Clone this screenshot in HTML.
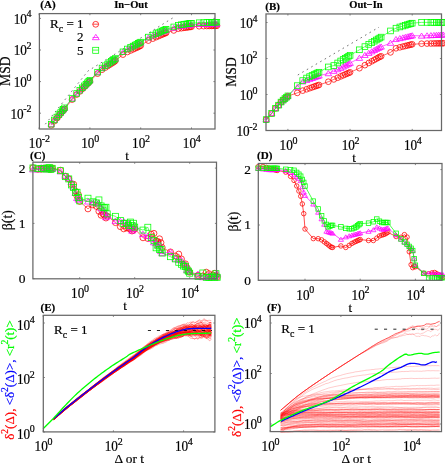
<!DOCTYPE html><html><head><meta charset="utf-8"><style>
html,body{margin:0;padding:0;background:#fff;width:445px;height:463px;overflow:hidden}
svg{display:block;font-family:"Liberation Serif",serif;will-change:transform}
text{stroke:currentColor;stroke-width:0.2px}
</style></head><body>
<svg width="445" height="463" viewBox="0 0 445 463">
<path d="M45.3 124.2L88.1 70.9L173.3 17.6" fill="none" stroke="#444" stroke-width="0.75" stroke-dasharray="1.6 3.6"/>
<path d="M51.22 125.27 54.39 121.09 56.85 118.12 58.87 115.69 60.57 113.65 62.04 111.87 63.34 110.3 64.5 108.9 72.15 99.57 76.62 94.58 79.79 91.41 82.25 88.95 84.27 86.93 85.97 85.23 87.44 83.76 88.74 82.46 89.9 81.3 97.55 73.63 102.02 69.68 105.19 67.61 107.65 66 109.67 64.69 111.37 63.57 112.84 62.61 114.14 61.76 115.3 60.86 122.95 54.57 127.42 51.94 130.59 50.45 133.05 49.3 135.07 48.36 136.77 47.57 138.24 46.87 139.54 46.2 140.7 45.57 148.35 40.55 152.82 38.57 155.99 37.17 158.45 36.09 160.47 35.2 162.17 34.45 163.64 33.8 164.94 33.23 166.1 32.86 173.75 30.4 178.22 28.67 181.39 28.2 183.85 27.83 185.87 27.53 187.57 27.28 189.04 27.06 190.34 26.87 191.5 26.7 199.15 26.2 203.62 26.06 206.79 25.97 209.25 25.9 211.27 25.84 212.97 25.79 214.44 25.75 215.74 25.71 216.9 25.7" fill="none" stroke="#ff0000" stroke-width="0.6" stroke-linejoin="round" />
<g fill="none" stroke="#ff0000" stroke-width="0.75"><circle cx="51.22" cy="125.27" r="2.9"/><circle cx="54.39" cy="121.09" r="2.9"/><circle cx="56.85" cy="118.12" r="2.9"/><circle cx="58.87" cy="115.69" r="2.9"/><circle cx="60.57" cy="113.65" r="2.9"/><circle cx="62.04" cy="111.87" r="2.9"/><circle cx="63.34" cy="110.3" r="2.9"/><circle cx="64.5" cy="108.9" r="2.9"/><circle cx="72.15" cy="99.57" r="2.9"/><circle cx="76.62" cy="94.58" r="2.9"/><circle cx="79.79" cy="91.41" r="2.9"/><circle cx="82.25" cy="88.95" r="2.9"/><circle cx="84.27" cy="86.93" r="2.9"/><circle cx="85.97" cy="85.23" r="2.9"/><circle cx="87.44" cy="83.76" r="2.9"/><circle cx="88.74" cy="82.46" r="2.9"/><circle cx="89.9" cy="81.3" r="2.9"/><circle cx="97.55" cy="73.63" r="2.9"/><circle cx="102.02" cy="69.68" r="2.9"/><circle cx="105.19" cy="67.61" r="2.9"/><circle cx="107.65" cy="66" r="2.9"/><circle cx="109.67" cy="64.69" r="2.9"/><circle cx="111.37" cy="63.57" r="2.9"/><circle cx="112.84" cy="62.61" r="2.9"/><circle cx="114.14" cy="61.76" r="2.9"/><circle cx="115.3" cy="60.86" r="2.9"/><circle cx="122.95" cy="54.57" r="2.9"/><circle cx="127.42" cy="51.94" r="2.9"/><circle cx="130.59" cy="50.45" r="2.9"/><circle cx="133.05" cy="49.3" r="2.9"/><circle cx="135.07" cy="48.36" r="2.9"/><circle cx="136.77" cy="47.57" r="2.9"/><circle cx="138.24" cy="46.87" r="2.9"/><circle cx="139.54" cy="46.2" r="2.9"/><circle cx="140.7" cy="45.57" r="2.9"/><circle cx="148.35" cy="40.55" r="2.9"/><circle cx="152.82" cy="38.57" r="2.9"/><circle cx="155.99" cy="37.17" r="2.9"/><circle cx="158.45" cy="36.09" r="2.9"/><circle cx="160.47" cy="35.2" r="2.9"/><circle cx="162.17" cy="34.45" r="2.9"/><circle cx="163.64" cy="33.8" r="2.9"/><circle cx="164.94" cy="33.23" r="2.9"/><circle cx="166.1" cy="32.86" r="2.9"/><circle cx="173.75" cy="30.4" r="2.9"/><circle cx="178.22" cy="28.67" r="2.9"/><circle cx="181.39" cy="28.2" r="2.9"/><circle cx="183.85" cy="27.83" r="2.9"/><circle cx="185.87" cy="27.53" r="2.9"/><circle cx="187.57" cy="27.28" r="2.9"/><circle cx="189.04" cy="27.06" r="2.9"/><circle cx="190.34" cy="26.87" r="2.9"/><circle cx="191.5" cy="26.7" r="2.9"/><circle cx="199.15" cy="26.2" r="2.9"/><circle cx="203.62" cy="26.06" r="2.9"/><circle cx="206.79" cy="25.97" r="2.9"/><circle cx="209.25" cy="25.9" r="2.9"/><circle cx="211.27" cy="25.84" r="2.9"/><circle cx="212.97" cy="25.79" r="2.9"/><circle cx="214.44" cy="25.75" r="2.9"/><circle cx="215.74" cy="25.71" r="2.9"/><circle cx="216.9" cy="25.7" r="2.9"/></g>
<path d="M51.22 124.47 54.39 120.29 56.85 117.32 58.87 114.89 60.57 112.85 62.04 111.07 63.34 109.5 64.5 108.1 72.15 98.77 76.62 93.78 79.79 90.61 82.25 88.15 84.27 86.13 85.97 84.43 87.44 82.96 88.74 81.66 89.9 80.5 97.55 72.45 102.02 68.28 105.19 66.05 107.65 64.32 109.67 62.9 111.37 61.71 112.84 60.67 114.14 59.75 115.3 58.79 122.95 52.12 127.42 49.27 130.59 47.64 133.05 46.41 135.07 45.41 136.77 44.57 138.24 43.83 139.54 43.19 140.7 42.58 148.35 37.71 152.82 35.83 155.99 34.49 158.45 33.46 160.47 32.61 162.17 31.89 163.64 31.27 164.94 30.73 166.1 30.38 173.75 28.08 178.22 26.43 181.39 26.03 183.85 25.71 185.87 25.45 187.57 25.23 189.04 25.05 190.34 24.88 191.5 24.73 199.15 24.38 203.62 24.34 206.79 24.27 209.25 24.2 211.27 24.14 212.97 24.09 214.44 24.05 215.74 24.01 216.9 24" fill="none" stroke="#ff00ff" stroke-width="0.6" stroke-linejoin="round" />
<g fill="none" stroke="#ff00ff" stroke-width="0.75"><path d="M51.22 121.72L54.38 126.67H48.06Z"/><path d="M54.39 117.54L57.55 122.49H51.23Z"/><path d="M56.85 114.57L60.02 119.52H53.69Z"/><path d="M58.87 112.14L62.03 117.09H55.7Z"/><path d="M60.57 110.1L63.73 115.05H57.4Z"/><path d="M62.04 108.32L65.2 113.27H58.88Z"/><path d="M63.34 106.75L66.5 111.7H60.18Z"/><path d="M64.5 105.35L67.66 110.3H61.34Z"/><path d="M72.15 96.02L75.31 100.97H68.98Z"/><path d="M76.62 91.03L79.78 95.98H73.46Z"/><path d="M79.79 87.86L82.95 92.81H76.63Z"/><path d="M82.25 85.4L85.42 90.35H79.09Z"/><path d="M84.27 83.38L87.43 88.33H81.1Z"/><path d="M85.97 81.68L89.13 86.63H82.8Z"/><path d="M87.44 80.21L90.6 85.16H84.28Z"/><path d="M88.74 78.91L91.9 83.86H85.58Z"/><path d="M89.9 77.75L93.06 82.7H86.74Z"/><path d="M97.55 69.7L100.71 74.65H94.38Z"/><path d="M102.02 65.53L105.18 70.48H98.86Z"/><path d="M105.19 63.3L108.35 68.25H102.03Z"/><path d="M107.65 61.57L110.82 66.52H104.49Z"/><path d="M109.67 60.15L112.83 65.1H106.5Z"/><path d="M111.37 58.96L114.53 63.91H108.2Z"/><path d="M112.84 57.92L116 62.87H109.68Z"/><path d="M114.14 57L117.3 61.95H110.98Z"/><path d="M115.3 56.04L118.46 60.99H112.14Z"/><path d="M122.95 49.37L126.11 54.32H119.78Z"/><path d="M127.42 46.52L130.58 51.47H124.26Z"/><path d="M130.59 44.89L133.75 49.84H127.43Z"/><path d="M133.05 43.66L136.22 48.61H129.89Z"/><path d="M135.07 42.66L138.23 47.61H131.9Z"/><path d="M136.77 41.82L139.93 46.77H133.6Z"/><path d="M138.24 41.08L141.4 46.03H135.08Z"/><path d="M139.54 40.44L142.7 45.39H136.38Z"/><path d="M140.7 39.83L143.86 44.78H137.54Z"/><path d="M148.35 34.96L151.51 39.91H145.18Z"/><path d="M152.82 33.08L155.98 38.03H149.66Z"/><path d="M155.99 31.74L159.15 36.69H152.83Z"/><path d="M158.45 30.71L161.62 35.66H155.29Z"/><path d="M160.47 29.86L163.63 34.81H157.3Z"/><path d="M162.17 29.14L165.33 34.09H159Z"/><path d="M163.64 28.52L166.8 33.47H160.48Z"/><path d="M164.94 27.98L168.1 32.93H161.78Z"/><path d="M166.1 27.63L169.26 32.58H162.94Z"/><path d="M173.75 25.33L176.91 30.28H170.58Z"/><path d="M178.22 23.68L181.38 28.63H175.06Z"/><path d="M181.39 23.28L184.55 28.23H178.23Z"/><path d="M183.85 22.96L187.02 27.91H180.69Z"/><path d="M185.87 22.7L189.03 27.65H182.7Z"/><path d="M187.57 22.48L190.73 27.43H184.4Z"/><path d="M189.04 22.3L192.2 27.25H185.88Z"/><path d="M190.34 22.13L193.5 27.08H187.18Z"/><path d="M191.5 21.98L194.66 26.93H188.34Z"/><path d="M199.15 21.63L202.31 26.58H195.98Z"/><path d="M203.62 21.59L206.78 26.54H200.46Z"/><path d="M206.79 21.52L209.95 26.47H203.63Z"/><path d="M209.25 21.45L212.42 26.4H206.09Z"/><path d="M211.27 21.39L214.43 26.34H208.1Z"/><path d="M212.97 21.34L216.13 26.29H209.8Z"/><path d="M214.44 21.3L217.6 26.25H211.28Z"/><path d="M215.74 21.26L218.9 26.21H212.58Z"/><path d="M216.9 21.25L220.06 26.2H213.74Z"/></g>
<path d="M51.22 124.17 54.39 119.99 56.85 117.02 58.87 114.59 60.57 112.55 62.04 110.77 63.34 109.2 64.5 107.8 72.15 98.47 76.62 93.48 79.79 90.31 82.25 87.85 84.27 85.83 85.97 84.13 87.44 82.66 88.74 81.36 89.9 80.2 97.55 72.15 102.02 67.98 105.19 65.75 107.65 64.02 109.67 62.6 111.37 61.41 112.84 60.37 114.14 59.45 115.3 58.49 122.95 51.82 127.42 48.97 130.59 47.32 133.05 46.05 135.07 45.01 136.77 44.13 138.24 43.37 139.54 42.7 140.7 42.07 148.35 37.05 152.82 35.07 155.99 33.67 158.45 32.59 160.47 31.7 162.17 30.95 163.64 30.3 164.94 29.73 166.1 29.36 173.75 26.9 178.22 25.17 181.39 24.7 183.85 24.33 185.87 24.03 187.57 23.78 189.04 23.56 190.34 23.37 191.5 23.2 199.15 22.7 203.62 22.56 206.79 22.47 209.25 22.4 211.27 22.34 212.97 22.29 214.44 22.25 215.74 22.21 216.9 22.2" fill="none" stroke="#00ff00" stroke-width="0.6" stroke-linejoin="round" />
<g fill="none" stroke="#00ff00" stroke-width="0.75"><rect x="48.42" y="121.37" width="5.6" height="5.6"/><rect x="51.59" y="117.19" width="5.6" height="5.6"/><rect x="54.05" y="114.22" width="5.6" height="5.6"/><rect x="56.07" y="111.79" width="5.6" height="5.6"/><rect x="57.77" y="109.75" width="5.6" height="5.6"/><rect x="59.24" y="107.97" width="5.6" height="5.6"/><rect x="60.54" y="106.4" width="5.6" height="5.6"/><rect x="61.7" y="105" width="5.6" height="5.6"/><rect x="69.35" y="95.67" width="5.6" height="5.6"/><rect x="73.82" y="90.68" width="5.6" height="5.6"/><rect x="76.99" y="87.51" width="5.6" height="5.6"/><rect x="79.45" y="85.05" width="5.6" height="5.6"/><rect x="81.47" y="83.03" width="5.6" height="5.6"/><rect x="83.17" y="81.33" width="5.6" height="5.6"/><rect x="84.64" y="79.86" width="5.6" height="5.6"/><rect x="85.94" y="78.56" width="5.6" height="5.6"/><rect x="87.1" y="77.4" width="5.6" height="5.6"/><rect x="94.75" y="69.35" width="5.6" height="5.6"/><rect x="99.22" y="65.18" width="5.6" height="5.6"/><rect x="102.39" y="62.95" width="5.6" height="5.6"/><rect x="104.85" y="61.22" width="5.6" height="5.6"/><rect x="106.87" y="59.8" width="5.6" height="5.6"/><rect x="108.57" y="58.61" width="5.6" height="5.6"/><rect x="110.04" y="57.57" width="5.6" height="5.6"/><rect x="111.34" y="56.65" width="5.6" height="5.6"/><rect x="112.5" y="55.69" width="5.6" height="5.6"/><rect x="120.15" y="49.02" width="5.6" height="5.6"/><rect x="124.62" y="46.17" width="5.6" height="5.6"/><rect x="127.79" y="44.52" width="5.6" height="5.6"/><rect x="130.25" y="43.25" width="5.6" height="5.6"/><rect x="132.27" y="42.21" width="5.6" height="5.6"/><rect x="133.97" y="41.33" width="5.6" height="5.6"/><rect x="135.44" y="40.57" width="5.6" height="5.6"/><rect x="136.74" y="39.9" width="5.6" height="5.6"/><rect x="137.9" y="39.27" width="5.6" height="5.6"/><rect x="145.55" y="34.25" width="5.6" height="5.6"/><rect x="150.02" y="32.27" width="5.6" height="5.6"/><rect x="153.19" y="30.87" width="5.6" height="5.6"/><rect x="155.65" y="29.79" width="5.6" height="5.6"/><rect x="157.67" y="28.9" width="5.6" height="5.6"/><rect x="159.37" y="28.15" width="5.6" height="5.6"/><rect x="160.84" y="27.5" width="5.6" height="5.6"/><rect x="162.14" y="26.93" width="5.6" height="5.6"/><rect x="163.3" y="26.56" width="5.6" height="5.6"/><rect x="170.95" y="24.1" width="5.6" height="5.6"/><rect x="175.42" y="22.37" width="5.6" height="5.6"/><rect x="178.59" y="21.9" width="5.6" height="5.6"/><rect x="181.05" y="21.53" width="5.6" height="5.6"/><rect x="183.07" y="21.23" width="5.6" height="5.6"/><rect x="184.77" y="20.98" width="5.6" height="5.6"/><rect x="186.24" y="20.76" width="5.6" height="5.6"/><rect x="187.54" y="20.57" width="5.6" height="5.6"/><rect x="188.7" y="20.4" width="5.6" height="5.6"/><rect x="196.35" y="19.9" width="5.6" height="5.6"/><rect x="200.82" y="19.76" width="5.6" height="5.6"/><rect x="203.99" y="19.67" width="5.6" height="5.6"/><rect x="206.45" y="19.6" width="5.6" height="5.6"/><rect x="208.47" y="19.54" width="5.6" height="5.6"/><rect x="210.17" y="19.49" width="5.6" height="5.6"/><rect x="211.64" y="19.45" width="5.6" height="5.6"/><rect x="212.94" y="19.41" width="5.6" height="5.6"/><rect x="214.1" y="19.4" width="5.6" height="5.6"/></g>
<rect x="39.4" y="13.6" width="175.6" height="115.4" fill="none" stroke="#686868" stroke-width="1.25"/>
<path d="M39.1 129.0v-1.6M39.1 13.6v1.6" stroke="#686868" stroke-width="0.8"/>
<path d="M89.9 129.0v-1.6M89.9 13.6v1.6" stroke="#686868" stroke-width="0.8"/>
<path d="M140.7 129.0v-1.6M140.7 13.6v1.6" stroke="#686868" stroke-width="0.8"/>
<path d="M191.5 129.0v-1.6M191.5 13.6v1.6" stroke="#686868" stroke-width="0.8"/>
<path d="M39.4 113.2h1.6M215.0 113.2h-1.6" stroke="#686868" stroke-width="0.8"/>
<path d="M39.4 81.6h1.6M215.0 81.6h-1.6" stroke="#686868" stroke-width="0.8"/>
<path d="M39.4 50h1.6M215.0 50h-1.6" stroke="#686868" stroke-width="0.8"/>
<path d="M39.4 18.4h1.6M215.0 18.4h-1.6" stroke="#686868" stroke-width="0.8"/>
<text transform="translate(39.4 148.2) scale(1 1.1)" text-anchor="middle" font-size="13.2">10<tspan font-size="10" dy="-5.8" dx="-0.3">-2</tspan></text>
<text transform="translate(90.2 148.2) scale(1 1.1)" text-anchor="middle" font-size="13.2">10<tspan font-size="10" dy="-5.8" dx="-0.3">0</tspan></text>
<text transform="translate(141 148.2) scale(1 1.1)" text-anchor="middle" font-size="13.2">10<tspan font-size="10" dy="-5.8" dx="-0.3">2</tspan></text>
<text transform="translate(191.8 148.2) scale(1 1.1)" text-anchor="middle" font-size="13.2">10<tspan font-size="10" dy="-5.8" dx="-0.3">4</tspan></text>
<text transform="translate(31.6 118.5) scale(1 1.1)" text-anchor="end" font-size="13.2">10<tspan font-size="10" dy="-5.8" dx="-0.3">-2</tspan></text>
<text transform="translate(31.6 86.9) scale(1 1.1)" text-anchor="end" font-size="13.2">10<tspan font-size="10" dy="-5.8" dx="-0.3">0</tspan></text>
<text transform="translate(31.6 55.3) scale(1 1.1)" text-anchor="end" font-size="13.2">10<tspan font-size="10" dy="-5.8" dx="-0.3">2</tspan></text>
<text transform="translate(31.6 23.7) scale(1 1.1)" text-anchor="end" font-size="13.2">10<tspan font-size="10" dy="-5.8" dx="-0.3">4</tspan></text>
<text x="50" y="27.8" text-anchor="start" font-size="13" >R<tspan font-size="10" dy="3.8">c</tspan><tspan dy="-3.8"> = 1</tspan></text>
<text x="77" y="41.3" text-anchor="start" font-size="13" >2</text>
<text x="77" y="54.8" text-anchor="start" font-size="13" >5</text>
<path d="M92.6 24.2h6" stroke="#ff0000" stroke-width="0.7"/>
<g fill="none" stroke="#ff0000" stroke-width="0.75"><circle cx="95.7" cy="24.3" r="2.9"/></g>
<path d="M92.6 37.5h6" stroke="#ff00ff" stroke-width="0.7"/>
<g fill="none" stroke="#ff00ff" stroke-width="0.75"><path d="M95.8 34.3L99.25 39.7H92.35Z"/></g>
<path d="M92.6 50.1h6" stroke="#00ff00" stroke-width="0.7"/>
<g fill="none" stroke="#00ff00" stroke-width="0.75"><rect x="92.7" y="47.3" width="6" height="6"/></g>
<path d="M297.8 75L379 27.2" fill="none" stroke="#444" stroke-width="0.75" stroke-dasharray="1.6 3.6"/>
<path d="M266.18 119.61 271.65 113.47 275.53 108.27 278.54 105.17 281 102.07 283.09 100.14 284.89 98.57 286.48 97.18 287.9 96.1 297.26 92.89 302.73 90.62 306.61 89.27 309.62 88.22 312.08 87.36 314.17 86.64 315.97 86.01 317.56 85.46 318.98 84.97 328.34 81.73 333.81 79.43 337.69 77.72 340.7 76.39 343.16 75.33 345.25 74.42 347.05 73.64 348.64 72.95 350.06 72.34 359.42 68.21 364.89 65.15 368.77 62.98 371.78 61.29 374.24 59.92 376.33 58.75 378.13 57.75 379.72 56.86 381.14 56.27 390.5 52.39 395.97 48.28 399.85 47.33 402.86 46.59 405.32 45.99 407.41 45.47 409.21 45.03 410.8 44.64 412.22 44.29 421.58 43.7 427.05 43.58 430.93 43.5 433.94 43.43 436.4 43.38 438.49 43.34 440.29 43.3 441.88 43.27 443.3 43.24" fill="none" stroke="#ff0000" stroke-width="0.6" stroke-linejoin="round" />
<g fill="none" stroke="#ff0000" stroke-width="0.75"><circle cx="266.18" cy="119.61" r="2.85"/><circle cx="271.65" cy="113.47" r="2.85"/><circle cx="275.53" cy="108.27" r="2.85"/><circle cx="278.54" cy="105.17" r="2.85"/><circle cx="281" cy="102.07" r="2.85"/><circle cx="283.09" cy="100.14" r="2.85"/><circle cx="284.89" cy="98.57" r="2.85"/><circle cx="286.48" cy="97.18" r="2.85"/><circle cx="287.9" cy="96.1" r="2.85"/><circle cx="297.26" cy="92.89" r="2.85"/><circle cx="302.73" cy="90.62" r="2.85"/><circle cx="306.61" cy="89.27" r="2.85"/><circle cx="309.62" cy="88.22" r="2.85"/><circle cx="312.08" cy="87.36" r="2.85"/><circle cx="314.17" cy="86.64" r="2.85"/><circle cx="315.97" cy="86.01" r="2.85"/><circle cx="317.56" cy="85.46" r="2.85"/><circle cx="318.98" cy="84.97" r="2.85"/><circle cx="328.34" cy="81.73" r="2.85"/><circle cx="333.81" cy="79.43" r="2.85"/><circle cx="337.69" cy="77.72" r="2.85"/><circle cx="340.7" cy="76.39" r="2.85"/><circle cx="343.16" cy="75.33" r="2.85"/><circle cx="345.25" cy="74.42" r="2.85"/><circle cx="347.05" cy="73.64" r="2.85"/><circle cx="348.64" cy="72.95" r="2.85"/><circle cx="350.06" cy="72.34" r="2.85"/><circle cx="359.42" cy="68.21" r="2.85"/><circle cx="364.89" cy="65.15" r="2.85"/><circle cx="368.77" cy="62.98" r="2.85"/><circle cx="371.78" cy="61.29" r="2.85"/><circle cx="374.24" cy="59.92" r="2.85"/><circle cx="376.33" cy="58.75" r="2.85"/><circle cx="378.13" cy="57.75" r="2.85"/><circle cx="379.72" cy="56.86" r="2.85"/><circle cx="381.14" cy="56.27" r="2.85"/><circle cx="390.5" cy="52.39" r="2.85"/><circle cx="395.97" cy="48.28" r="2.85"/><circle cx="399.85" cy="47.33" r="2.85"/><circle cx="402.86" cy="46.59" r="2.85"/><circle cx="405.32" cy="45.99" r="2.85"/><circle cx="407.41" cy="45.47" r="2.85"/><circle cx="409.21" cy="45.03" r="2.85"/><circle cx="410.8" cy="44.64" r="2.85"/><circle cx="412.22" cy="44.29" r="2.85"/><circle cx="421.58" cy="43.7" r="2.85"/><circle cx="427.05" cy="43.58" r="2.85"/><circle cx="430.93" cy="43.5" r="2.85"/><circle cx="433.94" cy="43.43" r="2.85"/><circle cx="436.4" cy="43.38" r="2.85"/><circle cx="438.49" cy="43.34" r="2.85"/><circle cx="440.29" cy="43.3" r="2.85"/><circle cx="441.88" cy="43.27" r="2.85"/><circle cx="443.3" cy="43.24" r="2.85"/></g>
<path d="M266.18 119.61 271.65 113.47 275.53 108.27 278.54 105.17 281 102.07 283.09 100.14 284.89 98.57 286.48 97.18 287.9 95.92 297.26 87.21 302.73 81.66 306.61 80.24 309.62 79.13 312.08 78.23 314.17 77.47 315.97 76.81 317.56 76.23 318.98 75.71 328.34 73.44 333.81 71.08 337.69 69.46 340.7 68.12 343.16 66.8 345.25 65.68 347.05 64.72 348.64 63.86 350.06 63.1 359.42 58.09 364.89 55.2 368.77 53.14 371.78 51.55 374.24 50.25 376.33 49.14 378.13 48.19 379.72 47.35 381.14 46.78 390.5 43.05 395.97 39.29 399.85 38.41 402.86 37.72 405.32 37.15 407.41 36.68 409.21 36.27 410.8 35.9 412.22 35.58 421.58 35.89 427.05 35.61 430.93 35.42 433.94 35.26 436.4 35.14 438.49 35.03 440.29 34.94 441.88 34.86 443.3 34.79" fill="none" stroke="#ff00ff" stroke-width="0.6" stroke-linejoin="round" />
<g fill="none" stroke="#ff00ff" stroke-width="0.75"><path d="M266.18 116.76L269.45 121.89H262.9Z"/><path d="M271.65 110.62L274.93 115.75H268.37Z"/><path d="M275.53 105.42L278.81 110.55H272.25Z"/><path d="M278.54 102.32L281.82 107.45H275.27Z"/><path d="M281 99.22L284.28 104.35H277.73Z"/><path d="M283.09 97.29L286.36 102.42H279.81Z"/><path d="M284.89 95.72L288.17 100.85H281.61Z"/><path d="M286.48 94.33L289.76 99.46H283.2Z"/><path d="M287.9 93.07L291.18 98.2H284.62Z"/><path d="M297.26 84.36L300.53 89.49H293.98Z"/><path d="M302.73 78.81L306.01 83.94H299.45Z"/><path d="M306.61 77.39L309.89 82.52H303.33Z"/><path d="M309.62 76.28L312.9 81.41H306.35Z"/><path d="M312.08 75.38L315.36 80.51H308.81Z"/><path d="M314.17 74.62L317.44 79.75H310.89Z"/><path d="M315.97 73.96L319.25 79.09H312.69Z"/><path d="M317.56 73.38L320.84 78.51H314.28Z"/><path d="M318.98 72.86L322.26 77.99H315.7Z"/><path d="M328.34 70.59L331.61 75.72H325.06Z"/><path d="M333.81 68.23L337.09 73.36H330.53Z"/><path d="M337.69 66.61L340.97 71.74H334.41Z"/><path d="M340.7 65.27L343.98 70.4H337.43Z"/><path d="M343.16 63.95L346.44 69.08H339.89Z"/><path d="M345.25 62.83L348.52 67.96H341.97Z"/><path d="M347.05 61.87L350.33 67H343.77Z"/><path d="M348.64 61.01L351.92 66.14H345.36Z"/><path d="M350.06 60.25L353.34 65.38H346.78Z"/><path d="M359.42 55.24L362.69 60.37H356.14Z"/><path d="M364.89 52.35L368.17 57.48H361.61Z"/><path d="M368.77 50.29L372.05 55.42H365.49Z"/><path d="M371.78 48.7L375.06 53.83H368.51Z"/><path d="M374.24 47.4L377.52 52.53H370.97Z"/><path d="M376.33 46.29L379.6 51.42H373.05Z"/><path d="M378.13 45.34L381.41 50.47H374.85Z"/><path d="M379.72 44.5L383 49.63H376.44Z"/><path d="M381.14 43.93L384.42 49.06H377.86Z"/><path d="M390.5 40.2L393.77 45.33H387.22Z"/><path d="M395.97 36.44L399.25 41.57H392.69Z"/><path d="M399.85 35.56L403.13 40.69H396.57Z"/><path d="M402.86 34.87L406.14 40H399.59Z"/><path d="M405.32 34.3L408.6 39.43H402.05Z"/><path d="M407.41 33.83L410.68 38.96H404.13Z"/><path d="M409.21 33.42L412.49 38.55H405.93Z"/><path d="M410.8 33.05L414.08 38.18H407.52Z"/><path d="M412.22 32.73L415.5 37.86H408.94Z"/><path d="M421.58 33.04L424.85 38.17H418.3Z"/><path d="M427.05 32.76L430.33 37.89H423.77Z"/><path d="M430.93 32.57L434.21 37.7H427.65Z"/><path d="M433.94 32.41L437.22 37.54H430.67Z"/><path d="M436.4 32.29L439.68 37.42H433.13Z"/><path d="M438.49 32.18L441.76 37.31H435.21Z"/><path d="M440.29 32.09L443.57 37.22H437.01Z"/><path d="M441.88 32.01L445.16 37.14H438.6Z"/><path d="M443.3 31.94L446.58 37.07H440.02Z"/></g>
<path d="M266.18 119.61 271.65 113.47 275.53 108.27 278.54 105.17 281 102.07 283.09 100.14 284.89 98.57 286.48 97.18 287.9 95.87 297.26 85.66 302.73 80.59 306.61 78.05 309.62 76.64 312.08 75.5 314.17 74.53 315.97 73.69 317.56 72.95 318.98 72.2 328.34 66.94 333.81 65.55 337.69 62.98 340.7 60.98 343.16 59.5 345.25 58.26 347.05 57.18 348.64 56.23 350.06 55.38 359.42 49.8 364.89 46.63 368.77 44.37 371.78 42.63 374.24 41.2 376.33 39.99 378.13 38.94 379.72 38.02 381.14 37.1 390.5 30.93 395.97 28.16 399.85 26.96 402.86 26.04 405.32 25.29 407.41 24.65 409.21 24.09 410.8 23.61 412.22 23.17 421.58 22.4 427.05 22.4 430.93 22.4 433.94 22.4 436.4 22.4 438.49 22.4 440.29 22.4 441.88 22.4 443.3 22.4" fill="none" stroke="#00ff00" stroke-width="0.6" stroke-linejoin="round" />
<g fill="none" stroke="#00ff00" stroke-width="0.75"><rect x="263.33" y="116.76" width="5.7" height="5.7"/><rect x="268.8" y="110.62" width="5.7" height="5.7"/><rect x="272.68" y="105.42" width="5.7" height="5.7"/><rect x="275.69" y="102.32" width="5.7" height="5.7"/><rect x="278.15" y="99.22" width="5.7" height="5.7"/><rect x="280.24" y="97.29" width="5.7" height="5.7"/><rect x="282.04" y="95.72" width="5.7" height="5.7"/><rect x="283.63" y="94.33" width="5.7" height="5.7"/><rect x="285.05" y="93.02" width="5.7" height="5.7"/><rect x="294.41" y="82.81" width="5.7" height="5.7"/><rect x="299.88" y="77.74" width="5.7" height="5.7"/><rect x="303.76" y="75.2" width="5.7" height="5.7"/><rect x="306.77" y="73.79" width="5.7" height="5.7"/><rect x="309.23" y="72.65" width="5.7" height="5.7"/><rect x="311.32" y="71.68" width="5.7" height="5.7"/><rect x="313.12" y="70.84" width="5.7" height="5.7"/><rect x="314.71" y="70.1" width="5.7" height="5.7"/><rect x="316.13" y="69.35" width="5.7" height="5.7"/><rect x="325.49" y="64.09" width="5.7" height="5.7"/><rect x="330.96" y="62.7" width="5.7" height="5.7"/><rect x="334.84" y="60.13" width="5.7" height="5.7"/><rect x="337.85" y="58.13" width="5.7" height="5.7"/><rect x="340.31" y="56.65" width="5.7" height="5.7"/><rect x="342.4" y="55.41" width="5.7" height="5.7"/><rect x="344.2" y="54.33" width="5.7" height="5.7"/><rect x="345.79" y="53.38" width="5.7" height="5.7"/><rect x="347.21" y="52.53" width="5.7" height="5.7"/><rect x="356.57" y="46.95" width="5.7" height="5.7"/><rect x="362.04" y="43.78" width="5.7" height="5.7"/><rect x="365.92" y="41.52" width="5.7" height="5.7"/><rect x="368.93" y="39.78" width="5.7" height="5.7"/><rect x="371.39" y="38.35" width="5.7" height="5.7"/><rect x="373.48" y="37.14" width="5.7" height="5.7"/><rect x="375.28" y="36.09" width="5.7" height="5.7"/><rect x="376.87" y="35.17" width="5.7" height="5.7"/><rect x="378.29" y="34.25" width="5.7" height="5.7"/><rect x="387.65" y="28.08" width="5.7" height="5.7"/><rect x="393.12" y="25.31" width="5.7" height="5.7"/><rect x="397" y="24.11" width="5.7" height="5.7"/><rect x="400.01" y="23.19" width="5.7" height="5.7"/><rect x="402.47" y="22.44" width="5.7" height="5.7"/><rect x="404.56" y="21.8" width="5.7" height="5.7"/><rect x="406.36" y="21.24" width="5.7" height="5.7"/><rect x="407.95" y="20.76" width="5.7" height="5.7"/><rect x="409.37" y="20.32" width="5.7" height="5.7"/><rect x="418.73" y="19.55" width="5.7" height="5.7"/><rect x="424.2" y="19.55" width="5.7" height="5.7"/><rect x="428.08" y="19.55" width="5.7" height="5.7"/><rect x="431.09" y="19.55" width="5.7" height="5.7"/><rect x="433.55" y="19.55" width="5.7" height="5.7"/><rect x="435.64" y="19.55" width="5.7" height="5.7"/><rect x="437.44" y="19.55" width="5.7" height="5.7"/><rect x="439.03" y="19.55" width="5.7" height="5.7"/><rect x="440.45" y="19.55" width="5.7" height="5.7"/></g>
<rect x="266" y="13.95" width="175.5" height="116.55" fill="none" stroke="#686868" stroke-width="1.25"/>
<path d="M287.9 130.5v-1.6M287.9 13.95v1.6" stroke="#686868" stroke-width="0.8"/>
<path d="M350.06 130.5v-1.6M350.06 13.95v1.6" stroke="#686868" stroke-width="0.8"/>
<path d="M412.22 130.5v-1.6M412.22 13.95v1.6" stroke="#686868" stroke-width="0.8"/>
<path d="M266 130.5h1.6M441.5 130.5h-1.6" stroke="#686868" stroke-width="0.8"/>
<path d="M266 94.5h1.6M441.5 94.5h-1.6" stroke="#686868" stroke-width="0.8"/>
<path d="M266 58.5h1.6M441.5 58.5h-1.6" stroke="#686868" stroke-width="0.8"/>
<path d="M266 22.5h1.6M441.5 22.5h-1.6" stroke="#686868" stroke-width="0.8"/>
<text transform="translate(288.5 150) scale(1 1.1)" text-anchor="middle" font-size="13.2">10<tspan font-size="10" dy="-5.8" dx="-0.3">0</tspan></text>
<text transform="translate(350.66 150) scale(1 1.1)" text-anchor="middle" font-size="13.2">10<tspan font-size="10" dy="-5.8" dx="-0.3">2</tspan></text>
<text transform="translate(412.82 150) scale(1 1.1)" text-anchor="middle" font-size="13.2">10<tspan font-size="10" dy="-5.8" dx="-0.3">4</tspan></text>
<text transform="translate(257.6 136.3) scale(1 1.1)" text-anchor="end" font-size="13.2">10<tspan font-size="10" dy="-5.8" dx="-0.3">-2</tspan></text>
<text transform="translate(257.6 100.3) scale(1 1.1)" text-anchor="end" font-size="13.2">10<tspan font-size="10" dy="-5.8" dx="-0.3">0</tspan></text>
<text transform="translate(257.6 64.3) scale(1 1.1)" text-anchor="end" font-size="13.2">10<tspan font-size="10" dy="-5.8" dx="-0.3">2</tspan></text>
<text transform="translate(257.6 28.3) scale(1 1.1)" text-anchor="end" font-size="13.2">10<tspan font-size="10" dy="-5.8" dx="-0.3">4</tspan></text>
<path d="M32.98 167.73 37.82 169.3 41.26 169.18 43.92 168.15 46.1 168.69 47.94 168.62 49.53 169.07 50.94 169.38 52.2 167.94 60.48 170.25 65.32 176.32 68.76 178.85 71.42 184.44 73.6 184.24 75.44 191.15 77.03 196.23 78.44 194.69 79.7 201.41 87.98 208.86 92.82 204.82 96.26 206.34 98.92 211.27 101.1 215.22 102.94 214.01 104.53 215.19 105.94 217.98 107.2 216.02 115.48 222.58 120.32 226.64 123.76 228.84 126.42 227.81 128.6 228.41 130.44 228.84 132.03 230.98 133.44 230.19 134.7 228.71 142.98 237.78 147.82 238.48 151.26 234.17 153.92 233.38 156.1 240.99 157.94 241.72 159.53 238.81 160.94 242.69 162.2 247.55 170.48 251.96 175.32 255.99 178.76 254.12 181.42 258.98 183.6 264.34 185.44 263.88 187.03 267.68 188.44 271.35 189.7 272.19 197.98 275.25 202.82 275.97 206.26 272.18 208.92 273.71 211.1 277.3 212.94 275.02 214.53 273.37 215.94 276.04 217.2 277.12" fill="none" stroke="#ff0000" stroke-width="0.6" stroke-linejoin="round" />
<g fill="none" stroke="#ff0000" stroke-width="0.75"><circle cx="32.98" cy="167.73" r="3"/><circle cx="37.82" cy="169.3" r="3"/><circle cx="41.26" cy="169.18" r="3"/><circle cx="43.92" cy="168.15" r="3"/><circle cx="46.1" cy="168.69" r="3"/><circle cx="47.94" cy="168.62" r="3"/><circle cx="49.53" cy="169.07" r="3"/><circle cx="50.94" cy="169.38" r="3"/><circle cx="52.2" cy="167.94" r="3"/><circle cx="60.48" cy="170.25" r="3"/><circle cx="65.32" cy="176.32" r="3"/><circle cx="68.76" cy="178.85" r="3"/><circle cx="71.42" cy="184.44" r="3"/><circle cx="73.6" cy="184.24" r="3"/><circle cx="75.44" cy="191.15" r="3"/><circle cx="77.03" cy="196.23" r="3"/><circle cx="78.44" cy="194.69" r="3"/><circle cx="79.7" cy="201.41" r="3"/><circle cx="87.98" cy="208.86" r="3"/><circle cx="92.82" cy="204.82" r="3"/><circle cx="96.26" cy="206.34" r="3"/><circle cx="98.92" cy="211.27" r="3"/><circle cx="101.1" cy="215.22" r="3"/><circle cx="102.94" cy="214.01" r="3"/><circle cx="104.53" cy="215.19" r="3"/><circle cx="105.94" cy="217.98" r="3"/><circle cx="107.2" cy="216.02" r="3"/><circle cx="115.48" cy="222.58" r="3"/><circle cx="120.32" cy="226.64" r="3"/><circle cx="123.76" cy="228.84" r="3"/><circle cx="126.42" cy="227.81" r="3"/><circle cx="128.6" cy="228.41" r="3"/><circle cx="130.44" cy="228.84" r="3"/><circle cx="132.03" cy="230.98" r="3"/><circle cx="133.44" cy="230.19" r="3"/><circle cx="134.7" cy="228.71" r="3"/><circle cx="142.98" cy="237.78" r="3"/><circle cx="147.82" cy="238.48" r="3"/><circle cx="151.26" cy="234.17" r="3"/><circle cx="153.92" cy="233.38" r="3"/><circle cx="156.1" cy="240.99" r="3"/><circle cx="157.94" cy="241.72" r="3"/><circle cx="159.53" cy="238.81" r="3"/><circle cx="160.94" cy="242.69" r="3"/><circle cx="162.2" cy="247.55" r="3"/><circle cx="170.48" cy="251.96" r="3"/><circle cx="175.32" cy="255.99" r="3"/><circle cx="178.76" cy="254.12" r="3"/><circle cx="181.42" cy="258.98" r="3"/><circle cx="183.6" cy="264.34" r="3"/><circle cx="185.44" cy="263.88" r="3"/><circle cx="187.03" cy="267.68" r="3"/><circle cx="188.44" cy="271.35" r="3"/><circle cx="189.7" cy="272.19" r="3"/><circle cx="197.98" cy="275.25" r="3"/><circle cx="202.82" cy="275.97" r="3"/><circle cx="206.26" cy="272.18" r="3"/><circle cx="208.92" cy="273.71" r="3"/><circle cx="211.1" cy="277.3" r="3"/><circle cx="212.94" cy="275.02" r="3"/><circle cx="214.53" cy="273.37" r="3"/><circle cx="215.94" cy="276.04" r="3"/><circle cx="217.2" cy="277.12" r="3"/></g>
<path d="M32.98 169.46 37.82 169.51 41.26 167.69 43.92 167.79 46.1 169.4 47.94 169.22 49.53 169.11 50.94 168.37 52.2 169.01 60.48 171.46 65.32 175.79 68.76 178.28 71.42 182.11 73.6 186.98 75.44 193.09 77.03 198.15 78.44 199.73 79.7 198.6 87.98 201.66 92.82 202.48 96.26 202.42 98.92 203.67 101.1 207.9 102.94 209.57 104.53 212.33 105.94 217.27 107.2 215.5 115.48 220.95 120.32 221.23 123.76 221.54 126.42 224.46 128.6 223.75 130.44 226.88 132.03 230.75 133.44 228.88 134.7 225.83 142.98 234.17 147.82 236.16 151.26 238.82 153.92 242.42 156.1 243.38 157.94 245.22 159.53 244.44 160.94 251.22 162.2 253.23 170.48 252.11 175.32 258.71 178.76 260.18 181.42 260.4 183.6 263.36 185.44 265.18 187.03 270.05 188.44 268.68 189.7 272.09 197.98 274.19 202.82 277.3 206.26 277.3 208.92 275.24 211.1 276.04 212.94 277.3 214.53 277.23 215.94 275.6 217.2 273.75" fill="none" stroke="#ff00ff" stroke-width="0.6" stroke-linejoin="round" />
<g fill="none" stroke="#ff00ff" stroke-width="0.75"><path d="M32.98 166.46L36.43 171.86H29.53Z"/><path d="M37.82 166.51L41.27 171.91H34.37Z"/><path d="M41.26 164.69L44.71 170.09H37.81Z"/><path d="M43.92 164.79L47.37 170.19H40.47Z"/><path d="M46.1 166.4L49.55 171.8H42.65Z"/><path d="M47.94 166.22L51.39 171.62H44.49Z"/><path d="M49.53 166.11L52.98 171.51H46.08Z"/><path d="M50.94 165.37L54.39 170.77H47.49Z"/><path d="M52.2 166.01L55.65 171.41H48.75Z"/><path d="M60.48 168.46L63.93 173.86H57.03Z"/><path d="M65.32 172.79L68.77 178.19H61.87Z"/><path d="M68.76 175.28L72.21 180.68H65.31Z"/><path d="M71.42 179.11L74.87 184.51H67.97Z"/><path d="M73.6 183.98L77.05 189.38H70.15Z"/><path d="M75.44 190.09L78.89 195.49H71.99Z"/><path d="M77.03 195.15L80.48 200.55H73.58Z"/><path d="M78.44 196.73L81.89 202.13H74.99Z"/><path d="M79.7 195.6L83.15 201H76.25Z"/><path d="M87.98 198.66L91.43 204.06H84.53Z"/><path d="M92.82 199.48L96.27 204.88H89.37Z"/><path d="M96.26 199.42L99.71 204.82H92.81Z"/><path d="M98.92 200.67L102.37 206.07H95.47Z"/><path d="M101.1 204.9L104.55 210.3H97.65Z"/><path d="M102.94 206.57L106.39 211.97H99.49Z"/><path d="M104.53 209.33L107.98 214.73H101.08Z"/><path d="M105.94 214.27L109.39 219.67H102.49Z"/><path d="M107.2 212.5L110.65 217.9H103.75Z"/><path d="M115.48 217.95L118.93 223.35H112.03Z"/><path d="M120.32 218.23L123.77 223.63H116.87Z"/><path d="M123.76 218.54L127.21 223.94H120.31Z"/><path d="M126.42 221.46L129.87 226.86H122.97Z"/><path d="M128.6 220.75L132.05 226.15H125.15Z"/><path d="M130.44 223.88L133.89 229.28H126.99Z"/><path d="M132.03 227.75L135.48 233.15H128.58Z"/><path d="M133.44 225.88L136.89 231.28H129.99Z"/><path d="M134.7 222.83L138.15 228.23H131.25Z"/><path d="M142.98 231.17L146.43 236.57H139.53Z"/><path d="M147.82 233.16L151.27 238.56H144.37Z"/><path d="M151.26 235.82L154.71 241.22H147.81Z"/><path d="M153.92 239.42L157.37 244.82H150.47Z"/><path d="M156.1 240.38L159.55 245.78H152.65Z"/><path d="M157.94 242.22L161.39 247.62H154.49Z"/><path d="M159.53 241.44L162.98 246.84H156.08Z"/><path d="M160.94 248.22L164.39 253.62H157.49Z"/><path d="M162.2 250.23L165.65 255.63H158.75Z"/><path d="M170.48 249.11L173.93 254.51H167.03Z"/><path d="M175.32 255.71L178.77 261.11H171.87Z"/><path d="M178.76 257.18L182.21 262.58H175.31Z"/><path d="M181.42 257.4L184.87 262.8H177.97Z"/><path d="M183.6 260.36L187.05 265.76H180.15Z"/><path d="M185.44 262.18L188.89 267.58H181.99Z"/><path d="M187.03 267.05L190.48 272.45H183.58Z"/><path d="M188.44 265.68L191.89 271.08H184.99Z"/><path d="M189.7 269.09L193.15 274.49H186.25Z"/><path d="M197.98 271.19L201.43 276.59H194.53Z"/><path d="M202.82 274.3L206.27 279.7H199.37Z"/><path d="M206.26 274.3L209.71 279.7H202.81Z"/><path d="M208.92 272.24L212.37 277.64H205.47Z"/><path d="M211.1 273.04L214.55 278.44H207.65Z"/><path d="M212.94 274.3L216.39 279.7H209.49Z"/><path d="M214.53 274.23L217.98 279.63H211.08Z"/><path d="M215.94 272.6L219.39 278H212.49Z"/><path d="M217.2 270.75L220.65 276.15H213.75Z"/></g>
<path d="M32.98 167.95 37.82 168.67 41.26 168.35 43.92 168.88 46.1 168.96 47.94 167.81 49.53 167.73 50.94 169.48 52.2 168.28 60.48 170.68 65.32 176.66 68.76 178.93 71.42 184.95 73.6 187.56 75.44 192.51 77.03 192.24 78.44 197.53 79.7 200.87 87.98 198.21 92.82 201.79 96.26 202.87 98.92 199.93 101.1 205.95 102.94 207.48 104.53 207.78 105.94 207.25 107.2 213.88 115.48 216.33 120.32 220.6 123.76 223.52 126.42 223.18 128.6 225.24 130.44 222.08 132.03 225.37 133.44 223.27 134.7 227.11 142.98 230.07 147.82 227.26 151.26 237.63 153.92 240.59 156.1 247.8 157.94 245.75 159.53 249.35 160.94 249.46 162.2 253.05 170.48 256.68 175.32 258.89 178.76 262.27 181.42 264.26 183.6 265.98 185.44 266.53 187.03 270.07 188.44 271.17 189.7 273.2 197.98 276.41 202.82 272.99 206.26 277.3 208.92 277.3 211.1 277.3 212.94 276.1 214.53 277.16 215.94 273.68 217.2 277.3" fill="none" stroke="#00ff00" stroke-width="0.6" stroke-linejoin="round" />
<g fill="none" stroke="#00ff00" stroke-width="0.75"><rect x="29.98" y="164.95" width="6" height="6"/><rect x="34.82" y="165.67" width="6" height="6"/><rect x="38.26" y="165.35" width="6" height="6"/><rect x="40.92" y="165.88" width="6" height="6"/><rect x="43.1" y="165.96" width="6" height="6"/><rect x="44.94" y="164.81" width="6" height="6"/><rect x="46.53" y="164.73" width="6" height="6"/><rect x="47.94" y="166.48" width="6" height="6"/><rect x="49.2" y="165.28" width="6" height="6"/><rect x="57.48" y="167.68" width="6" height="6"/><rect x="62.32" y="173.66" width="6" height="6"/><rect x="65.76" y="175.93" width="6" height="6"/><rect x="68.42" y="181.95" width="6" height="6"/><rect x="70.6" y="184.56" width="6" height="6"/><rect x="72.44" y="189.51" width="6" height="6"/><rect x="74.03" y="189.24" width="6" height="6"/><rect x="75.44" y="194.53" width="6" height="6"/><rect x="76.7" y="197.87" width="6" height="6"/><rect x="84.98" y="195.21" width="6" height="6"/><rect x="89.82" y="198.79" width="6" height="6"/><rect x="93.26" y="199.87" width="6" height="6"/><rect x="95.92" y="196.93" width="6" height="6"/><rect x="98.1" y="202.95" width="6" height="6"/><rect x="99.94" y="204.48" width="6" height="6"/><rect x="101.53" y="204.78" width="6" height="6"/><rect x="102.94" y="204.25" width="6" height="6"/><rect x="104.2" y="210.88" width="6" height="6"/><rect x="112.48" y="213.33" width="6" height="6"/><rect x="117.32" y="217.6" width="6" height="6"/><rect x="120.76" y="220.52" width="6" height="6"/><rect x="123.42" y="220.18" width="6" height="6"/><rect x="125.6" y="222.24" width="6" height="6"/><rect x="127.44" y="219.08" width="6" height="6"/><rect x="129.03" y="222.37" width="6" height="6"/><rect x="130.44" y="220.27" width="6" height="6"/><rect x="131.7" y="224.11" width="6" height="6"/><rect x="139.98" y="227.07" width="6" height="6"/><rect x="144.82" y="224.26" width="6" height="6"/><rect x="148.26" y="234.63" width="6" height="6"/><rect x="150.92" y="237.59" width="6" height="6"/><rect x="153.1" y="244.8" width="6" height="6"/><rect x="154.94" y="242.75" width="6" height="6"/><rect x="156.53" y="246.35" width="6" height="6"/><rect x="157.94" y="246.46" width="6" height="6"/><rect x="159.2" y="250.05" width="6" height="6"/><rect x="167.48" y="253.68" width="6" height="6"/><rect x="172.32" y="255.89" width="6" height="6"/><rect x="175.76" y="259.27" width="6" height="6"/><rect x="178.42" y="261.26" width="6" height="6"/><rect x="180.6" y="262.98" width="6" height="6"/><rect x="182.44" y="263.53" width="6" height="6"/><rect x="184.03" y="267.07" width="6" height="6"/><rect x="185.44" y="268.17" width="6" height="6"/><rect x="186.7" y="270.2" width="6" height="6"/><rect x="194.98" y="273.41" width="6" height="6"/><rect x="199.82" y="269.99" width="6" height="6"/><rect x="203.26" y="274.3" width="6" height="6"/><rect x="205.92" y="274.3" width="6" height="6"/><rect x="208.1" y="274.3" width="6" height="6"/><rect x="209.94" y="273.1" width="6" height="6"/><rect x="211.53" y="274.16" width="6" height="6"/><rect x="212.94" y="270.68" width="6" height="6"/><rect x="214.2" y="274.3" width="6" height="6"/></g>
<rect x="32.9" y="162.2" width="183.6" height="116.6" fill="none" stroke="#686868" stroke-width="1.25"/>
<path d="M79.7 278.8v-1.6M79.7 162.2v1.6" stroke="#686868" stroke-width="0.8"/>
<path d="M134.7 278.8v-1.6M134.7 162.2v1.6" stroke="#686868" stroke-width="0.8"/>
<path d="M189.7 278.8v-1.6M189.7 162.2v1.6" stroke="#686868" stroke-width="0.8"/>
<path d="M32.9 278.7h1.6M216.5 278.7h-1.6" stroke="#686868" stroke-width="0.8"/>
<path d="M32.9 223.4h1.6M216.5 223.4h-1.6" stroke="#686868" stroke-width="0.8"/>
<path d="M32.9 168.1h1.6M216.5 168.1h-1.6" stroke="#686868" stroke-width="0.8"/>
<text transform="translate(80 298) scale(1 1.1)" text-anchor="middle" font-size="13.2">10<tspan font-size="10" dy="-5.8" dx="-0.3">0</tspan></text>
<text transform="translate(135 298) scale(1 1.1)" text-anchor="middle" font-size="13.2">10<tspan font-size="10" dy="-5.8" dx="-0.3">2</tspan></text>
<text transform="translate(190 298) scale(1 1.1)" text-anchor="middle" font-size="13.2">10<tspan font-size="10" dy="-5.8" dx="-0.3">4</tspan></text>
<text x="25.6" y="283.4" text-anchor="end" font-size="13.5" >0</text>
<text x="25.6" y="228.1" text-anchor="end" font-size="13.5" >1</text>
<text x="25.6" y="172.8" text-anchor="end" font-size="13.5" >2</text>
<path d="M258.11 166.65 262.97 166.45 266.42 167.42 269.09 168.18 271.28 168.79 273.12 169.32 274.73 169.77 276.14 170.17 277.4 170.41 285.71 172.11 290.57 176.38 294.02 180.43 296.69 185.94 298.88 191.02 300.72 196.21 302.33 203.94 303.74 213.67 305 229.01 313.31 238.61 318.17 238.67 321.62 239.89 324.29 241.86 326.48 243.47 328.32 244.9 329.93 246.18 331.34 247.31 332.6 247.44 340.91 245.93 345.77 247.47 349.22 245.37 351.89 243.46 354.08 242.29 355.92 241.4 357.53 240.63 358.94 240.05 360.2 239.54 368.51 240.47 373.37 240.5 376.82 238.11 379.49 235.94 381.68 235.21 383.52 234.59 385.13 233.94 386.54 233.1 387.8 232.34 396.11 236.52 400.97 237.27 404.42 234.64 407.09 237.09 409.28 251.74 411.12 264.67 412.73 267.67 414.14 266.26 415.4 266.79 423.71 273.16 428.57 273.81 432.02 272.82 434.69 272.49 436.88 273.76 438.72 274.84 440.33 275.77 441.74 276.6 443 277.33" fill="none" stroke="#ff0000" stroke-width="0.7" stroke-linejoin="round" />
<g fill="none" stroke="#ff0000" stroke-width="0.75"><circle cx="258.11" cy="166.65" r="2.25"/><circle cx="262.97" cy="166.45" r="2.25"/><circle cx="266.42" cy="167.42" r="2.25"/><circle cx="269.09" cy="168.18" r="2.25"/><circle cx="271.28" cy="168.79" r="2.25"/><circle cx="273.12" cy="169.32" r="2.25"/><circle cx="274.73" cy="169.77" r="2.25"/><circle cx="276.14" cy="170.17" r="2.25"/><circle cx="277.4" cy="170.41" r="2.25"/><circle cx="285.71" cy="172.11" r="2.25"/><circle cx="290.57" cy="176.38" r="2.25"/><circle cx="294.02" cy="180.43" r="2.25"/><circle cx="296.69" cy="185.94" r="2.25"/><circle cx="298.88" cy="191.02" r="2.25"/><circle cx="300.72" cy="196.21" r="2.25"/><circle cx="302.33" cy="203.94" r="2.25"/><circle cx="303.74" cy="213.67" r="2.25"/><circle cx="305" cy="229.01" r="2.25"/><circle cx="313.31" cy="238.61" r="2.25"/><circle cx="318.17" cy="238.67" r="2.25"/><circle cx="321.62" cy="239.89" r="2.25"/><circle cx="324.29" cy="241.86" r="2.25"/><circle cx="326.48" cy="243.47" r="2.25"/><circle cx="328.32" cy="244.9" r="2.25"/><circle cx="329.93" cy="246.18" r="2.25"/><circle cx="331.34" cy="247.31" r="2.25"/><circle cx="332.6" cy="247.44" r="2.25"/><circle cx="340.91" cy="245.93" r="2.25"/><circle cx="345.77" cy="247.47" r="2.25"/><circle cx="349.22" cy="245.37" r="2.25"/><circle cx="351.89" cy="243.46" r="2.25"/><circle cx="354.08" cy="242.29" r="2.25"/><circle cx="355.92" cy="241.4" r="2.25"/><circle cx="357.53" cy="240.63" r="2.25"/><circle cx="358.94" cy="240.05" r="2.25"/><circle cx="360.2" cy="239.54" r="2.25"/><circle cx="368.51" cy="240.47" r="2.25"/><circle cx="373.37" cy="240.5" r="2.25"/><circle cx="376.82" cy="238.11" r="2.25"/><circle cx="379.49" cy="235.94" r="2.25"/><circle cx="381.68" cy="235.21" r="2.25"/><circle cx="383.52" cy="234.59" r="2.25"/><circle cx="385.13" cy="233.94" r="2.25"/><circle cx="386.54" cy="233.1" r="2.25"/><circle cx="387.8" cy="232.34" r="2.25"/><circle cx="396.11" cy="236.52" r="2.25"/><circle cx="400.97" cy="237.27" r="2.25"/><circle cx="404.42" cy="234.64" r="2.25"/><circle cx="407.09" cy="237.09" r="2.25"/><circle cx="409.28" cy="251.74" r="2.25"/><circle cx="411.12" cy="264.67" r="2.25"/><circle cx="412.73" cy="267.67" r="2.25"/><circle cx="414.14" cy="266.26" r="2.25"/><circle cx="415.4" cy="266.79" r="2.25"/><circle cx="423.71" cy="273.16" r="2.25"/><circle cx="428.57" cy="273.81" r="2.25"/><circle cx="432.02" cy="272.82" r="2.25"/><circle cx="434.69" cy="272.49" r="2.25"/><circle cx="436.88" cy="273.76" r="2.25"/><circle cx="438.72" cy="274.84" r="2.25"/><circle cx="440.33" cy="275.77" r="2.25"/><circle cx="441.74" cy="276.6" r="2.25"/><circle cx="443" cy="277.33" r="2.25"/></g>
<path d="M258.11 168.64 262.97 169.18 266.42 169.56 269.09 169.86 271.28 169.95 273.12 169.86 274.73 169.77 276.14 169.7 277.4 169.64 285.71 170.71 290.57 172.53 294.02 175.01 296.69 176.93 298.88 178.5 300.72 180.83 302.33 186.88 303.74 192.22 305 195.6 313.31 204.25 318.17 212.41 321.62 218.98 324.29 224.43 326.48 231.39 328.32 231.96 329.93 232.46 331.34 232.91 332.6 233.3 340.91 239.5 345.77 237.07 349.22 236.01 351.89 235.25 354.08 234.68 355.92 234.22 357.53 233.76 358.94 233.36 360.2 233 368.51 231.51 373.37 229.91 376.82 227.09 379.49 228.24 381.68 229.18 383.52 229.49 385.13 228.96 386.54 228.49 387.8 228.07 396.11 235.06 400.97 239.31 404.42 242.1 407.09 244.27 409.28 246.33 411.12 248.26 412.73 250.51 414.14 258.45 415.4 265.1 423.71 273.03 428.57 273.48 432.02 273.8 434.69 274.05 436.88 274.25 438.72 274.42 440.33 274.57 441.74 274.7 443 274.81" fill="none" stroke="#ff00ff" stroke-width="0.7" stroke-linejoin="round" />
<g fill="none" stroke="#ff00ff" stroke-width="0.75"><path d="M258.11 166.39L260.7 170.44H255.52Z"/><path d="M262.97 166.93L265.56 170.98H260.38Z"/><path d="M266.42 167.31L269 171.36H263.83Z"/><path d="M269.09 167.61L271.68 171.66H266.5Z"/><path d="M271.28 167.7L273.86 171.75H268.69Z"/><path d="M273.12 167.61L275.71 171.66H270.54Z"/><path d="M274.73 167.52L277.31 171.57H272.14Z"/><path d="M276.14 167.45L278.72 171.5H273.55Z"/><path d="M277.4 167.39L279.99 171.44H274.81Z"/><path d="M285.71 168.46L288.3 172.51H283.12Z"/><path d="M290.57 170.28L293.16 174.33H287.98Z"/><path d="M294.02 172.76L296.6 176.81H291.43Z"/><path d="M296.69 174.68L299.28 178.73H294.1Z"/><path d="M298.88 176.25L301.46 180.3H296.29Z"/><path d="M300.72 178.58L303.31 182.63H298.14Z"/><path d="M302.33 184.63L304.91 188.68H299.74Z"/><path d="M303.74 189.97L306.32 194.02H301.15Z"/><path d="M305 193.35L307.59 197.4H302.41Z"/><path d="M313.31 202L315.9 206.05H310.72Z"/><path d="M318.17 210.16L320.76 214.21H315.58Z"/><path d="M321.62 216.73L324.2 220.78H319.03Z"/><path d="M324.29 222.18L326.88 226.23H321.7Z"/><path d="M326.48 229.14L329.06 233.19H323.89Z"/><path d="M328.32 229.71L330.91 233.76H325.74Z"/><path d="M329.93 230.21L332.51 234.26H327.34Z"/><path d="M331.34 230.66L333.92 234.71H328.75Z"/><path d="M332.6 231.05L335.19 235.1H330.01Z"/><path d="M340.91 237.25L343.5 241.3H338.32Z"/><path d="M345.77 234.82L348.36 238.87H343.18Z"/><path d="M349.22 233.76L351.8 237.81H346.63Z"/><path d="M351.89 233L354.48 237.05H349.3Z"/><path d="M354.08 232.43L356.66 236.48H351.49Z"/><path d="M355.92 231.97L358.51 236.02H353.34Z"/><path d="M357.53 231.51L360.11 235.56H354.94Z"/><path d="M358.94 231.11L361.52 235.16H356.35Z"/><path d="M360.2 230.75L362.79 234.8H357.61Z"/><path d="M368.51 229.26L371.1 233.31H365.92Z"/><path d="M373.37 227.66L375.96 231.71H370.78Z"/><path d="M376.82 224.84L379.4 228.89H374.23Z"/><path d="M379.49 225.99L382.08 230.04H376.9Z"/><path d="M381.68 226.93L384.26 230.98H379.09Z"/><path d="M383.52 227.24L386.11 231.29H380.94Z"/><path d="M385.13 226.71L387.71 230.76H382.54Z"/><path d="M386.54 226.24L389.12 230.29H383.95Z"/><path d="M387.8 225.82L390.39 229.87H385.21Z"/><path d="M396.11 232.81L398.7 236.86H393.52Z"/><path d="M400.97 237.06L403.56 241.11H398.38Z"/><path d="M404.42 239.85L407 243.9H401.83Z"/><path d="M407.09 242.02L409.68 246.07H404.5Z"/><path d="M409.28 244.08L411.86 248.13H406.69Z"/><path d="M411.12 246.01L413.71 250.06H408.54Z"/><path d="M412.73 248.26L415.31 252.31H410.14Z"/><path d="M414.14 256.2L416.72 260.25H411.55Z"/><path d="M415.4 262.85L417.99 266.9H412.81Z"/><path d="M423.71 270.78L426.3 274.83H421.12Z"/><path d="M428.57 271.23L431.16 275.28H425.98Z"/><path d="M432.02 271.55L434.6 275.6H429.43Z"/><path d="M434.69 271.8L437.28 275.85H432.1Z"/><path d="M436.88 272L439.46 276.05H434.29Z"/><path d="M438.72 272.17L441.31 276.22H436.14Z"/><path d="M440.33 272.32L442.91 276.37H437.74Z"/><path d="M441.74 272.45L444.32 276.5H439.15Z"/><path d="M443 272.56L445.59 276.61H440.41Z"/></g>
<path d="M258.11 168.3 262.97 168.3 266.42 168.3 269.09 168.3 271.28 168.3 273.12 168.3 274.73 168.3 276.14 168.3 277.4 168.39 285.71 169.28 290.57 169.86 294.02 170.28 296.69 172.39 298.88 174.22 300.72 176.17 302.33 179.46 303.74 182.36 305 186.06 313.31 201.11 318.17 208.94 321.62 215.83 324.29 220.91 326.48 224.4 328.32 226.89 329.93 226.09 331.34 225.38 332.6 225.36 340.91 226.87 345.77 228.39 349.22 228.8 351.89 228.8 354.08 227.96 355.92 227.04 357.53 225.78 358.94 224.65 360.2 223.64 368.51 223.14 373.37 221.75 376.82 219.07 379.49 221.21 381.68 222.5 383.52 222.5 385.13 222.5 386.54 222.5 387.8 222.5 396.11 233.29 400.97 238.96 404.42 241.99 407.09 244.33 409.28 246.4 411.12 248.29 412.73 250.55 414.14 258.7 415.4 265.2 423.71 273.39 428.57 277.98 432.02 278.08 434.69 277.98 436.88 277.9 438.72 277.83 440.33 277.77 441.74 277.72 443 277.67" fill="none" stroke="#00ff00" stroke-width="0.7" stroke-linejoin="round" />
<g fill="none" stroke="#00ff00" stroke-width="0.75"><rect x="255.86" y="166.05" width="4.5" height="4.5"/><rect x="260.72" y="166.05" width="4.5" height="4.5"/><rect x="264.17" y="166.05" width="4.5" height="4.5"/><rect x="266.84" y="166.05" width="4.5" height="4.5"/><rect x="269.03" y="166.05" width="4.5" height="4.5"/><rect x="270.87" y="166.05" width="4.5" height="4.5"/><rect x="272.48" y="166.05" width="4.5" height="4.5"/><rect x="273.89" y="166.05" width="4.5" height="4.5"/><rect x="275.15" y="166.14" width="4.5" height="4.5"/><rect x="283.46" y="167.03" width="4.5" height="4.5"/><rect x="288.32" y="167.61" width="4.5" height="4.5"/><rect x="291.77" y="168.03" width="4.5" height="4.5"/><rect x="294.44" y="170.14" width="4.5" height="4.5"/><rect x="296.63" y="171.97" width="4.5" height="4.5"/><rect x="298.47" y="173.92" width="4.5" height="4.5"/><rect x="300.08" y="177.21" width="4.5" height="4.5"/><rect x="301.49" y="180.11" width="4.5" height="4.5"/><rect x="302.75" y="183.81" width="4.5" height="4.5"/><rect x="311.06" y="198.86" width="4.5" height="4.5"/><rect x="315.92" y="206.69" width="4.5" height="4.5"/><rect x="319.37" y="213.58" width="4.5" height="4.5"/><rect x="322.04" y="218.66" width="4.5" height="4.5"/><rect x="324.23" y="222.15" width="4.5" height="4.5"/><rect x="326.07" y="224.64" width="4.5" height="4.5"/><rect x="327.68" y="223.84" width="4.5" height="4.5"/><rect x="329.09" y="223.13" width="4.5" height="4.5"/><rect x="330.35" y="223.11" width="4.5" height="4.5"/><rect x="338.66" y="224.62" width="4.5" height="4.5"/><rect x="343.52" y="226.14" width="4.5" height="4.5"/><rect x="346.97" y="226.55" width="4.5" height="4.5"/><rect x="349.64" y="226.55" width="4.5" height="4.5"/><rect x="351.83" y="225.71" width="4.5" height="4.5"/><rect x="353.67" y="224.79" width="4.5" height="4.5"/><rect x="355.28" y="223.53" width="4.5" height="4.5"/><rect x="356.69" y="222.4" width="4.5" height="4.5"/><rect x="357.95" y="221.39" width="4.5" height="4.5"/><rect x="366.26" y="220.89" width="4.5" height="4.5"/><rect x="371.12" y="219.5" width="4.5" height="4.5"/><rect x="374.57" y="216.82" width="4.5" height="4.5"/><rect x="377.24" y="218.96" width="4.5" height="4.5"/><rect x="379.43" y="220.25" width="4.5" height="4.5"/><rect x="381.27" y="220.25" width="4.5" height="4.5"/><rect x="382.88" y="220.25" width="4.5" height="4.5"/><rect x="384.29" y="220.25" width="4.5" height="4.5"/><rect x="385.55" y="220.25" width="4.5" height="4.5"/><rect x="393.86" y="231.04" width="4.5" height="4.5"/><rect x="398.72" y="236.71" width="4.5" height="4.5"/><rect x="402.17" y="239.74" width="4.5" height="4.5"/><rect x="404.84" y="242.08" width="4.5" height="4.5"/><rect x="407.03" y="244.15" width="4.5" height="4.5"/><rect x="408.87" y="246.04" width="4.5" height="4.5"/><rect x="410.48" y="248.3" width="4.5" height="4.5"/><rect x="411.89" y="256.45" width="4.5" height="4.5"/><rect x="413.15" y="262.95" width="4.5" height="4.5"/><rect x="421.46" y="271.14" width="4.5" height="4.5"/><rect x="426.32" y="275.73" width="4.5" height="4.5"/><rect x="429.77" y="275.83" width="4.5" height="4.5"/><rect x="432.44" y="275.73" width="4.5" height="4.5"/><rect x="434.63" y="275.65" width="4.5" height="4.5"/><rect x="436.47" y="275.58" width="4.5" height="4.5"/><rect x="438.08" y="275.52" width="4.5" height="4.5"/><rect x="439.49" y="275.47" width="4.5" height="4.5"/><rect x="440.75" y="275.42" width="4.5" height="4.5"/></g>
<rect x="258.3" y="163.5" width="183.7" height="116.8" fill="none" stroke="#686868" stroke-width="1.25"/>
<path d="M305 280.3v-1.6M305 163.5v1.6" stroke="#686868" stroke-width="0.8"/>
<path d="M360.2 280.3v-1.6M360.2 163.5v1.6" stroke="#686868" stroke-width="0.8"/>
<path d="M415.4 280.3v-1.6M415.4 163.5v1.6" stroke="#686868" stroke-width="0.8"/>
<path d="M258.3 280.4h1.6M442 280.4h-1.6" stroke="#686868" stroke-width="0.8"/>
<path d="M258.3 225h1.6M442 225h-1.6" stroke="#686868" stroke-width="0.8"/>
<path d="M258.3 169.6h1.6M442 169.6h-1.6" stroke="#686868" stroke-width="0.8"/>
<text transform="translate(305.3 299.5) scale(1 1.1)" text-anchor="middle" font-size="13.2">10<tspan font-size="10" dy="-5.8" dx="-0.3">0</tspan></text>
<text transform="translate(360.5 299.5) scale(1 1.1)" text-anchor="middle" font-size="13.2">10<tspan font-size="10" dy="-5.8" dx="-0.3">2</tspan></text>
<text transform="translate(415.7 299.5) scale(1 1.1)" text-anchor="middle" font-size="13.2">10<tspan font-size="10" dy="-5.8" dx="-0.3">4</tspan></text>
<text x="250.8" y="284.5" text-anchor="end" font-size="13.3" >0</text>
<text x="250.8" y="229.1" text-anchor="end" font-size="13.3" >1</text>
<text x="250.8" y="173.7" text-anchor="end" font-size="13.3" >2</text>
<g fill="none" stroke="#ff0000" stroke-width="0.6" stroke-opacity="0.55"><path d="M53.8 418.3 55.3 417.1 56.8 415.7 58.3 414.2 59.8 412.9 61.3 411.7 62.8 410.5 64.3 409.1 65.8 407.7 67.3 406.5 68.8 405.4 70.3 404.3 71.8 403.2 73.3 401.9 74.8 400.7 76.3 399.7 77.8 398.5 79.3 397.2 80.8 395.8 82.3 394.6 83.8 393.5 85.3 392.3 86.8 391.1 88.3 389.9 89.8 388.8 91.3 387.8 92.8 386.6 94.3 385.2 95.8 384.1 97.3 382.8 98.8 381.7 100.3 380.4 101.8 379.3 103.3 378.1 104.8 377.0 106.3 376.3 107.8 375.1 109.3 374.1 110.8 372.8 112.3 371.6 113.8 370.6 115.3 369.5 116.8 368.5 118.3 367.4 119.8 366.2 121.3 365.2 122.8 364.0 124.3 363.2 125.8 362.0 127.3 361.1 128.8 360.0 130.3 359.1 131.8 357.9 133.3 357.0 134.8 355.8 136.3 354.8 137.8 353.6 139.3 352.3 140.8 350.9 142.3 349.8 143.8 348.6 145.3 347.8 146.8 346.5 148.3 345.5 149.8 344.5 151.3 343.5 152.8 342.5 154.3 341.6 155.8 340.4 157.3 339.1 158.8 338.1 160.3 337.5 161.8 337.2 163.3 336.7 164.8 336.2 166.3 335.6 167.8 335.0 169.3 334.1 170.8 333.6 172.3 333.6 173.8 332.6 175.3 331.4 176.8 331.7 178.3 331.1 179.8 330.9 181.3 330.6 182.8 329.2 184.3 330.1 185.8 330.5 187.3 329.9 188.8 329.8 190.3 329.3 191.8 328.1 193.3 327.6 194.8 327.6 196.3 328.3 197.8 328.5 199.3 328.1 200.8 329.0 202.3 327.8 203.8 328.2 205.3 329.0 206.8 328.2 208.3 325.7 209.8 324.5 211.3 324.8"/><path d="M53.8 419.2 55.3 417.8 56.8 416.4 58.3 415.2 59.8 413.8 61.3 412.2 62.8 411.0 64.3 410.0 65.8 408.9 67.3 407.5 68.8 406.2 70.3 405.0 71.8 404.1 73.3 402.9 74.8 401.7 76.3 400.6 77.8 399.4 79.3 398.3 80.8 397.0 82.3 395.7 83.8 394.6 85.3 393.5 86.8 392.4 88.3 391.2 89.8 389.8 91.3 388.6 92.8 387.3 94.3 386.1 95.8 385.1 97.3 383.9 98.8 382.9 100.3 381.7 101.8 380.6 103.3 379.5 104.8 378.4 106.3 377.4 107.8 376.2 109.3 375.1 110.8 373.8 112.3 373.0 113.8 372.1 115.3 371.0 116.8 369.8 118.3 368.6 119.8 367.6 121.3 366.6 122.8 365.9 124.3 364.9 125.8 363.7 127.3 362.3 128.8 361.5 130.3 360.5 131.8 359.3 133.3 358.3 134.8 356.9 136.3 356.5 137.8 355.5 139.3 354.4 140.8 353.1 142.3 351.4 143.8 350.3 145.3 348.8 146.8 348.0 148.3 346.5 149.8 345.4 151.3 344.9 152.8 344.5 154.3 343.3 155.8 342.0 157.3 341.6 158.8 341.1 160.3 340.0 161.8 339.0 163.3 338.1 164.8 337.1 166.3 336.3 167.8 336.3 169.3 336.0 170.8 336.4 172.3 335.7 173.8 335.0 175.3 334.0 176.8 333.4 178.3 332.3 179.8 331.0 181.3 331.2 182.8 331.9 184.3 332.1 185.8 332.7 187.3 332.5 188.8 331.7 190.3 331.6 191.8 331.2 193.3 330.3 194.8 329.0 196.3 328.1 197.8 328.4 199.3 328.9 200.8 328.8 202.3 330.5 203.8 330.9 205.3 331.6 206.8 333.0 208.3 332.0 209.8 329.7 211.3 330.9"/><path d="M53.8 418.7 55.3 417.4 56.8 416.1 58.3 414.9 59.8 413.3 61.3 412.0 62.8 410.6 64.3 409.3 65.8 408.0 67.3 406.9 68.8 405.7 70.3 404.6 71.8 403.2 73.3 401.9 74.8 400.5 76.3 399.3 77.8 398.2 79.3 397.0 80.8 395.8 82.3 394.7 83.8 393.7 85.3 392.4 86.8 391.2 88.3 389.9 89.8 389.0 91.3 387.9 92.8 386.8 94.3 385.6 95.8 384.5 97.3 383.3 98.8 382.2 100.3 381.0 101.8 379.7 103.3 378.5 104.8 377.6 106.3 376.5 107.8 375.4 109.3 374.3 110.8 373.2 112.3 372.1 113.8 370.9 115.3 369.9 116.8 368.8 118.3 367.7 119.8 366.5 121.3 365.3 122.8 364.1 124.3 363.3 125.8 361.9 127.3 360.9 128.8 359.8 130.3 358.7 131.8 357.8 133.3 357.0 134.8 355.9 136.3 354.7 137.8 353.4 139.3 352.2 140.8 351.2 142.3 349.9 143.8 348.5 145.3 347.1 146.8 345.8 148.3 344.5 149.8 343.9 151.3 343.1 152.8 342.2 154.3 341.8 155.8 340.7 157.3 340.1 158.8 339.5 160.3 338.1 161.8 336.7 163.3 335.7 164.8 335.4 166.3 335.3 167.8 334.1 169.3 333.9 170.8 333.1 172.3 332.3 173.8 331.4 175.3 330.8 176.8 329.4 178.3 328.5 179.8 327.5 181.3 327.7 182.8 328.7 184.3 330.1 185.8 329.4 187.3 327.8 188.8 327.3 190.3 326.5 191.8 328.1 193.3 328.4 194.8 327.7 196.3 328.4 197.8 328.7 199.3 327.0 200.8 326.5 202.3 326.3 203.8 326.4 205.3 326.6 206.8 326.3 208.3 326.6 209.8 326.0 211.3 325.0"/><path d="M53.8 419.5 55.3 418.2 56.8 416.7 58.3 415.3 59.8 414.1 61.3 412.7 62.8 411.5 64.3 410.2 65.8 409.0 67.3 407.8 68.8 406.6 70.3 405.5 71.8 404.2 73.3 403.2 74.8 401.9 76.3 400.6 77.8 399.4 79.3 398.1 80.8 396.9 82.3 395.9 83.8 394.8 85.3 393.5 86.8 392.4 88.3 391.4 89.8 390.4 91.3 389.2 92.8 387.9 94.3 386.8 95.8 385.5 97.3 384.3 98.8 383.2 100.3 382.1 101.8 381.1 103.3 380.0 104.8 378.7 106.3 377.8 107.8 376.6 109.3 375.5 110.8 374.4 112.3 373.3 113.8 372.2 115.3 371.1 116.8 370.4 118.3 369.3 119.8 368.3 121.3 367.4 122.8 366.5 124.3 365.6 125.8 364.7 127.3 363.4 128.8 362.2 130.3 361.3 131.8 360.5 133.3 359.7 134.8 358.6 136.3 357.4 137.8 356.3 139.3 355.0 140.8 353.9 142.3 352.9 143.8 351.7 145.3 350.4 146.8 349.2 148.3 348.5 149.8 347.9 151.3 347.3 152.8 346.6 154.3 345.9 155.8 345.0 157.3 344.3 158.8 343.1 160.3 342.2 161.8 341.2 163.3 340.8 164.8 339.9 166.3 339.2 167.8 338.7 169.3 338.7 170.8 337.7 172.3 336.8 173.8 336.7 175.3 335.6 176.8 335.5 178.3 334.8 179.8 334.4 181.3 333.1 182.8 333.4 184.3 332.9 185.8 332.2 187.3 333.7 188.8 334.1 190.3 336.6 191.8 336.6 193.3 336.0 194.8 335.9 196.3 337.1 197.8 336.8 199.3 336.9 200.8 337.2 202.3 336.0 203.8 336.1 205.3 335.5 206.8 334.1 208.3 335.3 209.8 336.2 211.3 336.3"/><path d="M53.8 418.2 55.3 417.0 56.8 415.7 58.3 414.2 59.8 412.9 61.3 411.4 62.8 410.2 64.3 408.9 65.8 407.8 67.3 406.6 68.8 405.4 70.3 404.1 71.8 402.9 73.3 401.6 74.8 400.4 76.3 399.3 77.8 398.2 79.3 397.2 80.8 395.7 82.3 394.6 83.8 393.4 85.3 392.5 86.8 391.4 88.3 390.1 89.8 388.9 91.3 387.7 92.8 386.7 94.3 385.4 95.8 384.2 97.3 383.1 98.8 381.9 100.3 380.7 101.8 379.4 103.3 378.3 104.8 377.3 106.3 376.2 107.8 375.0 109.3 373.9 110.8 372.9 112.3 371.8 113.8 370.7 115.3 369.8 116.8 368.6 118.3 367.4 119.8 366.1 121.3 365.0 122.8 363.9 124.3 362.7 125.8 361.6 127.3 360.9 128.8 359.9 130.3 358.8 131.8 358.3 133.3 357.2 134.8 355.7 136.3 354.6 137.8 353.2 139.3 352.3 140.8 350.8 142.3 349.5 143.8 348.0 145.3 346.9 146.8 345.6 148.3 344.6 149.8 343.6 151.3 342.6 152.8 342.0 154.3 341.3 155.8 340.5 157.3 339.3 158.8 338.1 160.3 337.5 161.8 337.6 163.3 336.5 164.8 335.5 166.3 334.5 167.8 333.3 169.3 332.3 170.8 331.7 172.3 331.8 173.8 331.3 175.3 330.4 176.8 329.1 178.3 328.9 179.8 328.5 181.3 327.4 182.8 326.5 184.3 326.3 185.8 326.8 187.3 327.0 188.8 327.0 190.3 326.6 191.8 326.8 193.3 326.7 194.8 328.5 196.3 327.2 197.8 326.8 199.3 327.9 200.8 327.4 202.3 328.6 203.8 328.3 205.3 328.2 206.8 327.6 208.3 325.8 209.8 324.7 211.3 327.6"/><path d="M53.8 419.2 55.3 417.9 56.8 416.7 58.3 415.4 59.8 414.0 61.3 412.6 62.8 411.4 64.3 410.1 65.8 408.7 67.3 407.4 68.8 406.1 70.3 405.0 71.8 403.7 73.3 402.4 74.8 401.2 76.3 400.2 77.8 399.0 79.3 397.8 80.8 396.7 82.3 395.5 83.8 394.4 85.3 393.4 86.8 392.0 88.3 391.0 89.8 389.8 91.3 388.6 92.8 387.7 94.3 386.5 95.8 385.6 97.3 384.5 98.8 383.2 100.3 382.1 101.8 381.0 103.3 379.8 104.8 378.4 106.3 377.3 107.8 376.2 109.3 374.9 110.8 374.1 112.3 373.0 113.8 371.9 115.3 370.8 116.8 369.6 118.3 368.5 119.8 367.5 121.3 366.6 122.8 365.5 124.3 364.5 125.8 363.3 127.3 362.4 128.8 361.2 130.3 360.3 131.8 359.3 133.3 358.2 134.8 357.2 136.3 355.8 137.8 355.2 139.3 354.0 140.8 352.8 142.3 351.5 143.8 350.7 145.3 349.9 146.8 348.9 148.3 347.5 149.8 346.4 151.3 345.7 152.8 344.6 154.3 343.4 155.8 342.2 157.3 341.3 158.8 340.6 160.3 339.7 161.8 339.0 163.3 339.4 164.8 339.4 166.3 338.2 167.8 337.6 169.3 337.0 170.8 336.3 172.3 336.1 173.8 335.4 175.3 334.6 176.8 333.9 178.3 333.4 179.8 333.7 181.3 333.7 182.8 332.4 184.3 331.8 185.8 331.0 187.3 331.5 188.8 331.5 190.3 332.1 191.8 331.9 193.3 330.4 194.8 330.9 196.3 331.2 197.8 331.7 199.3 330.5 200.8 330.7 202.3 330.2 203.8 329.7 205.3 330.4 206.8 331.1 208.3 330.2 209.8 328.5 211.3 326.0"/><path d="M53.8 418.7 55.3 417.4 56.8 415.8 58.3 414.4 59.8 413.1 61.3 412.0 62.8 410.8 64.3 409.6 65.8 408.3 67.3 407.0 68.8 405.7 70.3 404.4 71.8 403.1 73.3 402.0 74.8 400.7 76.3 399.6 77.8 398.5 79.3 397.4 80.8 396.3 82.3 395.0 83.8 393.7 85.3 392.5 86.8 391.4 88.3 390.1 89.8 389.1 91.3 387.9 92.8 386.8 94.3 385.6 95.8 384.3 97.3 383.4 98.8 382.1 100.3 381.1 101.8 379.9 103.3 378.8 104.8 377.6 106.3 376.4 107.8 375.4 109.3 374.6 110.8 373.3 112.3 372.2 113.8 371.2 115.3 370.1 116.8 369.1 118.3 367.9 119.8 366.9 121.3 365.9 122.8 365.0 124.3 364.0 125.8 362.7 127.3 361.7 128.8 360.5 130.3 359.5 131.8 358.8 133.3 357.8 134.8 356.5 136.3 355.5 137.8 354.3 139.3 352.8 140.8 351.5 142.3 350.6 143.8 349.3 145.3 348.1 146.8 346.9 148.3 345.4 149.8 344.4 151.3 343.5 152.8 342.7 154.3 341.7 155.8 340.2 157.3 339.9 158.8 339.3 160.3 338.8 161.8 338.4 163.3 337.4 164.8 336.4 166.3 335.8 167.8 335.7 169.3 334.2 170.8 333.4 172.3 332.5 173.8 332.2 175.3 332.4 176.8 331.6 178.3 330.4 179.8 330.0 181.3 329.4 182.8 328.1 184.3 328.4 185.8 327.8 187.3 328.1 188.8 327.0 190.3 327.8 191.8 326.6 193.3 327.5 194.8 326.0 196.3 327.4 197.8 327.1 199.3 325.7 200.8 325.6 202.3 326.2 203.8 325.3 205.3 325.1 206.8 325.7 208.3 325.7 209.8 322.3 211.3 322.4"/><path d="M53.8 419.0 55.3 417.8 56.8 416.4 58.3 415.3 59.8 414.1 61.3 412.7 62.8 411.5 64.3 410.3 65.8 409.0 67.3 407.7 68.8 406.5 70.3 405.3 71.8 403.8 73.3 402.5 74.8 401.3 76.3 400.2 77.8 399.0 79.3 397.9 80.8 396.7 82.3 395.7 83.8 394.4 85.3 393.2 86.8 392.0 88.3 390.9 89.8 389.8 91.3 388.8 92.8 387.6 94.3 386.5 95.8 385.4 97.3 384.1 98.8 382.9 100.3 382.0 101.8 380.9 103.3 379.7 104.8 378.3 106.3 377.1 107.8 375.9 109.3 374.9 110.8 374.1 112.3 373.1 113.8 372.0 115.3 370.8 116.8 369.6 118.3 368.5 119.8 367.4 121.3 366.8 122.8 365.7 124.3 364.6 125.8 363.7 127.3 362.7 128.8 361.4 130.3 360.6 131.8 359.6 133.3 358.3 134.8 357.3 136.3 356.2 137.8 354.9 139.3 353.9 140.8 352.9 142.3 351.5 143.8 349.9 145.3 348.3 146.8 347.3 148.3 346.7 149.8 346.0 151.3 345.5 152.8 345.1 154.3 344.1 155.8 343.5 157.3 342.1 158.8 341.5 160.3 340.8 161.8 339.9 163.3 339.0 164.8 337.8 166.3 337.2 167.8 337.1 169.3 336.3 170.8 335.9 172.3 335.0 173.8 334.5 175.3 333.5 176.8 333.3 178.3 332.7 179.8 332.5 181.3 331.8 182.8 330.7 184.3 330.3 185.8 330.9 187.3 331.8 188.8 331.3 190.3 331.8 191.8 332.2 193.3 332.3 194.8 330.9 196.3 331.2 197.8 330.3 199.3 331.5 200.8 332.2 202.3 332.7 203.8 329.9 205.3 330.8 206.8 331.7 208.3 330.2 209.8 331.6 211.3 331.7"/><path d="M53.8 418.7 55.3 417.3 56.8 415.9 58.3 414.9 59.8 413.6 61.3 412.3 62.8 410.9 64.3 409.6 65.8 408.3 67.3 406.9 68.8 405.8 70.3 404.6 71.8 403.5 73.3 402.1 74.8 401.1 76.3 399.9 77.8 398.7 79.3 397.5 80.8 396.2 82.3 395.2 83.8 394.0 85.3 392.8 86.8 391.5 88.3 390.4 89.8 389.2 91.3 388.1 92.8 387.0 94.3 385.7 95.8 384.5 97.3 383.4 98.8 382.4 100.3 381.3 101.8 380.1 103.3 379.0 104.8 377.9 106.3 376.9 107.8 375.8 109.3 374.6 110.8 373.6 112.3 372.6 113.8 371.4 115.3 370.2 116.8 369.1 118.3 368.1 119.8 366.8 121.3 365.7 122.8 364.8 124.3 363.7 125.8 362.7 127.3 361.5 128.8 360.7 130.3 360.0 131.8 359.0 133.3 357.8 134.8 356.4 136.3 355.4 137.8 354.3 139.3 352.9 140.8 352.0 142.3 351.0 143.8 349.9 145.3 348.3 146.8 347.2 148.3 346.4 149.8 345.1 151.3 344.4 152.8 343.9 154.3 343.2 155.8 342.1 157.3 341.0 158.8 340.4 160.3 339.9 161.8 339.5 163.3 339.1 164.8 338.1 166.3 337.1 167.8 335.6 169.3 335.2 170.8 335.6 172.3 334.6 173.8 333.7 175.3 333.4 176.8 333.0 178.3 331.7 179.8 330.8 181.3 329.8 182.8 330.8 184.3 329.9 185.8 330.2 187.3 331.2 188.8 332.1 190.3 332.7 191.8 333.5 193.3 331.9 194.8 331.3 196.3 330.4 197.8 330.0 199.3 332.3 200.8 330.2 202.3 330.7 203.8 329.2 205.3 330.6 206.8 331.9 208.3 331.0 209.8 333.3 211.3 332.9"/><path d="M53.8 419.4 55.3 418.0 56.8 416.6 58.3 415.3 59.8 414.0 61.3 412.7 62.8 411.7 64.3 410.4 65.8 409.0 67.3 407.7 68.8 406.4 70.3 405.1 71.8 403.8 73.3 402.7 74.8 401.5 76.3 400.3 77.8 399.2 79.3 398.1 80.8 397.0 82.3 395.9 83.8 394.7 85.3 393.5 86.8 392.2 88.3 391.1 89.8 389.8 91.3 388.7 92.8 387.5 94.3 386.4 95.8 385.3 97.3 384.1 98.8 383.2 100.3 382.0 101.8 380.8 103.3 379.7 104.8 378.5 106.3 377.3 107.8 376.3 109.3 375.0 110.8 373.6 112.3 372.7 113.8 371.9 115.3 370.7 116.8 369.6 118.3 368.7 119.8 367.5 121.3 366.4 122.8 365.3 124.3 364.4 125.8 363.2 127.3 362.4 128.8 361.5 130.3 360.6 131.8 359.7 133.3 358.4 134.8 357.4 136.3 356.1 137.8 355.0 139.3 353.8 140.8 352.7 142.3 351.6 143.8 350.7 145.3 349.9 146.8 348.7 148.3 347.7 149.8 347.2 151.3 346.5 152.8 345.4 154.3 344.5 155.8 343.6 157.3 343.2 158.8 342.4 160.3 341.8 161.8 341.8 163.3 340.5 164.8 339.4 166.3 338.1 167.8 336.9 169.3 336.8 170.8 336.5 172.3 336.8 173.8 335.3 175.3 334.5 176.8 334.9 178.3 335.1 179.8 335.2 181.3 335.3 182.8 334.8 184.3 334.4 185.8 334.1 187.3 334.4 188.8 334.0 190.3 334.1 191.8 335.1 193.3 334.0 194.8 333.4 196.3 333.9 197.8 333.7 199.3 333.6 200.8 335.6 202.3 335.9 203.8 335.3 205.3 336.4 206.8 339.0 208.3 337.3 209.8 336.2 211.3 336.3"/><path d="M53.8 418.8 55.3 417.5 56.8 416.1 58.3 414.8 59.8 413.4 61.3 412.0 62.8 410.7 64.3 409.6 65.8 408.1 67.3 406.9 68.8 405.9 70.3 404.7 71.8 403.7 73.3 402.4 74.8 401.2 76.3 399.9 77.8 398.6 79.3 397.6 80.8 396.2 82.3 395.0 83.8 393.8 85.3 392.5 86.8 391.1 88.3 389.9 89.8 388.8 91.3 387.7 92.8 386.6 94.3 385.5 95.8 384.3 97.3 383.2 98.8 382.1 100.3 380.9 101.8 379.6 103.3 378.4 104.8 377.4 106.3 376.4 107.8 375.2 109.3 374.1 110.8 373.2 112.3 372.2 113.8 371.0 115.3 369.9 116.8 369.0 118.3 368.3 119.8 367.4 121.3 366.1 122.8 365.0 124.3 363.9 125.8 362.8 127.3 361.6 128.8 360.5 130.3 359.4 131.8 358.7 133.3 357.8 134.8 356.6 136.3 355.4 137.8 354.0 139.3 352.7 140.8 351.7 142.3 350.7 143.8 349.9 145.3 348.7 146.8 347.5 148.3 345.9 149.8 345.0 151.3 343.5 152.8 343.0 154.3 341.9 155.8 341.0 157.3 339.7 158.8 338.7 160.3 337.7 161.8 337.4 163.3 336.7 164.8 335.5 166.3 334.1 167.8 333.5 169.3 332.8 170.8 331.8 172.3 331.6 173.8 331.0 175.3 330.7 176.8 329.9 178.3 329.2 179.8 328.6 181.3 327.4 182.8 327.7 184.3 327.7 185.8 326.4 187.3 326.4 188.8 327.2 190.3 327.3 191.8 328.3 193.3 328.0 194.8 327.9 196.3 326.7 197.8 326.0 199.3 324.4 200.8 323.9 202.3 324.5 203.8 325.4 205.3 326.9 206.8 327.1 208.3 326.0 209.8 326.6 211.3 326.6"/><path d="M53.8 419.7 55.3 418.5 56.8 417.0 58.3 415.6 59.8 414.3 61.3 412.9 62.8 411.7 64.3 410.4 65.8 409.3 67.3 408.1 68.8 406.7 70.3 405.4 71.8 404.2 73.3 403.1 74.8 402.1 76.3 401.0 77.8 399.8 79.3 398.7 80.8 397.5 82.3 396.5 83.8 395.3 85.3 393.9 86.8 392.9 88.3 391.7 89.8 390.5 91.3 389.3 92.8 388.2 94.3 387.0 95.8 385.7 97.3 384.6 98.8 383.5 100.3 382.4 101.8 381.1 103.3 380.1 104.8 379.1 106.3 378.0 107.8 377.0 109.3 375.8 110.8 374.7 112.3 373.7 113.8 372.6 115.3 371.6 116.8 371.0 118.3 370.0 119.8 369.0 121.3 367.7 122.8 366.7 124.3 365.8 125.8 364.7 127.3 363.6 128.8 362.2 130.3 361.4 131.8 360.4 133.3 359.6 134.8 358.7 136.3 357.6 137.8 356.6 139.3 355.5 140.8 354.3 142.3 353.1 143.8 351.7 145.3 351.0 146.8 350.2 148.3 348.9 149.8 348.2 151.3 347.1 152.8 345.8 154.3 345.4 155.8 344.2 157.3 343.8 158.8 343.1 160.3 342.7 161.8 342.1 163.3 341.8 164.8 341.2 166.3 340.7 167.8 340.1 169.3 339.9 170.8 339.0 172.3 338.8 173.8 338.9 175.3 338.2 176.8 337.8 178.3 337.0 179.8 336.3 181.3 336.0 182.8 335.4 184.3 334.5 185.8 334.3 187.3 334.3 188.8 334.5 190.3 335.0 191.8 333.5 193.3 334.8 194.8 334.7 196.3 334.2 197.8 334.0 199.3 334.6 200.8 335.5 202.3 335.2 203.8 335.5 205.3 333.9 206.8 334.5 208.3 334.6 209.8 334.4 211.3 335.9"/><path d="M53.8 419.6 55.3 418.2 56.8 417.1 58.3 415.7 59.8 414.3 61.3 412.9 62.8 411.7 64.3 410.5 65.8 409.2 67.3 408.0 68.8 406.7 70.3 405.5 71.8 404.4 73.3 403.1 74.8 401.9 76.3 400.7 77.8 399.4 79.3 398.2 80.8 396.9 82.3 395.8 83.8 394.7 85.3 393.5 86.8 392.6 88.3 391.3 89.8 390.2 91.3 389.1 92.8 387.9 94.3 386.8 95.8 385.8 97.3 384.6 98.8 383.5 100.3 382.6 101.8 381.5 103.3 380.1 104.8 379.0 106.3 378.0 107.8 376.9 109.3 375.7 110.8 374.4 112.3 373.4 113.8 372.6 115.3 371.4 116.8 370.1 118.3 369.2 119.8 368.2 121.3 367.2 122.8 366.2 124.3 365.1 125.8 364.2 127.3 363.4 128.8 362.5 130.3 361.4 131.8 360.7 133.3 359.7 134.8 358.7 136.3 357.4 137.8 356.4 139.3 355.4 140.8 354.5 142.3 353.3 143.8 352.3 145.3 351.0 146.8 350.2 148.3 349.4 149.8 348.7 151.3 347.6 152.8 346.3 154.3 345.5 155.8 344.6 157.3 343.6 158.8 343.0 160.3 342.6 161.8 342.0 163.3 341.7 164.8 341.1 166.3 340.0 167.8 339.1 169.3 338.4 170.8 338.2 172.3 338.1 173.8 337.6 175.3 337.6 176.8 336.6 178.3 336.1 179.8 336.6 181.3 336.4 182.8 336.6 184.3 334.9 185.8 333.6 187.3 333.0 188.8 333.8 190.3 335.0 191.8 334.5 193.3 333.8 194.8 333.1 196.3 332.6 197.8 333.5 199.3 333.4 200.8 335.5 202.3 336.3 203.8 335.6 205.3 335.9 206.8 335.9 208.3 336.9 209.8 338.0 211.3 337.5"/><path d="M53.8 419.2 55.3 417.9 56.8 416.6 58.3 415.3 59.8 414.0 61.3 412.6 62.8 411.4 64.3 410.1 65.8 408.8 67.3 407.6 68.8 406.2 70.3 405.0 71.8 403.7 73.3 402.5 74.8 401.1 76.3 399.9 77.8 398.8 79.3 397.7 80.8 396.4 82.3 395.5 83.8 394.2 85.3 393.2 86.8 392.0 88.3 390.7 89.8 389.8 91.3 388.6 92.8 387.5 94.3 386.5 95.8 385.2 97.3 384.1 98.8 382.9 100.3 381.9 101.8 380.8 103.3 379.5 104.8 378.4 106.3 377.4 107.8 376.3 109.3 375.3 110.8 374.1 112.3 373.1 113.8 372.1 115.3 371.0 116.8 370.2 118.3 369.2 119.8 368.3 121.3 367.3 122.8 366.3 124.3 365.0 125.8 364.1 127.3 363.4 128.8 362.3 130.3 361.2 131.8 360.2 133.3 359.4 134.8 358.3 136.3 356.9 137.8 355.6 139.3 354.3 140.8 353.1 142.3 351.7 143.8 350.4 145.3 349.7 146.8 348.9 148.3 347.5 149.8 346.3 151.3 345.4 152.8 344.4 154.3 343.2 155.8 342.8 157.3 341.5 158.8 341.1 160.3 340.6 161.8 339.8 163.3 338.9 164.8 338.3 166.3 337.8 167.8 336.3 169.3 335.3 170.8 335.2 172.3 334.7 173.8 334.1 175.3 333.3 176.8 332.7 178.3 332.0 179.8 333.4 181.3 332.3 182.8 333.0 184.3 333.0 185.8 332.8 187.3 332.7 188.8 332.3 190.3 333.3 191.8 333.6 193.3 333.4 194.8 333.2 196.3 333.3 197.8 332.2 199.3 331.9 200.8 331.4 202.3 332.2 203.8 332.9 205.3 331.0 206.8 331.1 208.3 332.5 209.8 331.2 211.3 330.1"/><path d="M53.8 419.2 55.3 417.9 56.8 416.4 58.3 415.1 59.8 413.7 61.3 412.5 62.8 411.2 64.3 410.0 65.8 408.8 67.3 407.5 68.8 406.3 70.3 405.1 71.8 403.9 73.3 402.6 74.8 401.4 76.3 400.2 77.8 399.0 79.3 397.8 80.8 396.8 82.3 395.6 83.8 394.5 85.3 393.3 86.8 392.2 88.3 391.1 89.8 389.9 91.3 388.8 92.8 387.7 94.3 386.1 95.8 385.1 97.3 384.0 98.8 383.1 100.3 381.9 101.8 380.8 103.3 379.7 104.8 378.5 106.3 377.6 107.8 376.5 109.3 375.3 110.8 374.1 112.3 373.0 113.8 372.3 115.3 371.5 116.8 370.1 118.3 368.8 119.8 367.9 121.3 366.9 122.8 365.8 124.3 364.9 125.8 363.9 127.3 362.9 128.8 361.9 130.3 360.7 131.8 360.1 133.3 359.0 134.8 358.1 136.3 357.0 137.8 355.8 139.3 354.6 140.8 353.4 142.3 351.9 143.8 350.7 145.3 349.7 146.8 348.3 148.3 347.0 149.8 346.4 151.3 345.8 152.8 344.5 154.3 343.9 155.8 343.1 157.3 342.6 158.8 341.7 160.3 340.9 161.8 339.9 163.3 339.4 164.8 338.7 166.3 337.8 167.8 337.1 169.3 336.2 170.8 336.0 172.3 335.1 173.8 333.9 175.3 333.2 176.8 333.5 178.3 332.9 179.8 333.0 181.3 333.2 182.8 332.6 184.3 332.8 185.8 332.9 187.3 332.6 188.8 332.0 190.3 331.9 191.8 331.0 193.3 331.0 194.8 330.7 196.3 331.3 197.8 331.8 199.3 331.4 200.8 332.4 202.3 333.7 203.8 333.7 205.3 332.9 206.8 333.6 208.3 330.9 209.8 330.6 211.3 331.7"/><path d="M53.8 419.5 55.3 418.4 56.8 417.3 58.3 416.1 59.8 414.5 61.3 413.3 62.8 411.9 64.3 410.7 65.8 409.4 67.3 408.1 68.8 406.9 70.3 405.8 71.8 404.6 73.3 403.4 74.8 402.2 76.3 401.1 77.8 399.9 79.3 398.7 80.8 397.4 82.3 396.1 83.8 394.9 85.3 393.7 86.8 392.4 88.3 391.1 89.8 390.1 91.3 388.9 92.8 387.6 94.3 386.5 95.8 385.6 97.3 384.7 98.8 383.5 100.3 382.3 101.8 381.1 103.3 380.0 104.8 378.8 106.3 377.8 107.8 376.7 109.3 375.5 110.8 374.5 112.3 373.5 113.8 372.4 115.3 371.3 116.8 370.2 118.3 369.1 119.8 368.3 121.3 367.3 122.8 365.9 124.3 365.1 125.8 364.1 127.3 363.1 128.8 362.1 130.3 360.7 131.8 359.7 133.3 359.0 134.8 358.4 136.3 357.8 137.8 356.5 139.3 355.4 140.8 354.4 142.3 353.0 143.8 352.3 145.3 351.0 146.8 350.1 148.3 348.8 149.8 348.1 151.3 347.2 152.8 346.7 154.3 345.5 155.8 344.7 157.3 344.5 158.8 343.3 160.3 342.7 161.8 342.2 163.3 341.3 164.8 340.5 166.3 340.5 167.8 340.3 169.3 339.9 170.8 339.4 172.3 338.2 173.8 337.7 175.3 338.2 176.8 338.2 178.3 336.8 179.8 335.3 181.3 334.6 182.8 334.6 184.3 334.1 185.8 333.8 187.3 334.0 188.8 334.7 190.3 334.8 191.8 335.8 193.3 334.7 194.8 335.2 196.3 335.7 197.8 334.4 199.3 335.8 200.8 334.3 202.3 333.1 203.8 336.4 205.3 337.8 206.8 338.2 208.3 339.7 209.8 340.9 211.3 339.1"/><path d="M53.8 419.2 55.3 417.8 56.8 416.5 58.3 415.1 59.8 413.8 61.3 412.5 62.8 411.1 64.3 409.7 65.8 408.4 67.3 407.2 68.8 406.0 70.3 404.8 71.8 403.5 73.3 402.4 74.8 401.2 76.3 400.2 77.8 398.9 79.3 397.7 80.8 396.6 82.3 395.6 83.8 394.4 85.3 393.2 86.8 391.9 88.3 390.7 89.8 389.7 91.3 388.6 92.8 387.6 94.3 386.2 95.8 385.2 97.3 383.9 98.8 382.8 100.3 381.4 101.8 380.3 103.3 379.1 104.8 378.2 106.3 377.1 107.8 376.2 109.3 375.0 110.8 374.2 112.3 373.0 113.8 372.2 115.3 371.0 116.8 369.8 118.3 368.9 119.8 367.8 121.3 366.7 122.8 365.5 124.3 364.4 125.8 363.4 127.3 362.3 128.8 361.3 130.3 359.9 131.8 359.2 133.3 358.2 134.8 357.3 136.3 356.1 137.8 354.8 139.3 353.6 140.8 352.5 142.3 351.5 143.8 350.2 145.3 349.0 146.8 348.0 148.3 347.2 149.8 345.8 151.3 344.7 152.8 343.7 154.3 343.4 155.8 342.9 157.3 342.3 158.8 341.6 160.3 340.4 161.8 340.1 163.3 339.1 164.8 338.1 166.3 338.2 167.8 336.8 169.3 336.8 170.8 336.2 172.3 335.1 173.8 334.7 175.3 333.7 176.8 333.4 178.3 332.6 179.8 331.6 181.3 332.9 182.8 332.2 184.3 332.4 185.8 332.0 187.3 332.2 188.8 331.0 190.3 330.2 191.8 327.7 193.3 328.9 194.8 329.5 196.3 328.7 197.8 329.8 199.3 330.5 200.8 333.4 202.3 333.4 203.8 334.2 205.3 334.6 206.8 335.1 208.3 334.7 209.8 333.9 211.3 334.6"/><path d="M53.8 419.2 55.3 417.8 56.8 416.5 58.3 415.4 59.8 414.0 61.3 412.5 62.8 411.3 64.3 410.1 65.8 409.1 67.3 407.9 68.8 406.8 70.3 405.5 71.8 404.4 73.3 403.1 74.8 401.8 76.3 400.5 77.8 399.5 79.3 398.4 80.8 397.1 82.3 396.1 83.8 395.0 85.3 393.9 86.8 392.7 88.3 391.5 89.8 390.2 91.3 389.0 92.8 387.9 94.3 386.6 95.8 385.5 97.3 384.3 98.8 383.2 100.3 382.2 101.8 381.0 103.3 379.8 104.8 378.8 106.3 377.6 107.8 376.6 109.3 375.4 110.8 374.5 112.3 373.4 113.8 372.2 115.3 371.3 116.8 370.5 118.3 369.1 119.8 368.1 121.3 367.1 122.8 366.3 124.3 365.5 125.8 364.4 127.3 363.1 128.8 362.2 130.3 361.4 131.8 360.5 133.3 359.5 134.8 358.2 136.3 357.5 137.8 356.1 139.3 354.6 140.8 353.6 142.3 352.5 143.8 351.5 145.3 350.5 146.8 349.8 148.3 349.1 149.8 347.9 151.3 347.2 152.8 345.9 154.3 344.5 155.8 344.1 157.3 343.1 158.8 341.6 160.3 340.9 161.8 340.0 163.3 339.6 164.8 339.0 166.3 338.1 167.8 337.3 169.3 337.1 170.8 336.2 172.3 335.8 173.8 334.9 175.3 334.8 176.8 335.4 178.3 335.3 179.8 335.4 181.3 335.2 182.8 334.2 184.3 333.7 185.8 333.4 187.3 333.5 188.8 332.9 190.3 333.4 191.8 332.8 193.3 332.9 194.8 333.0 196.3 332.1 197.8 333.2 199.3 333.3 200.8 333.5 202.3 333.5 203.8 331.5 205.3 330.3 206.8 329.9 208.3 331.6 209.8 331.4 211.3 332.6"/><path d="M53.8 418.3 55.3 416.9 56.8 415.7 58.3 414.2 59.8 412.9 61.3 411.7 62.8 410.4 64.3 409.1 65.8 408.0 67.3 406.8 68.8 405.4 70.3 404.3 71.8 403.0 73.3 401.7 74.8 400.7 76.3 399.8 77.8 398.7 79.3 397.5 80.8 396.2 82.3 394.9 83.8 393.8 85.3 392.7 86.8 391.3 88.3 390.3 89.8 389.1 91.3 388.1 92.8 386.9 94.3 385.5 95.8 384.2 97.3 383.1 98.8 381.9 100.3 380.9 101.8 379.7 103.3 378.5 104.8 377.4 106.3 376.2 107.8 375.0 109.3 373.7 110.8 372.3 112.3 371.3 113.8 370.3 115.3 369.3 116.8 368.1 118.3 367.1 119.8 365.9 121.3 364.7 122.8 363.8 124.3 362.9 125.8 362.0 127.3 360.9 128.8 359.8 130.3 359.0 131.8 358.2 133.3 357.0 134.8 355.6 136.3 354.5 137.8 353.4 139.3 351.9 140.8 351.2 142.3 349.5 143.8 348.1 145.3 347.1 146.8 346.2 148.3 344.7 149.8 343.6 151.3 343.1 152.8 342.5 154.3 341.5 155.8 340.5 157.3 339.3 158.8 338.6 160.3 337.4 161.8 335.9 163.3 334.7 164.8 334.1 166.3 333.0 167.8 332.9 169.3 332.9 170.8 332.7 172.3 332.3 173.8 332.2 175.3 331.6 176.8 331.4 178.3 331.0 179.8 330.8 181.3 329.5 182.8 328.5 184.3 327.4 185.8 327.7 187.3 327.7 188.8 326.8 190.3 325.9 191.8 325.4 193.3 326.2 194.8 326.1 196.3 325.8 197.8 325.2 199.3 325.1 200.8 326.7 202.3 325.9 203.8 325.5 205.3 327.4 206.8 328.0 208.3 326.4 209.8 327.6 211.3 325.8"/><path d="M53.8 418.8 55.3 417.4 56.8 416.2 58.3 414.9 59.8 413.5 61.3 412.2 62.8 410.9 64.3 409.6 65.8 408.3 67.3 407.3 68.8 406.3 70.3 405.1 71.8 403.7 73.3 402.5 74.8 401.3 76.3 400.1 77.8 399.1 79.3 397.9 80.8 396.7 82.3 395.5 83.8 394.3 85.3 393.1 86.8 392.0 88.3 390.9 89.8 389.7 91.3 388.5 92.8 387.4 94.3 386.1 95.8 385.2 97.3 383.9 98.8 382.7 100.3 381.5 101.8 380.6 103.3 379.4 104.8 378.3 106.3 377.4 107.8 376.3 109.3 375.1 110.8 374.0 112.3 372.9 113.8 371.8 115.3 370.7 116.8 369.6 118.3 368.7 119.8 367.8 121.3 366.9 122.8 365.8 124.3 364.9 125.8 363.8 127.3 362.9 128.8 361.9 130.3 360.8 131.8 360.0 133.3 358.7 134.8 357.4 136.3 356.1 137.8 354.9 139.3 353.5 140.8 352.1 142.3 350.6 143.8 349.6 145.3 348.4 146.8 348.0 148.3 347.2 149.8 346.0 151.3 345.5 152.8 344.6 154.3 344.1 155.8 342.8 157.3 342.4 158.8 341.9 160.3 340.9 161.8 339.8 163.3 338.9 164.8 338.3 166.3 338.6 167.8 338.6 169.3 338.4 170.8 337.5 172.3 336.6 173.8 336.1 175.3 335.2 176.8 334.4 178.3 333.8 179.8 333.8 181.3 333.2 182.8 333.0 184.3 332.4 185.8 331.9 187.3 331.4 188.8 332.2 190.3 332.2 191.8 333.2 193.3 332.8 194.8 333.6 196.3 332.1 197.8 331.7 199.3 331.6 200.8 331.0 202.3 331.0 203.8 330.2 205.3 330.2 206.8 329.7 208.3 330.1 209.8 330.0 211.3 329.1"/><path d="M53.8 418.7 55.3 417.2 56.8 415.9 58.3 414.7 59.8 413.4 61.3 412.1 62.8 410.9 64.3 409.5 65.8 408.4 67.3 407.4 68.8 406.0 70.3 405.0 71.8 403.7 73.3 402.6 74.8 401.1 76.3 400.0 77.8 398.8 79.3 397.5 80.8 396.2 82.3 394.9 83.8 393.6 85.3 392.5 86.8 391.4 88.3 389.9 89.8 388.8 91.3 387.7 92.8 386.6 94.3 385.7 95.8 384.3 97.3 383.2 98.8 382.1 100.3 381.1 101.8 379.8 103.3 378.6 104.8 377.5 106.3 376.4 107.8 375.1 109.3 374.1 110.8 373.0 112.3 372.1 113.8 370.7 115.3 369.7 116.8 368.6 118.3 367.5 119.8 366.6 121.3 365.8 122.8 364.8 124.3 363.8 125.8 362.9 127.3 361.7 128.8 360.6 130.3 359.5 131.8 358.4 133.3 357.4 134.8 356.7 136.3 355.5 137.8 354.4 139.3 353.1 140.8 352.1 142.3 350.9 143.8 349.5 145.3 348.3 146.8 347.6 148.3 346.4 149.8 345.7 151.3 344.7 152.8 344.2 154.3 343.3 155.8 342.5 157.3 341.4 158.8 340.7 160.3 339.7 161.8 338.3 163.3 337.6 164.8 336.4 166.3 336.3 167.8 335.9 169.3 335.1 170.8 334.7 172.3 332.8 173.8 333.0 175.3 332.1 176.8 331.9 178.3 332.8 179.8 331.2 181.3 330.5 182.8 330.2 184.3 330.1 185.8 328.6 187.3 327.7 188.8 328.7 190.3 328.2 191.8 328.5 193.3 327.4 194.8 326.7 196.3 325.3 197.8 325.9 199.3 327.3 200.8 327.4 202.3 327.3 203.8 327.6 205.3 328.2 206.8 327.9 208.3 328.6 209.8 331.0 211.3 333.4"/><path d="M53.8 418.5 55.3 417.4 56.8 416.1 58.3 414.9 59.8 413.6 61.3 412.2 62.8 411.0 64.3 409.8 65.8 408.6 67.3 407.2 68.8 406.1 70.3 404.8 71.8 403.5 73.3 402.3 74.8 401.0 76.3 400.1 77.8 398.9 79.3 397.7 80.8 396.4 82.3 395.2 83.8 394.0 85.3 392.9 86.8 391.7 88.3 390.6 89.8 389.3 91.3 388.1 92.8 386.9 94.3 385.6 95.8 384.5 97.3 383.3 98.8 382.2 100.3 381.1 101.8 379.9 103.3 378.9 104.8 377.9 106.3 376.7 107.8 375.6 109.3 374.6 110.8 373.4 112.3 372.2 113.8 371.2 115.3 369.8 116.8 368.5 118.3 367.6 119.8 366.6 121.3 365.5 122.8 364.6 124.3 363.9 125.8 362.8 127.3 361.7 128.8 360.7 130.3 359.4 131.8 358.6 133.3 357.5 134.8 356.5 136.3 355.6 137.8 354.3 139.3 353.1 140.8 351.9 142.3 351.0 143.8 349.4 145.3 348.2 146.8 346.9 148.3 345.9 149.8 345.1 151.3 344.1 152.8 343.4 154.3 342.5 155.8 341.3 157.3 340.2 158.8 338.9 160.3 338.2 161.8 337.3 163.3 336.9 164.8 336.6 166.3 335.4 167.8 334.3 169.3 333.9 170.8 332.9 172.3 332.5 173.8 332.2 175.3 331.5 176.8 331.9 178.3 330.9 179.8 330.7 181.3 329.9 182.8 327.7 184.3 327.4 185.8 327.2 187.3 327.5 188.8 327.3 190.3 326.7 191.8 326.4 193.3 326.3 194.8 327.1 196.3 326.9 197.8 328.1 199.3 328.8 200.8 327.9 202.3 328.9 203.8 326.4 205.3 326.6 206.8 325.7 208.3 325.8 209.8 327.4 211.3 327.5"/><path d="M53.8 418.9 55.3 417.5 56.8 416.1 58.3 414.9 59.8 413.6 61.3 412.1 62.8 410.8 64.3 409.6 65.8 408.4 67.3 407.1 68.8 405.9 70.3 404.7 71.8 403.4 73.3 402.3 74.8 400.9 76.3 399.7 77.8 398.8 79.3 397.5 80.8 396.3 82.3 394.9 83.8 393.6 85.3 392.4 86.8 391.3 88.3 390.1 89.8 389.2 91.3 387.9 92.8 386.8 94.3 385.7 95.8 384.7 97.3 383.6 98.8 382.3 100.3 381.4 101.8 380.3 103.3 379.0 104.8 377.7 106.3 376.6 107.8 375.3 109.3 374.3 110.8 373.1 112.3 372.1 113.8 371.0 115.3 370.0 116.8 369.3 118.3 368.4 119.8 367.3 121.3 366.1 122.8 365.3 124.3 364.0 125.8 362.7 127.3 361.9 128.8 360.8 130.3 360.0 131.8 359.1 133.3 358.4 134.8 357.6 136.3 356.4 137.8 355.0 139.3 353.8 140.8 352.8 142.3 351.6 143.8 349.7 145.3 348.4 146.8 347.3 148.3 346.2 149.8 345.2 151.3 344.6 152.8 343.3 154.3 342.6 155.8 341.1 157.3 339.6 158.8 338.6 160.3 337.8 161.8 336.8 163.3 336.0 164.8 335.7 166.3 335.4 167.8 334.9 169.3 334.4 170.8 333.5 172.3 332.6 173.8 331.5 175.3 330.9 176.8 330.0 178.3 329.6 179.8 329.8 181.3 329.9 182.8 330.5 184.3 329.5 185.8 327.8 187.3 327.0 188.8 328.6 190.3 329.1 191.8 328.7 193.3 329.8 194.8 329.4 196.3 330.8 197.8 330.2 199.3 329.7 200.8 330.3 202.3 329.0 203.8 328.9 205.3 331.0 206.8 331.3 208.3 329.8 209.8 329.5 211.3 329.5"/><path d="M53.8 418.6 55.3 417.4 56.8 416.0 58.3 414.8 59.8 413.4 61.3 412.1 62.8 410.7 64.3 409.5 65.8 408.4 67.3 407.1 68.8 405.7 70.3 404.5 71.8 403.3 73.3 402.2 74.8 401.0 76.3 399.8 77.8 398.4 79.3 397.3 80.8 396.1 82.3 394.8 83.8 393.4 85.3 392.1 86.8 391.0 88.3 389.9 89.8 388.4 91.3 387.2 92.8 386.0 94.3 384.9 95.8 383.9 97.3 382.7 98.8 381.7 100.3 380.7 101.8 379.6 103.3 378.7 104.8 377.5 106.3 376.3 107.8 375.2 109.3 373.9 110.8 372.8 112.3 371.6 113.8 370.5 115.3 369.5 116.8 368.1 118.3 367.2 119.8 366.2 121.3 365.2 122.8 364.3 124.3 363.3 125.8 362.2 127.3 361.0 128.8 360.1 130.3 359.2 131.8 358.0 133.3 356.8 134.8 355.5 136.3 354.5 137.8 353.2 139.3 351.8 140.8 351.0 142.3 349.9 143.8 348.8 145.3 347.7 146.8 346.5 148.3 345.5 149.8 344.7 151.3 343.8 152.8 342.7 154.3 341.8 155.8 341.5 157.3 340.3 158.8 339.0 160.3 338.2 161.8 337.0 163.3 337.2 164.8 336.6 166.3 336.0 167.8 335.4 169.3 335.4 170.8 334.1 172.3 333.3 173.8 331.8 175.3 331.8 176.8 331.2 178.3 331.6 179.8 330.8 181.3 329.6 182.8 328.7 184.3 328.8 185.8 327.9 187.3 327.8 188.8 327.1 190.3 326.4 191.8 326.0 193.3 327.4 194.8 326.4 196.3 326.8 197.8 327.5 199.3 326.7 200.8 325.2 202.3 326.9 203.8 328.6 205.3 328.2 206.8 326.7 208.3 327.7 209.8 327.5 211.3 326.4"/><path d="M53.8 418.4 55.3 417.0 56.8 415.6 58.3 414.2 59.8 413.0 61.3 411.7 62.8 410.7 64.3 409.1 65.8 407.8 67.3 406.6 68.8 405.5 70.3 404.4 71.8 403.3 73.3 402.1 74.8 400.8 76.3 399.6 77.8 398.3 79.3 396.9 80.8 396.0 82.3 394.9 83.8 394.0 85.3 392.9 86.8 391.8 88.3 390.7 89.8 389.3 91.3 388.0 92.8 386.9 94.3 385.7 95.8 384.4 97.3 383.3 98.8 382.0 100.3 380.9 101.8 380.0 103.3 378.7 104.8 377.6 106.3 376.5 107.8 375.4 109.3 374.4 110.8 373.2 112.3 372.0 113.8 370.7 115.3 369.6 116.8 368.8 118.3 367.6 119.8 366.6 121.3 365.7 122.8 364.8 124.3 363.9 125.8 362.7 127.3 361.6 128.8 360.9 130.3 359.7 131.8 358.8 133.3 357.6 134.8 356.3 136.3 354.6 137.8 353.3 139.3 351.7 140.8 350.5 142.3 349.2 143.8 348.5 145.3 347.6 146.8 346.7 148.3 345.5 149.8 344.2 151.3 343.5 152.8 342.4 154.3 341.5 155.8 341.0 157.3 340.1 158.8 339.3 160.3 338.2 161.8 337.9 163.3 337.3 164.8 336.8 166.3 336.7 167.8 335.2 169.3 334.6 170.8 334.2 172.3 333.7 173.8 333.2 175.3 332.8 176.8 331.4 178.3 330.8 179.8 331.1 181.3 330.5 182.8 330.0 184.3 330.1 185.8 328.5 187.3 328.6 188.8 329.5 190.3 329.0 191.8 328.2 193.3 328.6 194.8 328.2 196.3 327.4 197.8 327.7 199.3 326.1 200.8 327.0 202.3 325.9 203.8 325.6 205.3 326.7 206.8 326.8 208.3 327.3 209.8 329.0 211.3 330.8"/><path d="M53.8 419.6 55.3 418.4 56.8 416.9 58.3 415.6 59.8 414.4 61.3 413.0 62.8 411.8 64.3 410.6 65.8 409.3 67.3 408.0 68.8 406.9 70.3 405.6 71.8 404.4 73.3 403.3 74.8 402.1 76.3 401.1 77.8 400.0 79.3 398.8 80.8 397.8 82.3 396.6 83.8 395.3 85.3 394.0 86.8 392.9 88.3 391.7 89.8 390.4 91.3 389.5 92.8 388.1 94.3 386.9 95.8 385.8 97.3 384.7 98.8 383.8 100.3 382.7 101.8 381.6 103.3 380.6 104.8 379.3 106.3 378.1 107.8 377.0 109.3 376.0 110.8 374.9 112.3 374.0 113.8 372.9 115.3 372.0 116.8 370.9 118.3 370.0 119.8 369.0 121.3 368.0 122.8 366.9 124.3 366.1 125.8 365.0 127.3 364.1 128.8 363.2 130.3 362.0 131.8 360.9 133.3 360.0 134.8 359.1 136.3 357.8 137.8 356.4 139.3 355.1 140.8 353.9 142.3 352.6 143.8 351.4 145.3 350.6 146.8 349.4 148.3 348.5 149.8 347.3 151.3 346.5 152.8 345.9 154.3 344.6 155.8 344.0 157.3 343.4 158.8 342.7 160.3 342.2 161.8 341.7 163.3 340.6 164.8 340.0 166.3 339.7 167.8 339.7 169.3 338.6 170.8 337.8 172.3 336.8 173.8 336.4 175.3 335.6 176.8 334.8 178.3 335.1 179.8 336.2 181.3 334.7 182.8 335.5 184.3 334.7 185.8 335.0 187.3 335.1 188.8 335.9 190.3 335.7 191.8 335.0 193.3 335.0 194.8 335.8 196.3 335.1 197.8 335.6 199.3 335.7 200.8 336.0 202.3 336.1 203.8 336.9 205.3 337.8 206.8 337.5 208.3 337.1 209.8 334.7 211.3 334.0"/><path d="M53.8 418.2 55.3 416.8 56.8 415.4 58.3 414.1 59.8 412.9 61.3 411.7 62.8 410.3 64.3 409.0 65.8 407.9 67.3 406.5 68.8 405.3 70.3 403.9 71.8 402.6 73.3 401.5 74.8 400.3 76.3 399.1 77.8 397.9 79.3 396.8 80.8 395.7 82.3 394.4 83.8 393.4 85.3 392.2 86.8 391.0 88.3 389.7 89.8 388.5 91.3 387.4 92.8 386.1 94.3 384.9 95.8 383.7 97.3 382.8 98.8 381.7 100.3 380.6 101.8 379.5 103.3 378.4 104.8 377.2 106.3 375.8 107.8 374.7 109.3 373.5 110.8 372.5 112.3 371.4 113.8 370.2 115.3 369.0 116.8 367.8 118.3 366.8 119.8 365.7 121.3 364.5 122.8 363.5 124.3 362.5 125.8 361.3 127.3 360.3 128.8 359.1 130.3 357.6 131.8 356.8 133.3 355.8 134.8 354.8 136.3 353.9 137.8 352.5 139.3 351.4 140.8 350.2 142.3 349.0 143.8 347.9 145.3 346.9 146.8 345.4 148.3 344.7 149.8 343.6 151.3 342.4 152.8 341.2 154.3 340.2 155.8 338.9 157.3 338.4 158.8 337.7 160.3 336.5 161.8 336.0 163.3 335.2 164.8 334.4 166.3 334.0 167.8 333.2 169.3 332.3 170.8 331.8 172.3 330.2 173.8 329.0 175.3 328.8 176.8 328.8 178.3 327.3 179.8 326.9 181.3 326.1 182.8 325.6 184.3 325.7 185.8 326.3 187.3 327.1 188.8 327.4 190.3 327.4 191.8 327.1 193.3 325.2 194.8 325.3 196.3 324.1 197.8 323.1 199.3 323.2 200.8 321.7 202.3 323.7 203.8 324.3 205.3 324.5 206.8 324.9 208.3 325.0 209.8 324.8 211.3 325.5"/><path d="M53.8 418.6 55.3 417.3 56.8 416.0 58.3 414.6 59.8 413.2 61.3 411.9 62.8 410.7 64.3 409.4 65.8 408.2 67.3 407.0 68.8 405.8 70.3 404.7 71.8 403.5 73.3 402.3 74.8 401.0 76.3 399.7 77.8 398.6 79.3 397.5 80.8 396.2 82.3 395.0 83.8 393.8 85.3 392.6 86.8 391.3 88.3 390.1 89.8 389.0 91.3 387.8 92.8 386.8 94.3 385.5 95.8 384.3 97.3 383.2 98.8 382.1 100.3 381.0 101.8 379.7 103.3 378.7 104.8 377.5 106.3 376.5 107.8 375.4 109.3 374.3 110.8 373.1 112.3 372.1 113.8 371.0 115.3 369.7 116.8 368.6 118.3 367.2 119.8 366.3 121.3 365.4 122.8 364.5 124.3 363.3 125.8 362.6 127.3 361.8 128.8 360.7 130.3 359.3 131.8 358.1 133.3 357.3 134.8 356.5 136.3 355.2 137.8 353.6 139.3 352.2 140.8 351.4 142.3 350.2 143.8 348.7 145.3 347.0 146.8 346.2 148.3 345.4 149.8 344.3 151.3 343.3 152.8 342.4 154.3 341.4 155.8 340.4 157.3 339.4 158.8 338.4 160.3 338.1 161.8 337.5 163.3 337.1 164.8 337.0 166.3 335.2 167.8 334.5 169.3 334.2 170.8 333.4 172.3 332.5 173.8 332.1 175.3 331.2 176.8 330.3 178.3 329.7 179.8 329.3 181.3 328.9 182.8 329.1 184.3 328.7 185.8 328.1 187.3 329.9 188.8 329.3 190.3 328.8 191.8 328.4 193.3 327.7 194.8 326.3 196.3 326.6 197.8 327.9 199.3 326.1 200.8 325.5 202.3 326.1 203.8 325.5 205.3 326.2 206.8 326.3 208.3 325.1 209.8 325.1 211.3 324.7"/><path d="M53.8 418.8 55.3 417.5 56.8 416.4 58.3 415.1 59.8 413.8 61.3 412.4 62.8 411.1 64.3 409.8 65.8 408.5 67.3 407.1 68.8 405.7 70.3 404.6 71.8 403.4 73.3 402.4 74.8 401.2 76.3 400.1 77.8 398.8 79.3 397.4 80.8 396.2 82.3 395.1 83.8 394.0 85.3 392.8 86.8 391.7 88.3 390.6 89.8 389.5 91.3 388.3 92.8 387.2 94.3 386.1 95.8 384.9 97.3 383.6 98.8 382.4 100.3 381.3 101.8 380.3 103.3 379.1 104.8 377.9 106.3 376.9 107.8 375.8 109.3 374.5 110.8 373.4 112.3 372.2 113.8 370.9 115.3 369.9 116.8 369.2 118.3 368.1 119.8 367.0 121.3 366.2 122.8 365.3 124.3 364.3 125.8 363.5 127.3 362.3 128.8 361.3 130.3 360.4 131.8 359.5 133.3 358.3 134.8 357.0 136.3 356.2 137.8 355.0 139.3 353.8 140.8 352.9 142.3 351.3 143.8 350.2 145.3 348.7 146.8 348.0 148.3 346.8 149.8 345.9 151.3 344.8 152.8 344.0 154.3 343.3 155.8 342.5 157.3 341.6 158.8 340.9 160.3 340.1 161.8 339.2 163.3 338.7 164.8 338.4 166.3 337.1 167.8 336.1 169.3 335.3 170.8 334.9 172.3 333.8 173.8 334.2 175.3 333.7 176.8 333.4 178.3 333.4 179.8 332.5 181.3 332.4 182.8 332.3 184.3 332.8 185.8 331.7 187.3 332.4 188.8 332.5 190.3 332.5 191.8 333.1 193.3 332.6 194.8 332.3 196.3 332.9 197.8 332.4 199.3 333.3 200.8 334.4 202.3 334.3 203.8 334.1 205.3 333.2 206.8 332.0 208.3 333.7 209.8 332.3 211.3 332.4"/><path d="M53.8 418.9 55.3 417.5 56.8 416.1 58.3 415.0 59.8 413.7 61.3 412.5 62.8 411.4 64.3 410.2 65.8 409.1 67.3 407.7 68.8 406.4 70.3 405.3 71.8 404.2 73.3 402.8 74.8 401.7 76.3 400.5 77.8 399.3 79.3 398.2 80.8 397.1 82.3 395.8 83.8 394.6 85.3 393.5 86.8 392.3 88.3 391.1 89.8 389.9 91.3 388.5 92.8 387.3 94.3 386.2 95.8 385.0 97.3 383.7 98.8 382.5 100.3 381.4 101.8 380.4 103.3 379.3 104.8 378.3 106.3 377.0 107.8 375.9 109.3 374.7 110.8 373.6 112.3 372.6 113.8 371.7 115.3 370.6 116.8 369.7 118.3 368.8 119.8 367.6 121.3 366.4 122.8 365.4 124.3 364.2 125.8 363.5 127.3 362.1 128.8 360.9 130.3 360.1 131.8 359.0 133.3 358.2 134.8 356.9 136.3 356.0 137.8 354.7 139.3 353.7 140.8 352.7 142.3 351.2 143.8 349.8 145.3 348.4 146.8 347.1 148.3 346.4 149.8 345.5 151.3 344.9 152.8 344.4 154.3 343.8 155.8 343.1 157.3 342.1 158.8 341.1 160.3 340.4 161.8 339.9 163.3 339.5 164.8 338.8 166.3 337.9 167.8 337.1 169.3 337.1 170.8 336.5 172.3 336.7 173.8 335.6 175.3 335.4 176.8 334.8 178.3 334.6 179.8 333.5 181.3 333.2 182.8 332.6 184.3 332.0 185.8 330.9 187.3 329.7 188.8 329.5 190.3 329.9 191.8 330.2 193.3 330.4 194.8 330.7 196.3 329.6 197.8 330.7 199.3 330.8 200.8 330.1 202.3 329.6 203.8 330.9 205.3 331.1 206.8 329.3 208.3 332.0 209.8 330.2 211.3 332.5"/><path d="M53.8 419.1 55.3 417.9 56.8 416.7 58.3 415.5 59.8 414.2 61.3 412.9 62.8 411.6 64.3 410.2 65.8 409.0 67.3 407.9 68.8 406.6 70.3 405.5 71.8 404.1 73.3 402.9 74.8 401.5 76.3 400.1 77.8 399.0 79.3 397.8 80.8 396.6 82.3 395.3 83.8 394.2 85.3 392.9 86.8 391.7 88.3 390.6 89.8 389.3 91.3 388.3 92.8 387.0 94.3 386.0 95.8 384.9 97.3 383.9 98.8 382.8 100.3 381.8 101.8 380.7 103.3 379.4 104.8 378.4 106.3 377.2 107.8 376.1 109.3 375.1 110.8 373.9 112.3 373.0 113.8 371.8 115.3 370.9 116.8 369.9 118.3 369.1 119.8 368.2 121.3 367.3 122.8 366.2 124.3 365.2 125.8 363.9 127.3 362.8 128.8 361.7 130.3 360.6 131.8 359.7 133.3 358.5 134.8 357.5 136.3 356.3 137.8 355.1 139.3 354.1 140.8 353.0 142.3 351.6 143.8 350.4 145.3 350.1 146.8 349.0 148.3 348.1 149.8 346.9 151.3 346.2 152.8 345.7 154.3 345.0 155.8 344.0 157.3 343.1 158.8 341.7 160.3 341.1 161.8 340.3 163.3 339.7 164.8 339.1 166.3 338.5 167.8 338.7 169.3 338.4 170.8 337.4 172.3 337.0 173.8 336.7 175.3 336.0 176.8 336.2 178.3 335.4 179.8 333.8 181.3 332.8 182.8 332.8 184.3 331.9 185.8 331.8 187.3 330.7 188.8 331.0 190.3 330.9 191.8 330.4 193.3 330.2 194.8 330.3 196.3 331.4 197.8 331.8 199.3 331.7 200.8 332.0 202.3 333.0 203.8 333.5 205.3 335.4 206.8 334.4 208.3 335.3 209.8 335.3 211.3 334.4"/><path d="M53.8 419.2 55.3 418.0 56.8 416.7 58.3 415.2 59.8 413.9 61.3 412.6 62.8 411.5 64.3 410.2 65.8 408.9 67.3 407.8 68.8 406.6 70.3 405.3 71.8 404.1 73.3 402.9 74.8 401.7 76.3 400.3 77.8 399.1 79.3 398.0 80.8 396.7 82.3 395.6 83.8 394.5 85.3 393.2 86.8 392.1 88.3 390.7 89.8 389.4 91.3 388.1 92.8 387.0 94.3 385.9 95.8 384.9 97.3 383.8 98.8 382.7 100.3 381.5 101.8 380.4 103.3 379.4 104.8 378.4 106.3 377.2 107.8 376.2 109.3 375.3 110.8 374.3 112.3 373.1 113.8 372.1 115.3 371.1 116.8 370.0 118.3 369.0 119.8 368.1 121.3 367.0 122.8 366.0 124.3 364.8 125.8 363.8 127.3 363.0 128.8 361.9 130.3 360.9 131.8 360.0 133.3 359.0 134.8 357.6 136.3 356.6 137.8 355.2 139.3 354.1 140.8 352.9 142.3 351.8 143.8 350.6 145.3 349.3 146.8 348.0 148.3 347.0 149.8 346.1 151.3 345.3 152.8 344.4 154.3 343.8 155.8 343.0 157.3 342.2 158.8 341.3 160.3 340.6 161.8 340.1 163.3 339.1 164.8 337.9 166.3 337.5 167.8 337.1 169.3 336.5 170.8 336.0 172.3 334.8 173.8 333.9 175.3 333.5 176.8 333.2 178.3 332.2 179.8 332.2 181.3 330.8 182.8 331.5 184.3 330.6 185.8 330.2 187.3 329.5 188.8 328.7 190.3 328.7 191.8 327.6 193.3 327.8 194.8 328.5 196.3 328.6 197.8 329.0 199.3 328.1 200.8 326.8 202.3 326.2 203.8 328.0 205.3 328.9 206.8 327.4 208.3 330.0 209.8 331.1 211.3 332.7"/><path d="M53.8 419.4 55.3 417.9 56.8 416.6 58.3 415.2 59.8 414.1 61.3 412.8 62.8 411.5 64.3 410.2 65.8 408.7 67.3 407.5 68.8 406.2 70.3 405.1 71.8 404.0 73.3 402.8 74.8 401.6 76.3 400.5 77.8 399.2 79.3 398.2 80.8 397.0 82.3 395.8 83.8 394.6 85.3 393.6 86.8 392.3 88.3 391.2 89.8 390.1 91.3 388.9 92.8 387.9 94.3 386.8 95.8 385.7 97.3 384.4 98.8 383.3 100.3 382.0 101.8 381.0 103.3 380.1 104.8 378.8 106.3 377.9 107.8 376.6 109.3 375.6 110.8 374.5 112.3 373.3 113.8 372.2 115.3 371.1 116.8 370.0 118.3 369.1 119.8 368.0 121.3 367.1 122.8 366.1 124.3 365.1 125.8 364.3 127.3 363.3 128.8 362.2 130.3 361.2 131.8 360.3 133.3 359.4 134.8 357.8 136.3 356.7 137.8 355.6 139.3 355.0 140.8 353.6 142.3 352.4 143.8 351.0 145.3 349.9 146.8 348.4 148.3 347.3 149.8 346.4 151.3 345.2 152.8 344.3 154.3 343.4 155.8 343.1 157.3 342.8 158.8 342.7 160.3 341.9 161.8 341.3 163.3 341.4 164.8 340.3 166.3 340.2 167.8 339.0 169.3 338.7 170.8 337.2 172.3 336.5 173.8 335.8 175.3 335.2 176.8 333.7 178.3 333.5 179.8 333.1 181.3 333.7 182.8 333.7 184.3 332.0 185.8 332.0 187.3 332.6 188.8 332.4 190.3 331.9 191.8 330.9 193.3 330.9 194.8 330.4 196.3 330.5 197.8 330.5 199.3 332.0 200.8 331.2 202.3 331.9 203.8 331.0 205.3 331.6 206.8 333.1 208.3 332.6 209.8 331.4 211.3 331.9"/><path d="M53.8 418.8 55.3 417.5 56.8 416.2 58.3 415.0 59.8 413.5 61.3 412.3 62.8 411.1 64.3 409.7 65.8 408.7 67.3 407.5 68.8 406.1 70.3 404.7 71.8 403.4 73.3 402.2 74.8 401.0 76.3 399.8 77.8 398.7 79.3 397.5 80.8 396.2 82.3 394.8 83.8 393.6 85.3 392.4 86.8 391.4 88.3 390.0 89.8 389.0 91.3 387.6 92.8 386.5 94.3 385.5 95.8 384.3 97.3 383.1 98.8 382.1 100.3 380.9 101.8 379.8 103.3 378.8 104.8 377.8 106.3 376.6 107.8 375.7 109.3 374.6 110.8 373.6 112.3 372.4 113.8 371.5 115.3 370.4 116.8 369.5 118.3 368.3 119.8 367.4 121.3 366.4 122.8 365.0 124.3 364.4 125.8 363.2 127.3 362.3 128.8 361.2 130.3 360.1 131.8 359.1 133.3 358.2 134.8 357.2 136.3 356.2 137.8 354.7 139.3 353.6 140.8 352.1 142.3 351.4 143.8 350.3 145.3 349.4 146.8 348.3 148.3 347.2 149.8 346.0 151.3 345.6 152.8 344.5 154.3 343.8 155.8 342.6 157.3 341.7 158.8 340.7 160.3 339.9 161.8 338.9 163.3 338.4 164.8 337.9 166.3 336.5 167.8 335.7 169.3 334.6 170.8 334.5 172.3 333.4 173.8 333.2 175.3 332.8 176.8 332.3 178.3 330.9 179.8 331.6 181.3 331.1 182.8 331.2 184.3 331.5 185.8 330.5 187.3 329.6 188.8 330.7 190.3 332.0 191.8 331.1 193.3 330.8 194.8 331.5 196.3 331.2 197.8 332.3 199.3 332.5 200.8 332.2 202.3 332.6 203.8 331.9 205.3 333.0 206.8 332.0 208.3 333.4 209.8 336.0 211.3 333.3"/><path d="M53.8 419.4 55.3 418.1 56.8 416.9 58.3 415.7 59.8 414.4 61.3 413.1 62.8 411.8 64.3 410.6 65.8 409.3 67.3 408.0 68.8 406.6 70.3 405.6 71.8 404.4 73.3 403.4 74.8 402.2 76.3 401.0 77.8 399.7 79.3 398.5 80.8 397.3 82.3 396.1 83.8 394.9 85.3 393.5 86.8 392.3 88.3 391.1 89.8 390.0 91.3 388.8 92.8 387.5 94.3 386.4 95.8 385.4 97.3 384.2 98.8 383.1 100.3 381.9 101.8 380.9 103.3 379.8 104.8 378.9 106.3 377.7 107.8 376.9 109.3 375.7 110.8 374.7 112.3 374.0 113.8 372.9 115.3 371.8 116.8 370.4 118.3 369.4 119.8 368.3 121.3 367.4 122.8 366.4 124.3 365.3 125.8 364.2 127.3 363.3 128.8 362.3 130.3 361.4 131.8 360.6 133.3 359.7 134.8 358.6 136.3 357.3 137.8 356.1 139.3 354.7 140.8 354.0 142.3 352.7 143.8 352.0 145.3 350.8 146.8 349.7 148.3 349.1 149.8 348.2 151.3 347.3 152.8 346.4 154.3 345.4 155.8 344.4 157.3 343.4 158.8 342.1 160.3 341.5 161.8 340.6 163.3 340.5 164.8 340.8 166.3 340.8 167.8 339.6 169.3 338.8 170.8 338.2 172.3 337.0 173.8 337.3 175.3 337.2 176.8 336.9 178.3 337.5 179.8 337.2 181.3 336.5 182.8 336.2 184.3 335.5 185.8 335.5 187.3 334.4 188.8 334.7 190.3 334.4 191.8 334.1 193.3 333.9 194.8 334.0 196.3 332.7 197.8 333.6 199.3 333.7 200.8 335.7 202.3 335.7 203.8 336.8 205.3 336.8 206.8 336.6 208.3 335.3 209.8 335.0 211.3 334.6"/><path d="M53.8 417.8 55.3 416.4 56.8 415.1 58.3 413.9 59.8 412.5 61.3 411.3 62.8 410.1 64.3 408.9 65.8 407.6 67.3 406.3 68.8 405.3 70.3 404.2 71.8 403.0 73.3 401.6 74.8 400.1 76.3 399.0 77.8 397.9 79.3 396.8 80.8 395.6 82.3 394.4 83.8 393.2 85.3 392.0 86.8 390.9 88.3 389.8 89.8 388.4 91.3 387.1 92.8 386.1 94.3 385.0 95.8 383.8 97.3 382.6 98.8 381.3 100.3 380.0 101.8 378.9 103.3 377.5 104.8 376.4 106.3 375.4 107.8 374.3 109.3 373.3 110.8 372.4 112.3 371.2 113.8 369.9 115.3 368.6 116.8 367.2 118.3 366.1 119.8 365.2 121.3 363.9 122.8 362.8 124.3 361.7 125.8 360.6 127.3 359.5 128.8 358.5 130.3 357.2 131.8 356.4 133.3 355.3 134.8 353.8 136.3 352.7 137.8 351.8 139.3 350.5 140.8 349.5 142.3 347.9 143.8 346.6 145.3 345.7 146.8 344.9 148.3 343.8 149.8 343.0 151.3 341.7 152.8 340.9 154.3 340.1 155.8 339.3 157.3 338.3 158.8 337.6 160.3 336.7 161.8 335.9 163.3 334.3 164.8 333.6 166.3 332.3 167.8 331.4 169.3 330.6 170.8 330.0 172.3 328.6 173.8 327.7 175.3 327.3 176.8 326.5 178.3 326.0 179.8 325.6 181.3 325.2 182.8 324.4 184.3 324.1 185.8 324.1 187.3 322.8 188.8 323.1 190.3 322.2 191.8 322.3 193.3 322.7 194.8 323.1 196.3 321.9 197.8 320.9 199.3 319.8 200.8 320.5 202.3 320.6 203.8 318.7 205.3 319.7 206.8 321.1 208.3 320.4 209.8 320.3 211.3 320.6"/><path d="M53.8 418.4 55.3 417.1 56.8 415.8 58.3 414.4 59.8 413.1 61.3 412.0 62.8 410.7 64.3 409.4 65.8 408.1 67.3 407.0 68.8 405.8 70.3 404.5 71.8 403.4 73.3 402.3 74.8 401.0 76.3 399.7 77.8 398.6 79.3 397.4 80.8 396.3 82.3 395.1 83.8 394.1 85.3 392.7 86.8 391.3 88.3 390.0 89.8 389.0 91.3 387.8 92.8 386.6 94.3 385.3 95.8 384.1 97.3 383.0 98.8 381.9 100.3 380.7 101.8 379.5 103.3 378.6 104.8 377.5 106.3 376.5 107.8 375.5 109.3 374.4 110.8 373.3 112.3 372.4 113.8 371.1 115.3 370.2 116.8 368.7 118.3 367.4 119.8 366.1 121.3 365.0 122.8 363.8 124.3 362.8 125.8 361.9 127.3 360.8 128.8 359.7 130.3 358.5 131.8 357.3 133.3 356.3 134.8 355.1 136.3 354.1 137.8 353.0 139.3 351.5 140.8 350.5 142.3 349.1 143.8 347.9 145.3 346.6 146.8 345.4 148.3 344.3 149.8 343.1 151.3 342.0 152.8 341.2 154.3 340.6 155.8 340.0 157.3 339.8 158.8 338.3 160.3 337.4 161.8 337.1 163.3 335.9 164.8 335.1 166.3 334.7 167.8 334.7 169.3 334.2 170.8 333.6 172.3 332.7 173.8 332.4 175.3 331.7 176.8 331.3 178.3 330.3 179.8 329.7 181.3 328.7 182.8 327.6 184.3 326.8 185.8 326.0 187.3 325.5 188.8 325.1 190.3 324.0 191.8 324.5 193.3 325.0 194.8 326.4 196.3 324.4 197.8 323.4 199.3 322.8 200.8 322.3 202.3 322.9 203.8 322.4 205.3 322.0 206.8 323.3 208.3 323.5 209.8 321.9 211.3 323.6"/><path d="M53.8 419.8 55.3 418.5 56.8 417.3 58.3 415.9 59.8 414.6 61.3 413.3 62.8 412.1 64.3 410.8 65.8 409.5 67.3 408.1 68.8 406.9 70.3 405.6 71.8 404.4 73.3 403.0 74.8 401.8 76.3 400.5 77.8 399.3 79.3 398.1 80.8 397.1 82.3 396.0 83.8 394.9 85.3 393.6 86.8 392.6 88.3 391.5 89.8 390.4 91.3 389.4 92.8 388.2 94.3 387.1 95.8 386.0 97.3 384.9 98.8 383.7 100.3 382.6 101.8 381.1 103.3 380.0 104.8 379.1 106.3 378.2 107.8 377.5 109.3 376.4 110.8 375.4 112.3 374.2 113.8 373.1 115.3 371.9 116.8 371.0 118.3 370.1 119.8 368.8 121.3 367.9 122.8 367.1 124.3 366.2 125.8 365.0 127.3 364.0 128.8 363.1 130.3 361.9 131.8 360.8 133.3 360.3 134.8 359.1 136.3 357.9 137.8 356.4 139.3 355.2 140.8 354.4 142.3 353.4 143.8 352.1 145.3 351.1 146.8 350.2 148.3 349.5 149.8 348.3 151.3 347.6 152.8 346.6 154.3 345.7 155.8 344.7 157.3 343.7 158.8 343.3 160.3 342.0 161.8 341.5 163.3 342.0 164.8 341.0 166.3 340.3 167.8 339.7 169.3 339.9 170.8 338.7 172.3 338.5 173.8 338.0 175.3 338.6 176.8 338.0 178.3 338.6 179.8 337.5 181.3 337.3 182.8 336.3 184.3 335.6 185.8 334.7 187.3 334.4 188.8 335.6 190.3 335.2 191.8 337.2 193.3 338.4 194.8 338.5 196.3 338.3 197.8 338.5 199.3 337.7 200.8 338.2 202.3 338.3 203.8 336.2 205.3 336.6 206.8 337.5 208.3 337.7 209.8 338.3 211.3 338.4"/><path d="M53.8 418.8 55.3 417.6 56.8 416.2 58.3 414.9 59.8 413.4 61.3 412.2 62.8 410.8 64.3 409.5 65.8 408.4 67.3 407.1 68.8 405.9 70.3 404.7 71.8 403.4 73.3 402.3 74.8 401.2 76.3 400.0 77.8 398.7 79.3 397.4 80.8 396.2 82.3 395.0 83.8 393.9 85.3 392.6 86.8 391.4 88.3 390.3 89.8 389.3 91.3 387.9 92.8 386.7 94.3 385.6 95.8 384.5 97.3 383.5 98.8 382.3 100.3 381.1 101.8 380.0 103.3 379.0 104.8 377.9 106.3 376.8 107.8 375.7 109.3 374.7 110.8 373.6 112.3 372.5 113.8 371.5 115.3 370.4 116.8 369.2 118.3 368.2 119.8 367.3 121.3 366.4 122.8 365.2 124.3 364.0 125.8 363.0 127.3 361.8 128.8 360.4 130.3 359.4 131.8 358.4 133.3 357.3 134.8 356.1 136.3 355.1 137.8 354.1 139.3 353.0 140.8 352.0 142.3 350.6 143.8 350.0 145.3 348.3 146.8 347.4 148.3 346.5 149.8 345.4 151.3 344.4 152.8 343.1 154.3 342.1 155.8 341.3 157.3 340.0 158.8 338.6 160.3 337.8 161.8 336.8 163.3 335.9 164.8 335.2 166.3 334.1 167.8 334.1 169.3 334.0 170.8 333.4 172.3 332.6 173.8 332.0 175.3 331.5 176.8 330.6 178.3 329.9 179.8 329.8 181.3 328.9 182.8 328.3 184.3 327.8 185.8 327.0 187.3 327.1 188.8 326.3 190.3 327.1 191.8 327.7 193.3 327.7 194.8 328.4 196.3 329.3 197.8 328.8 199.3 328.6 200.8 328.0 202.3 327.6 203.8 327.3 205.3 327.5 206.8 328.1 208.3 330.6 209.8 330.7 211.3 331.6"/><path d="M53.8 418.9 55.3 417.6 56.8 416.2 58.3 414.9 59.8 413.5 61.3 412.2 62.8 410.9 64.3 409.8 65.8 408.5 67.3 407.2 68.8 405.8 70.3 404.5 71.8 403.2 73.3 402.0 74.8 400.8 76.3 399.7 77.8 398.6 79.3 397.5 80.8 396.2 82.3 395.0 83.8 393.7 85.3 392.5 86.8 391.3 88.3 390.1 89.8 389.0 91.3 387.8 92.8 386.9 94.3 385.5 95.8 384.5 97.3 383.2 98.8 382.1 100.3 380.8 101.8 379.8 103.3 378.7 104.8 377.6 106.3 376.5 107.8 375.3 109.3 374.1 110.8 373.0 112.3 371.9 113.8 370.8 115.3 369.9 116.8 368.8 118.3 367.5 119.8 366.5 121.3 365.6 122.8 364.5 124.3 363.6 125.8 362.4 127.3 361.2 128.8 360.3 130.3 359.0 131.8 358.1 133.3 356.7 134.8 355.5 136.3 354.5 137.8 353.3 139.3 352.1 140.8 351.1 142.3 349.8 143.8 348.5 145.3 347.4 146.8 346.4 148.3 345.5 149.8 344.6 151.3 344.0 152.8 343.3 154.3 342.4 155.8 342.2 157.3 340.8 158.8 340.0 160.3 338.9 161.8 338.9 163.3 338.2 164.8 337.7 166.3 337.0 167.8 336.8 169.3 335.8 170.8 335.4 172.3 333.9 173.8 333.5 175.3 333.5 176.8 333.3 178.3 332.9 179.8 331.3 181.3 330.9 182.8 330.2 184.3 330.8 185.8 330.7 187.3 330.7 188.8 331.3 190.3 331.2 191.8 329.9 193.3 329.1 194.8 327.4 196.3 328.5 197.8 328.4 199.3 327.2 200.8 327.8 202.3 327.5 203.8 327.4 205.3 328.9 206.8 326.7 208.3 325.3 209.8 325.6 211.3 325.7"/><path d="M53.8 419.2 55.3 418.0 56.8 416.8 58.3 415.3 59.8 413.8 61.3 412.4 62.8 411.1 64.3 409.8 65.8 408.6 67.3 407.3 68.8 406.2 70.3 405.1 71.8 403.9 73.3 402.8 74.8 401.6 76.3 400.2 77.8 399.0 79.3 397.7 80.8 396.7 82.3 395.4 83.8 394.2 85.3 393.0 86.8 392.1 88.3 390.8 89.8 389.9 91.3 388.7 92.8 387.9 94.3 386.7 95.8 385.4 97.3 384.3 98.8 383.1 100.3 381.9 101.8 380.9 103.3 379.7 104.8 378.7 106.3 377.6 107.8 376.6 109.3 375.7 110.8 374.7 112.3 373.5 113.8 372.6 115.3 371.1 116.8 370.3 118.3 369.4 119.8 368.1 121.3 367.3 122.8 366.0 124.3 365.1 125.8 364.0 127.3 362.9 128.8 361.9 130.3 360.8 131.8 360.0 133.3 359.0 134.8 357.9 136.3 356.7 137.8 355.5 139.3 354.1 140.8 353.1 142.3 352.2 143.8 350.8 145.3 349.9 146.8 349.1 148.3 348.2 149.8 347.6 151.3 346.0 152.8 345.5 154.3 344.4 155.8 343.6 157.3 342.5 158.8 342.5 160.3 341.6 161.8 341.0 163.3 339.7 164.8 338.9 166.3 338.4 167.8 337.7 169.3 336.8 170.8 336.9 172.3 335.6 173.8 335.2 175.3 334.7 176.8 334.1 178.3 334.0 179.8 333.8 181.3 333.3 182.8 333.4 184.3 333.0 185.8 333.1 187.3 333.6 188.8 333.5 190.3 333.4 191.8 332.8 193.3 333.9 194.8 334.5 196.3 334.7 197.8 334.8 199.3 333.8 200.8 333.8 202.3 334.0 203.8 332.8 205.3 331.9 206.8 332.0 208.3 334.3 209.8 334.7 211.3 332.9"/><path d="M53.8 419.4 55.3 418.1 56.8 416.7 58.3 415.4 59.8 414.3 61.3 413.0 62.8 412.2 64.3 410.6 65.8 409.1 67.3 407.8 68.8 406.5 70.3 405.2 71.8 404.1 73.3 403.0 74.8 401.6 76.3 400.5 77.8 399.4 79.3 398.2 80.8 397.1 82.3 396.1 83.8 394.8 85.3 393.6 86.8 392.4 88.3 391.1 89.8 389.9 91.3 388.9 92.8 387.8 94.3 386.6 95.8 385.8 97.3 384.7 98.8 383.6 100.3 382.3 101.8 381.3 103.3 380.1 104.8 378.9 106.3 377.8 107.8 376.5 109.3 375.5 110.8 374.3 112.3 373.3 113.8 372.2 115.3 371.3 116.8 370.3 118.3 369.4 119.8 368.2 121.3 367.2 122.8 366.3 124.3 365.3 125.8 364.3 127.3 363.1 128.8 361.6 130.3 360.7 131.8 359.6 133.3 358.5 134.8 357.5 136.3 356.0 137.8 354.8 139.3 353.9 140.8 352.8 142.3 351.7 143.8 350.5 145.3 349.5 146.8 348.1 148.3 347.1 149.8 346.5 151.3 345.4 152.8 344.6 154.3 343.8 155.8 342.7 157.3 341.4 158.8 340.5 160.3 339.7 161.8 338.8 163.3 338.3 164.8 337.9 166.3 337.7 167.8 337.3 169.3 336.3 170.8 336.5 172.3 336.2 173.8 336.0 175.3 334.9 176.8 335.1 178.3 335.8 179.8 335.6 181.3 335.7 182.8 334.8 184.3 334.5 185.8 334.0 187.3 334.2 188.8 334.0 190.3 334.0 191.8 333.2 193.3 332.2 194.8 332.4 196.3 334.6 197.8 333.6 199.3 334.1 200.8 335.3 202.3 334.5 203.8 332.8 205.3 333.4 206.8 333.4 208.3 332.6 209.8 334.6 211.3 335.5"/><path d="M53.8 418.7 55.3 417.5 56.8 416.3 58.3 415.1 59.8 413.9 61.3 412.4 62.8 411.0 64.3 409.8 65.8 408.6 67.3 407.3 68.8 406.0 70.3 404.9 71.8 403.7 73.3 402.6 74.8 401.2 76.3 400.0 77.8 398.9 79.3 397.8 80.8 396.4 82.3 395.2 83.8 393.9 85.3 392.8 86.8 391.6 88.3 390.5 89.8 389.4 91.3 388.3 92.8 387.1 94.3 386.1 95.8 385.1 97.3 383.9 98.8 382.6 100.3 381.7 101.8 380.6 103.3 379.7 104.8 378.5 106.3 377.3 107.8 376.1 109.3 375.0 110.8 373.7 112.3 372.7 113.8 371.4 115.3 370.0 116.8 369.0 118.3 367.8 119.8 366.9 121.3 365.7 122.8 364.5 124.3 363.3 125.8 362.1 127.3 361.2 128.8 360.6 130.3 359.7 131.8 358.7 133.3 357.9 134.8 356.9 136.3 355.3 137.8 353.8 139.3 352.4 140.8 351.2 142.3 350.2 143.8 349.0 145.3 347.8 146.8 346.6 148.3 345.7 149.8 345.1 151.3 343.9 152.8 343.4 154.3 342.3 155.8 341.4 157.3 341.2 158.8 340.6 160.3 339.8 161.8 338.3 163.3 337.6 164.8 336.8 166.3 336.1 167.8 335.9 169.3 335.0 170.8 335.3 172.3 334.6 173.8 334.1 175.3 333.3 176.8 332.8 178.3 333.0 179.8 332.6 181.3 331.5 182.8 330.6 184.3 331.0 185.8 331.0 187.3 330.1 188.8 329.8 190.3 329.8 191.8 330.2 193.3 329.3 194.8 329.4 196.3 328.3 197.8 327.8 199.3 327.8 200.8 329.3 202.3 329.3 203.8 331.0 205.3 331.3 206.8 332.6 208.3 332.1 209.8 329.8 211.3 327.2"/><path d="M53.8 418.8 55.3 417.5 56.8 416.1 58.3 414.8 59.8 413.4 61.3 412.1 62.8 410.8 64.3 409.5 65.8 408.2 67.3 406.9 68.8 405.9 70.3 404.5 71.8 403.2 73.3 402.0 74.8 400.8 76.3 399.7 77.8 398.6 79.3 397.6 80.8 396.4 82.3 395.2 83.8 394.1 85.3 392.9 86.8 391.7 88.3 390.4 89.8 389.3 91.3 388.1 92.8 386.8 94.3 385.6 95.8 384.7 97.3 383.6 98.8 382.4 100.3 381.4 101.8 380.2 103.3 379.1 104.8 378.1 106.3 377.1 107.8 376.2 109.3 374.9 110.8 373.7 112.3 372.5 113.8 371.4 115.3 370.2 116.8 369.1 118.3 367.9 119.8 366.7 121.3 365.7 122.8 364.7 124.3 363.7 125.8 362.5 127.3 361.6 128.8 360.6 130.3 359.5 131.8 358.6 133.3 357.5 134.8 356.6 136.3 355.7 137.8 354.5 139.3 353.5 140.8 352.0 142.3 350.7 143.8 349.4 145.3 348.3 146.8 347.1 148.3 345.8 149.8 344.5 151.3 343.3 152.8 342.7 154.3 342.0 155.8 340.7 157.3 340.5 158.8 339.5 160.3 338.6 161.8 337.7 163.3 337.0 164.8 336.2 166.3 335.5 167.8 335.1 169.3 334.8 170.8 333.9 172.3 333.2 173.8 332.2 175.3 331.5 176.8 331.0 178.3 330.4 179.8 330.3 181.3 329.4 182.8 329.3 184.3 329.5 185.8 328.9 187.3 328.4 188.8 328.7 190.3 328.3 191.8 328.0 193.3 328.1 194.8 326.1 196.3 326.9 197.8 327.3 199.3 327.9 200.8 326.6 202.3 326.3 203.8 327.0 205.3 327.8 206.8 327.2 208.3 326.8 209.8 328.8 211.3 329.1"/><path d="M53.8 419.2 55.3 417.9 56.8 416.5 58.3 415.2 59.8 414.0 61.3 412.6 62.8 411.2 64.3 409.9 65.8 408.6 67.3 407.4 68.8 406.3 70.3 405.2 71.8 404.1 73.3 403.0 74.8 401.9 76.3 400.8 77.8 399.5 79.3 398.5 80.8 397.2 82.3 396.1 83.8 394.9 85.3 393.6 86.8 392.5 88.3 391.4 89.8 390.3 91.3 389.2 92.8 388.0 94.3 386.8 95.8 385.6 97.3 384.7 98.8 383.4 100.3 382.0 101.8 380.9 103.3 379.7 104.8 378.8 106.3 377.7 107.8 376.5 109.3 375.4 110.8 374.2 112.3 373.2 113.8 372.3 115.3 371.4 116.8 370.5 118.3 369.4 119.8 368.6 121.3 367.6 122.8 366.3 124.3 365.5 125.8 364.3 127.3 363.2 128.8 361.9 130.3 360.8 131.8 359.6 133.3 358.4 134.8 357.2 136.3 356.0 137.8 354.9 139.3 354.0 140.8 352.8 142.3 351.9 143.8 351.0 145.3 349.8 146.8 349.2 148.3 348.2 149.8 347.2 151.3 346.4 152.8 345.9 154.3 344.7 155.8 344.1 157.3 343.1 158.8 342.3 160.3 341.2 161.8 339.7 163.3 339.5 164.8 339.2 166.3 338.2 167.8 337.2 169.3 336.2 170.8 335.8 172.3 336.3 173.8 335.8 175.3 334.5 176.8 334.5 178.3 333.7 179.8 332.5 181.3 332.6 182.8 332.5 184.3 332.4 185.8 332.8 187.3 333.3 188.8 331.7 190.3 331.9 191.8 332.9 193.3 333.9 194.8 333.0 196.3 331.5 197.8 330.8 199.3 331.5 200.8 331.6 202.3 332.7 203.8 332.7 205.3 331.6 206.8 330.7 208.3 331.0 209.8 332.4 211.3 334.5"/><path d="M53.8 418.5 55.3 417.1 56.8 415.7 58.3 414.2 59.8 413.1 61.3 411.7 62.8 410.4 64.3 409.2 65.8 408.0 67.3 406.8 68.8 405.5 70.3 404.2 71.8 403.1 73.3 401.9 74.8 400.6 76.3 399.2 77.8 398.2 79.3 397.1 80.8 396.0 82.3 394.8 83.8 393.4 85.3 392.2 86.8 391.3 88.3 390.1 89.8 389.0 91.3 387.6 92.8 386.4 94.3 385.3 95.8 384.2 97.3 383.1 98.8 382.1 100.3 381.0 101.8 379.9 103.3 378.7 104.8 377.6 106.3 376.6 107.8 375.4 109.3 374.1 110.8 373.0 112.3 371.8 113.8 370.8 115.3 369.9 116.8 368.8 118.3 367.6 119.8 366.6 121.3 365.6 122.8 364.4 124.3 363.4 125.8 362.3 127.3 361.3 128.8 360.0 130.3 358.6 131.8 357.4 133.3 356.1 134.8 355.2 136.3 354.3 137.8 352.8 139.3 352.0 140.8 350.5 142.3 349.2 143.8 348.5 145.3 347.1 146.8 346.1 148.3 345.3 149.8 344.6 151.3 343.7 152.8 342.8 154.3 342.2 155.8 341.2 157.3 340.2 158.8 339.4 160.3 338.4 161.8 337.4 163.3 337.0 164.8 336.8 166.3 336.1 167.8 335.2 169.3 334.1 170.8 333.2 172.3 332.3 173.8 331.4 175.3 330.8 176.8 330.1 178.3 330.2 179.8 328.8 181.3 328.1 182.8 328.3 184.3 327.6 185.8 327.0 187.3 327.1 188.8 326.9 190.3 326.0 191.8 326.1 193.3 326.6 194.8 325.1 196.3 326.0 197.8 324.5 199.3 325.3 200.8 324.1 202.3 324.5 203.8 324.6 205.3 325.9 206.8 325.8 208.3 325.3 209.8 324.5 211.3 324.9"/><path d="M53.8 418.8 55.3 417.6 56.8 416.3 58.3 415.1 59.8 413.7 61.3 412.4 62.8 411.1 64.3 409.9 65.8 408.4 67.3 407.2 68.8 406.0 70.3 404.8 71.8 403.6 73.3 402.2 74.8 401.0 76.3 399.9 77.8 398.5 79.3 397.4 80.8 396.2 82.3 395.0 83.8 393.9 85.3 392.8 86.8 391.7 88.3 390.6 89.8 389.6 91.3 388.4 92.8 387.3 94.3 386.2 95.8 385.2 97.3 384.1 98.8 383.0 100.3 381.8 101.8 380.7 103.3 379.7 104.8 378.5 106.3 377.3 107.8 376.0 109.3 375.2 110.8 374.0 112.3 372.7 113.8 371.6 115.3 370.6 116.8 369.6 118.3 368.2 119.8 367.1 121.3 366.3 122.8 365.3 124.3 364.2 125.8 363.6 127.3 362.4 128.8 361.3 130.3 360.3 131.8 359.7 133.3 358.6 134.8 357.1 136.3 355.8 137.8 354.6 139.3 353.5 140.8 352.2 142.3 351.0 143.8 349.5 145.3 348.1 146.8 347.0 148.3 346.5 149.8 345.2 151.3 343.9 152.8 343.3 154.3 342.6 155.8 341.9 157.3 341.0 158.8 340.2 160.3 339.4 161.8 338.6 163.3 338.5 164.8 337.5 166.3 336.6 167.8 335.9 169.3 335.1 170.8 335.2 172.3 334.4 173.8 334.0 175.3 332.7 176.8 332.5 178.3 332.3 179.8 332.1 181.3 330.7 182.8 329.9 184.3 328.0 185.8 329.0 187.3 328.8 188.8 329.8 190.3 331.1 191.8 331.6 193.3 330.8 194.8 330.4 196.3 330.9 197.8 329.0 199.3 330.2 200.8 331.5 202.3 332.1 203.8 331.5 205.3 331.6 206.8 329.6 208.3 328.5 209.8 328.1 211.3 327.4"/><path d="M53.8 419.6 55.3 418.0 56.8 416.8 58.3 415.5 59.8 414.2 61.3 412.8 62.8 411.7 64.3 410.5 65.8 409.2 67.3 407.8 68.8 406.6 70.3 405.4 71.8 404.3 73.3 403.0 74.8 401.8 76.3 400.4 77.8 399.0 79.3 398.0 80.8 396.7 82.3 395.4 83.8 394.3 85.3 393.3 86.8 392.2 88.3 391.2 89.8 390.1 91.3 388.6 92.8 387.7 94.3 386.5 95.8 385.5 97.3 384.4 98.8 383.3 100.3 382.2 101.8 381.0 103.3 380.0 104.8 379.1 106.3 378.1 107.8 377.0 109.3 375.9 110.8 375.0 112.3 374.0 113.8 372.7 115.3 371.9 116.8 370.8 118.3 369.6 119.8 368.6 121.3 367.6 122.8 366.5 124.3 365.3 125.8 364.2 127.3 363.2 128.8 362.0 130.3 361.2 131.8 360.5 133.3 359.5 134.8 358.5 136.3 357.2 137.8 356.0 139.3 355.1 140.8 353.8 142.3 353.1 143.8 352.2 145.3 351.2 146.8 350.1 148.3 348.8 149.8 347.9 151.3 346.7 152.8 345.8 154.3 344.9 155.8 344.0 157.3 343.6 158.8 342.6 160.3 341.6 161.8 341.4 163.3 340.9 164.8 340.4 166.3 339.5 167.8 339.1 169.3 339.1 170.8 338.4 172.3 338.1 173.8 338.1 175.3 337.8 176.8 337.9 178.3 336.6 179.8 335.2 181.3 334.2 182.8 334.3 184.3 333.7 185.8 332.2 187.3 333.6 188.8 334.5 190.3 334.1 191.8 333.6 193.3 333.2 194.8 334.0 196.3 334.6 197.8 334.8 199.3 336.2 200.8 335.3 202.3 334.2 203.8 334.4 205.3 334.6 206.8 335.0 208.3 335.7 209.8 334.0 211.3 336.4"/><path d="M53.8 418.1 55.3 416.8 56.8 415.6 58.3 414.2 59.8 412.8 61.3 411.5 62.8 410.0 64.3 408.7 65.8 407.5 67.3 406.1 68.8 405.1 70.3 403.8 71.8 402.7 73.3 401.6 74.8 400.4 76.3 399.2 77.8 397.8 79.3 396.6 80.8 395.3 82.3 394.1 83.8 393.1 85.3 391.9 86.8 390.9 88.3 389.8 89.8 388.6 91.3 387.1 92.8 385.9 94.3 384.8 95.8 383.5 97.3 382.4 98.8 381.2 100.3 380.0 101.8 378.9 103.3 377.8 104.8 376.6 106.3 375.6 107.8 374.5 109.3 373.3 110.8 372.3 112.3 371.2 113.8 370.2 115.3 369.3 116.8 368.4 118.3 367.5 119.8 366.3 121.3 365.3 122.8 364.2 124.3 363.1 125.8 361.9 127.3 360.9 128.8 359.9 130.3 359.1 131.8 358.0 133.3 356.9 134.8 355.4 136.3 354.1 137.8 352.3 139.3 351.5 140.8 349.9 142.3 348.7 143.8 347.1 145.3 345.9 146.8 344.5 148.3 343.0 149.8 341.8 151.3 340.9 152.8 340.0 154.3 338.6 155.8 338.0 157.3 337.2 158.8 336.0 160.3 335.8 161.8 334.8 163.3 334.2 164.8 334.0 166.3 333.2 167.8 332.4 169.3 332.1 170.8 331.2 172.3 330.5 173.8 329.7 175.3 328.9 176.8 328.7 178.3 328.3 179.8 328.5 181.3 328.1 182.8 326.6 184.3 326.3 185.8 325.7 187.3 325.1 188.8 325.5 190.3 325.5 191.8 324.0 193.3 325.6 194.8 325.2 196.3 323.5 197.8 323.2 199.3 323.6 200.8 322.4 202.3 321.6 203.8 319.9 205.3 320.5 206.8 320.2 208.3 322.2 209.8 322.6 211.3 322.9"/><path d="M53.8 418.7 55.3 417.2 56.8 415.9 58.3 414.6 59.8 413.2 61.3 411.8 62.8 410.6 64.3 409.6 65.8 408.3 67.3 407.3 68.8 406.1 70.3 404.8 71.8 403.5 73.3 402.1 74.8 401.0 76.3 399.7 77.8 398.5 79.3 397.3 80.8 396.2 82.3 394.9 83.8 393.8 85.3 392.6 86.8 391.4 88.3 390.2 89.8 389.0 91.3 387.6 92.8 386.4 94.3 385.4 95.8 384.3 97.3 383.2 98.8 382.1 100.3 380.9 101.8 379.8 103.3 378.6 104.8 377.6 106.3 376.5 107.8 375.4 109.3 374.3 110.8 373.3 112.3 372.2 113.8 370.9 115.3 370.0 116.8 369.0 118.3 367.8 119.8 366.8 121.3 365.6 122.8 364.6 124.3 363.3 125.8 362.4 127.3 361.5 128.8 360.3 130.3 359.3 131.8 358.1 133.3 357.0 134.8 355.7 136.3 354.7 137.8 353.7 139.3 352.2 140.8 351.1 142.3 350.0 143.8 348.8 145.3 348.3 146.8 346.7 148.3 346.0 149.8 345.4 151.3 344.3 152.8 342.9 154.3 342.4 155.8 340.7 157.3 339.8 158.8 338.6 160.3 337.8 161.8 336.9 163.3 335.8 164.8 335.4 166.3 335.2 167.8 334.0 169.3 333.7 170.8 333.1 172.3 332.2 173.8 331.4 175.3 331.2 176.8 331.4 178.3 330.7 179.8 328.8 181.3 329.0 182.8 328.9 184.3 327.3 185.8 326.8 187.3 326.8 188.8 326.5 190.3 326.8 191.8 326.2 193.3 326.8 194.8 324.6 196.3 325.3 197.8 325.0 199.3 325.2 200.8 326.0 202.3 327.5 203.8 326.5 205.3 326.5 206.8 325.5 208.3 325.8 209.8 325.3 211.3 324.1"/><path d="M53.8 419.3 55.3 418.0 56.8 416.8 58.3 415.3 59.8 414.0 61.3 412.8 62.8 411.5 64.3 410.1 65.8 408.8 67.3 407.7 68.8 406.6 70.3 405.4 71.8 404.2 73.3 402.9 74.8 401.7 76.3 400.6 77.8 399.2 79.3 398.1 80.8 396.9 82.3 395.6 83.8 394.5 85.3 393.2 86.8 392.0 88.3 390.6 89.8 389.4 91.3 388.2 92.8 387.2 94.3 386.1 95.8 384.9 97.3 383.8 98.8 382.9 100.3 381.9 101.8 380.8 103.3 379.5 104.8 378.3 106.3 377.4 107.8 376.2 109.3 375.0 110.8 373.9 112.3 372.8 113.8 371.9 115.3 370.7 116.8 369.8 118.3 368.4 119.8 367.4 121.3 366.5 122.8 365.4 124.3 364.3 125.8 363.3 127.3 362.6 128.8 361.5 130.3 360.7 131.8 360.2 133.3 359.1 134.8 357.8 136.3 356.7 137.8 355.3 139.3 354.1 140.8 352.8 142.3 351.4 143.8 350.0 145.3 349.2 146.8 348.1 148.3 346.9 149.8 346.4 151.3 345.5 152.8 344.6 154.3 343.6 155.8 342.8 157.3 342.0 158.8 341.2 160.3 340.4 161.8 340.1 163.3 339.3 164.8 339.2 166.3 338.9 167.8 337.8 169.3 336.8 170.8 335.7 172.3 334.9 173.8 334.9 175.3 334.3 176.8 333.7 178.3 333.4 179.8 331.9 181.3 331.9 182.8 331.7 184.3 332.0 185.8 331.6 187.3 332.2 188.8 332.9 190.3 332.5 191.8 332.9 193.3 332.2 194.8 331.6 196.3 330.8 197.8 330.9 199.3 330.0 200.8 329.3 202.3 329.5 203.8 328.5 205.3 329.7 206.8 329.2 208.3 329.4 209.8 329.6 211.3 331.4"/><path d="M53.8 419.0 55.3 417.6 56.8 416.4 58.3 415.1 59.8 413.6 61.3 412.3 62.8 411.1 64.3 409.8 65.8 408.6 67.3 407.5 68.8 406.2 70.3 405.1 71.8 404.0 73.3 402.9 74.8 401.6 76.3 400.4 77.8 399.2 79.3 398.2 80.8 397.1 82.3 396.0 83.8 394.9 85.3 393.7 86.8 392.3 88.3 391.4 89.8 389.9 91.3 388.8 92.8 387.7 94.3 386.6 95.8 385.5 97.3 384.3 98.8 383.2 100.3 382.0 101.8 380.8 103.3 379.8 104.8 378.5 106.3 377.5 107.8 376.2 109.3 375.1 110.8 374.1 112.3 373.2 113.8 371.9 115.3 370.8 116.8 369.7 118.3 368.5 119.8 367.6 121.3 366.9 122.8 365.9 124.3 364.9 125.8 363.7 127.3 362.8 128.8 361.8 130.3 361.1 131.8 360.0 133.3 359.1 134.8 357.9 136.3 356.6 137.8 355.3 139.3 354.1 140.8 352.6 142.3 351.3 143.8 350.6 145.3 349.0 146.8 348.2 148.3 347.4 149.8 346.3 151.3 345.1 152.8 344.6 154.3 343.6 155.8 342.8 157.3 341.9 158.8 340.7 160.3 340.3 161.8 339.8 163.3 338.7 164.8 338.4 166.3 337.2 167.8 336.0 169.3 335.9 170.8 335.1 172.3 334.6 173.8 334.9 175.3 333.8 176.8 333.6 178.3 332.9 179.8 332.6 181.3 332.1 182.8 331.2 184.3 331.0 185.8 330.2 187.3 330.1 188.8 329.4 190.3 329.3 191.8 329.5 193.3 328.6 194.8 328.8 196.3 329.7 197.8 329.9 199.3 330.9 200.8 330.0 202.3 330.7 203.8 331.1 205.3 328.2 206.8 328.6 208.3 330.0 209.8 330.2 211.3 330.4"/><path d="M53.8 418.7 55.3 417.3 56.8 415.9 58.3 414.4 59.8 413.3 61.3 412.0 62.8 410.7 64.3 409.5 65.8 408.3 67.3 407.1 68.8 405.7 70.3 404.4 71.8 403.4 73.3 402.2 74.8 401.1 76.3 399.8 77.8 398.5 79.3 397.4 80.8 396.1 82.3 395.1 83.8 393.8 85.3 392.6 86.8 391.3 88.3 390.2 89.8 389.2 91.3 388.1 92.8 386.9 94.3 385.8 95.8 384.7 97.3 383.6 98.8 382.6 100.3 381.4 101.8 380.2 103.3 379.0 104.8 377.7 106.3 376.6 107.8 375.5 109.3 374.3 110.8 373.0 112.3 371.9 113.8 370.8 115.3 369.7 116.8 368.8 118.3 367.9 119.8 366.8 121.3 365.8 122.8 364.6 124.3 363.8 125.8 362.6 127.3 361.5 128.8 360.5 130.3 359.3 131.8 358.9 133.3 357.8 134.8 356.6 136.3 355.3 137.8 354.1 139.3 352.8 140.8 351.5 142.3 350.6 143.8 349.3 145.3 348.3 146.8 347.0 148.3 346.3 149.8 345.1 151.3 343.9 152.8 343.0 154.3 342.5 155.8 341.5 157.3 340.4 158.8 339.5 160.3 338.5 161.8 337.9 163.3 336.9 164.8 336.4 166.3 336.1 167.8 335.6 169.3 335.6 170.8 335.0 172.3 335.2 173.8 335.0 175.3 334.1 176.8 333.8 178.3 332.7 179.8 331.9 181.3 331.3 182.8 330.4 184.3 330.2 185.8 329.7 187.3 330.8 188.8 331.0 190.3 330.5 191.8 329.7 193.3 329.1 194.8 328.5 196.3 327.9 197.8 328.0 199.3 326.8 200.8 326.7 202.3 327.4 203.8 327.0 205.3 326.0 206.8 325.8 208.3 327.1 209.8 326.4 211.3 328.6"/><path d="M53.8 418.0 55.3 416.7 56.8 415.6 58.3 414.2 59.8 412.7 61.3 411.3 62.8 409.9 64.3 408.6 65.8 407.3 67.3 406.1 68.8 404.9 70.3 403.7 71.8 402.5 73.3 401.1 74.8 399.9 76.3 398.5 77.8 397.4 79.3 396.2 80.8 395.0 82.3 394.1 83.8 393.1 85.3 392.0 86.8 390.9 88.3 389.6 89.8 388.5 91.3 387.5 92.8 386.3 94.3 385.1 95.8 383.8 97.3 382.7 98.8 381.6 100.3 380.3 101.8 379.3 103.3 378.1 104.8 377.2 106.3 376.1 107.8 375.1 109.3 373.7 110.8 372.9 112.3 371.7 113.8 370.5 115.3 369.6 116.8 368.4 118.3 367.1 119.8 366.1 121.3 365.0 122.8 363.9 124.3 362.7 125.8 361.4 127.3 360.6 128.8 359.4 130.3 358.3 131.8 357.3 133.3 356.0 134.8 354.9 136.3 353.5 137.8 352.5 139.3 350.9 140.8 349.8 142.3 348.8 143.8 347.5 145.3 346.3 146.8 345.4 148.3 344.2 149.8 343.0 151.3 342.0 152.8 341.8 154.3 340.5 155.8 339.4 157.3 338.3 158.8 337.2 160.3 336.0 161.8 335.0 163.3 334.3 164.8 334.0 166.3 333.8 167.8 332.5 169.3 331.3 170.8 330.6 172.3 329.5 173.8 328.5 175.3 327.9 176.8 327.2 178.3 326.3 179.8 326.0 181.3 325.2 182.8 324.7 184.3 324.6 185.8 324.8 187.3 324.7 188.8 325.2 190.3 325.0 191.8 323.7 193.3 324.8 194.8 326.9 196.3 327.1 197.8 328.0 199.3 328.4 200.8 327.3 202.3 327.3 203.8 326.0 205.3 325.0 206.8 325.3 208.3 325.0 209.8 323.9 211.3 322.0"/><path d="M53.8 419.1 55.3 417.8 56.8 416.4 58.3 415.0 59.8 413.7 61.3 412.2 62.8 411.0 64.3 409.8 65.8 408.7 67.3 407.6 68.8 406.3 70.3 405.1 71.8 403.8 73.3 402.5 74.8 401.4 76.3 400.2 77.8 398.9 79.3 397.8 80.8 396.6 82.3 395.6 83.8 394.3 85.3 393.1 86.8 391.8 88.3 390.7 89.8 389.5 91.3 388.3 92.8 387.0 94.3 385.7 95.8 384.8 97.3 383.7 98.8 382.4 100.3 381.4 101.8 380.2 103.3 379.2 104.8 378.3 106.3 377.2 107.8 376.1 109.3 374.8 110.8 373.8 112.3 373.0 113.8 372.0 115.3 370.8 116.8 369.9 118.3 368.8 119.8 367.6 121.3 366.6 122.8 365.7 124.3 364.4 125.8 363.6 127.3 362.8 128.8 361.8 130.3 360.7 131.8 359.5 133.3 358.6 134.8 357.4 136.3 356.5 137.8 355.7 139.3 354.7 140.8 353.5 142.3 351.9 143.8 351.0 145.3 349.8 146.8 348.6 148.3 347.8 149.8 347.0 151.3 345.7 152.8 344.7 154.3 343.8 155.8 342.9 157.3 341.7 158.8 341.5 160.3 340.7 161.8 340.2 163.3 339.8 164.8 339.9 166.3 339.3 167.8 338.2 169.3 337.3 170.8 337.0 172.3 337.1 173.8 335.7 175.3 336.0 176.8 335.1 178.3 334.4 179.8 333.7 181.3 333.6 182.8 333.0 184.3 332.6 185.8 331.7 187.3 332.5 188.8 332.5 190.3 332.3 191.8 333.8 193.3 334.1 194.8 335.0 196.3 334.4 197.8 334.2 199.3 333.8 200.8 334.4 202.3 334.5 203.8 332.5 205.3 333.1 206.8 332.8 208.3 333.1 209.8 334.3 211.3 333.8"/><path d="M53.8 419.1 55.3 417.8 56.8 416.4 58.3 415.0 59.8 413.7 61.3 412.5 62.8 410.9 64.3 409.7 65.8 408.5 67.3 407.2 68.8 406.1 70.3 404.9 71.8 403.7 73.3 402.7 74.8 401.5 76.3 400.1 77.8 398.8 79.3 397.6 80.8 396.3 82.3 395.4 83.8 394.2 85.3 392.9 86.8 391.5 88.3 390.4 89.8 389.0 91.3 388.0 92.8 386.6 94.3 385.7 95.8 384.6 97.3 383.6 98.8 382.4 100.3 381.3 101.8 380.3 103.3 379.1 104.8 378.1 106.3 377.2 107.8 376.0 109.3 374.9 110.8 374.0 112.3 373.1 113.8 372.3 115.3 371.1 116.8 370.0 118.3 368.9 119.8 367.8 121.3 366.9 122.8 366.0 124.3 365.0 125.8 363.8 127.3 362.9 128.8 361.9 130.3 360.9 131.8 360.1 133.3 359.0 134.8 357.8 136.3 356.8 137.8 355.5 139.3 354.4 140.8 353.3 142.3 352.4 143.8 351.5 145.3 350.1 146.8 349.4 148.3 348.2 149.8 346.8 151.3 345.8 152.8 344.7 154.3 343.6 155.8 343.1 157.3 342.4 158.8 341.8 160.3 340.5 161.8 340.4 163.3 339.7 164.8 339.4 166.3 338.7 167.8 338.1 169.3 337.7 170.8 337.0 172.3 337.0 173.8 336.0 175.3 334.3 176.8 333.6 178.3 333.2 179.8 333.1 181.3 332.7 182.8 332.6 184.3 332.5 185.8 332.1 187.3 332.2 188.8 332.4 190.3 331.6 191.8 330.2 193.3 330.5 194.8 331.1 196.3 332.1 197.8 333.0 199.3 333.1 200.8 334.1 202.3 333.2 203.8 332.6 205.3 334.0 206.8 332.5 208.3 332.5 209.8 331.3 211.3 330.0"/><path d="M53.8 419.5 55.3 418.4 56.8 417.0 58.3 415.6 59.8 414.1 61.3 412.8 62.8 411.6 64.3 410.4 65.8 409.1 67.3 408.1 68.8 406.9 70.3 405.7 71.8 404.5 73.3 403.4 74.8 402.1 76.3 401.0 77.8 399.7 79.3 398.5 80.8 397.2 82.3 395.9 83.8 394.7 85.3 393.6 86.8 392.4 88.3 391.2 89.8 390.1 91.3 389.0 92.8 388.1 94.3 387.0 95.8 386.0 97.3 384.9 98.8 383.9 100.3 382.8 101.8 381.8 103.3 380.8 104.8 379.6 106.3 378.4 107.8 377.3 109.3 376.2 110.8 375.2 112.3 374.1 113.8 373.0 115.3 372.0 116.8 371.0 118.3 369.9 119.8 368.7 121.3 367.7 122.8 366.8 124.3 365.8 125.8 365.0 127.3 363.9 128.8 362.9 130.3 362.0 131.8 361.3 133.3 360.3 134.8 359.4 136.3 358.3 137.8 357.2 139.3 356.3 140.8 355.3 142.3 354.0 143.8 352.8 145.3 351.5 146.8 350.7 148.3 349.8 149.8 349.3 151.3 348.6 152.8 347.7 154.3 346.6 155.8 345.6 157.3 345.2 158.8 344.3 160.3 343.9 161.8 343.5 163.3 343.2 164.8 342.5 166.3 341.9 167.8 340.7 169.3 340.1 170.8 339.5 172.3 339.3 173.8 337.9 175.3 337.3 176.8 338.1 178.3 337.7 179.8 336.9 181.3 336.6 182.8 336.2 184.3 335.7 185.8 335.9 187.3 335.8 188.8 336.5 190.3 338.2 191.8 338.4 193.3 338.4 194.8 339.4 196.3 337.9 197.8 339.3 199.3 338.0 200.8 337.4 202.3 337.5 203.8 336.2 205.3 335.7 206.8 336.2 208.3 336.9 209.8 335.5 211.3 332.3"/><path d="M53.8 418.9 55.3 417.7 56.8 416.4 58.3 415.2 59.8 413.8 61.3 412.4 62.8 411.4 64.3 410.1 65.8 408.8 67.3 407.4 68.8 406.1 70.3 405.1 71.8 404.0 73.3 402.7 74.8 401.3 76.3 400.1 77.8 398.9 79.3 397.8 80.8 396.6 82.3 395.6 83.8 394.3 85.3 393.0 86.8 391.8 88.3 390.7 89.8 389.5 91.3 388.4 92.8 387.3 94.3 386.3 95.8 385.1 97.3 384.0 98.8 382.9 100.3 381.9 101.8 380.7 103.3 379.6 104.8 378.4 106.3 377.1 107.8 376.4 109.3 375.2 110.8 374.1 112.3 372.9 113.8 371.8 115.3 370.7 116.8 369.7 118.3 368.7 119.8 367.6 121.3 366.4 122.8 365.4 124.3 364.5 125.8 363.7 127.3 362.7 128.8 361.6 130.3 360.5 131.8 359.8 133.3 358.7 134.8 357.5 136.3 356.3 137.8 355.1 139.3 354.0 140.8 352.9 142.3 352.1 143.8 351.0 145.3 350.0 146.8 348.5 148.3 348.1 149.8 347.2 151.3 346.4 152.8 345.3 154.3 344.4 155.8 343.4 157.3 342.4 158.8 341.5 160.3 341.0 161.8 340.6 163.3 339.8 164.8 338.9 166.3 338.5 167.8 337.7 169.3 337.3 170.8 336.3 172.3 336.4 173.8 335.5 175.3 335.2 176.8 335.5 178.3 335.1 179.8 334.4 181.3 334.3 182.8 334.7 184.3 332.7 185.8 332.1 187.3 331.8 188.8 332.3 190.3 331.0 191.8 331.7 193.3 331.8 194.8 332.2 196.3 331.4 197.8 332.6 199.3 334.9 200.8 334.7 202.3 335.0 203.8 333.6 205.3 330.5 206.8 330.7 208.3 330.7 209.8 331.8 211.3 332.1"/><path d="M53.8 418.0 55.3 416.9 56.8 415.7 58.3 414.3 59.8 413.0 61.3 411.7 62.8 410.3 64.3 408.9 65.8 407.8 67.3 406.5 68.8 405.2 70.3 404.1 71.8 403.0 73.3 401.9 74.8 400.8 76.3 399.6 77.8 398.2 79.3 396.8 80.8 395.4 82.3 394.4 83.8 393.1 85.3 391.9 86.8 390.8 88.3 389.7 89.8 388.5 91.3 387.5 92.8 386.4 94.3 385.4 95.8 384.2 97.3 383.0 98.8 381.9 100.3 380.8 101.8 379.7 103.3 378.5 104.8 377.4 106.3 376.6 107.8 375.1 109.3 374.0 110.8 372.9 112.3 371.7 113.8 370.5 115.3 369.3 116.8 368.2 118.3 367.1 119.8 366.2 121.3 365.2 122.8 364.4 124.3 363.3 125.8 362.0 127.3 361.0 128.8 359.9 130.3 359.0 131.8 357.5 133.3 356.5 134.8 355.6 136.3 354.4 137.8 352.8 139.3 351.6 140.8 350.5 142.3 349.6 143.8 348.5 145.3 347.0 146.8 346.2 148.3 345.3 149.8 344.5 151.3 343.4 152.8 342.6 154.3 341.0 155.8 339.6 157.3 339.0 158.8 338.6 160.3 337.9 161.8 337.1 163.3 336.1 164.8 335.1 166.3 334.8 167.8 333.2 169.3 332.7 170.8 332.7 172.3 331.1 173.8 329.5 175.3 328.5 176.8 328.1 178.3 328.1 179.8 327.3 181.3 327.5 182.8 326.8 184.3 325.4 185.8 325.9 187.3 325.7 188.8 325.1 190.3 323.8 191.8 322.0 193.3 321.5 194.8 322.5 196.3 322.1 197.8 321.2 199.3 320.9 200.8 321.9 202.3 322.8 203.8 324.3 205.3 323.5 206.8 325.3 208.3 327.1 209.8 327.3 211.3 328.3"/><path d="M53.8 419.5 55.3 418.1 56.8 416.9 58.3 415.6 59.8 414.3 61.3 413.3 62.8 411.9 64.3 410.6 65.8 409.5 67.3 408.2 68.8 406.8 70.3 405.6 71.8 404.5 73.3 403.1 74.8 402.1 76.3 401.1 77.8 399.7 79.3 398.5 80.8 397.4 82.3 396.2 83.8 395.1 85.3 394.0 86.8 392.7 88.3 391.5 89.8 390.3 91.3 389.2 92.8 388.3 94.3 387.2 95.8 385.9 97.3 384.8 98.8 383.9 100.3 382.9 101.8 382.0 103.3 380.8 104.8 379.7 106.3 378.6 107.8 377.3 109.3 376.1 110.8 375.0 112.3 373.7 113.8 372.7 115.3 371.6 116.8 370.5 118.3 369.6 119.8 368.4 121.3 367.4 122.8 366.5 124.3 365.6 125.8 364.6 127.3 363.6 128.8 362.3 130.3 361.0 131.8 360.1 133.3 359.1 134.8 357.9 136.3 356.7 137.8 355.6 139.3 354.9 140.8 353.7 142.3 352.8 143.8 351.9 145.3 350.8 146.8 350.0 148.3 348.9 149.8 347.9 151.3 346.7 152.8 345.8 154.3 345.3 155.8 344.2 157.3 343.5 158.8 342.7 160.3 342.0 161.8 341.1 163.3 340.6 164.8 339.5 166.3 339.0 167.8 339.2 169.3 338.1 170.8 338.0 172.3 337.2 173.8 336.4 175.3 337.0 176.8 336.9 178.3 336.7 179.8 337.2 181.3 337.0 182.8 336.5 184.3 334.5 185.8 334.8 187.3 335.8 188.8 335.2 190.3 334.2 191.8 332.9 193.3 333.6 194.8 331.8 196.3 332.6 197.8 333.6 199.3 333.4 200.8 332.7 202.3 332.8 203.8 334.8 205.3 333.8 206.8 333.2 208.3 334.3 209.8 333.9 211.3 335.9"/></g>
<path d="M147.9 330.5H212" stroke="#111" stroke-width="0.9" stroke-dasharray="3.1 5.9"/>
<path d="M53.8 418.7 55.3 417.38 56.8 416.06 58.3 414.72 59.8 413.39 61.3 412.07 62.8 410.77 64.3 409.5 65.8 408.25 67.3 407.03 68.8 405.8 70.3 404.59 71.8 403.38 73.3 402.17 74.8 400.97 76.3 399.78 77.8 398.59 79.3 397.4 80.8 396.22 82.3 395.04 83.8 393.87 85.3 392.7 86.8 391.53 88.3 390.37 89.8 389.21 91.3 388.05 92.8 386.9 94.3 385.75 95.8 384.61 97.3 383.46 98.8 382.33 100.3 381.2 101.8 380.07 103.3 378.95 104.8 377.83 106.3 376.72 107.8 375.61 109.3 374.51 110.8 373.41 112.3 372.32 113.8 371.24 115.3 370.17 116.8 369.11 118.3 368.05 119.8 367 121.3 365.95 122.8 364.91 124.3 363.86 125.8 362.82 127.3 361.78 128.8 360.74 130.3 359.7 131.8 358.75 133.3 357.7 134.8 356.55 136.3 355.37 137.8 354.17 139.3 352.96 140.8 351.76 142.3 350.57 143.8 349.4 145.3 348.26 146.8 347.17 148.3 346.13 149.8 345.15 151.3 344.2 152.8 343.27 154.3 342.36 155.8 341.48 157.3 340.63 158.8 339.79 160.3 338.98 161.8 338.19 163.3 337.43 164.8 336.69 166.3 335.97 167.8 335.28 169.3 334.61 170.8 333.97 172.3 333.36 173.8 332.78 175.3 332.23 176.8 331.71 178.3 331.21 179.8 330.75 181.3 330.32 182.8 329.92 184.3 329.55 185.8 329.22 187.3 328.95 188.8 328.76 190.3 328.63 191.8 328.55 193.3 328.5 194.8 328.48 196.3 328.45 197.8 328.43 199.3 328.38 200.8 328.35 202.3 328.34 203.8 328.33 205.3 328.34 206.8 328.36 208.3 328.37 209.8 328.39 211.3 328.4" fill="none" stroke="#0000ff" stroke-width="1.3" stroke-linejoin="round" />
<path d="M43.1 428.8 44.6 427.28 46.1 425.77 47.6 424.26 49.1 422.74 50.6 421.22 52.1 419.69 53.6 418.13 55.1 416.54 56.6 414.92 58.1 413.28 59.6 411.62 61.1 409.96 62.6 408.31 64.1 406.69 65.6 405.1 67.1 403.52 68.6 401.95 70.1 400.4 71.6 398.86 73.1 397.36 74.6 395.89 76.1 394.46 77.6 393.07 79.1 391.71 80.6 390.36 82.1 389.04 83.6 387.73 85.1 386.44 86.6 385.16 88.1 383.9 89.6 382.67 91.1 381.44 92.6 380.24 94.1 379.05 95.6 377.88 97.1 376.72 98.6 375.58 100.1 374.44 101.6 373.32 103.1 372.22 104.6 371.12 106.1 370.04 107.6 368.97 109.1 367.91 110.6 366.86 112.1 365.83 113.6 364.84 115.1 363.86 116.6 362.9 118.1 361.96 119.6 361.02 121.1 360.08 122.6 359.14 124.1 358.19 125.6 357.23 127.1 356.19 128.6 355.07 130.1 354.15 131.6 353.42 133.1 352.7 134.6 351.99 136.1 351.29 137.6 350.6 139.1 349.92 140.6 349.25 142.1 348.59 143.6 347.94 145.1 347.29 146.6 346.65 148.1 346.02 149.6 345.39 151.1 344.77 152.6 344.15 154.1 343.53 155.6 342.92 157.1 342.32 158.6 341.73 160.1 341.15 161.6 340.59 163.1 340.04 164.6 339.5 166.1 338.99 167.6 338.49 169.1 338.02 170.6 337.55 172.1 337.09 173.6 336.65 175.1 336.23 176.6 335.83 178.1 335.45 179.6 335.1 181.1 334.79 182.6 334.51 184.1 334.27 185.6 334.08 187.1 333.92 188.6 333.78 190.1 333.67 191.6 333.57 193.1 333.5 194.6 333.44 196.1 333.39 197.6 333.35 199.1 333.32 200.6 333.3 202.1 333.28 203.6 333.27 205.1 333.25 206.6 333.23 208.1 333.21 209.6 333.18 211.1 333.13" fill="none" stroke="#00ff00" stroke-width="1.3" stroke-linejoin="round" />
<rect x="43.3" y="315.3" width="171.6" height="116.6" fill="none" stroke="#686868" stroke-width="1.25"/>
<path d="M43.2 431.9v-1.6M43.2 315.3v1.6" stroke="#686868" stroke-width="0.8"/>
<path d="M113.4 431.9v-1.6M113.4 315.3v1.6" stroke="#686868" stroke-width="0.8"/>
<path d="M183.6 431.9v-1.6M183.6 315.3v1.6" stroke="#686868" stroke-width="0.8"/>
<path d="M43.3 432h1.6M214.9 432h-1.6" stroke="#686868" stroke-width="0.8"/>
<path d="M43.3 377.5h1.6M214.9 377.5h-1.6" stroke="#686868" stroke-width="0.8"/>
<path d="M43.3 323h1.6M214.9 323h-1.6" stroke="#686868" stroke-width="0.8"/>
<text transform="translate(43.5 451.3) scale(1 1.1)" text-anchor="middle" font-size="13.2">10<tspan font-size="10" dy="-5.8" dx="-0.3">0</tspan></text>
<text transform="translate(113.7 451.3) scale(1 1.1)" text-anchor="middle" font-size="13.2">10<tspan font-size="10" dy="-5.8" dx="-0.3">2</tspan></text>
<text transform="translate(183.9 451.3) scale(1 1.1)" text-anchor="middle" font-size="13.2">10<tspan font-size="10" dy="-5.8" dx="-0.3">4</tspan></text>
<text transform="translate(34.8 438.8) scale(1 1.1)" text-anchor="end" font-size="13.2">10<tspan font-size="10" dy="-5.8" dx="-0.3">0</tspan></text>
<text transform="translate(34.8 384.3) scale(1 1.1)" text-anchor="end" font-size="13.2">10<tspan font-size="10" dy="-5.8" dx="-0.3">2</tspan></text>
<text transform="translate(34.8 329.8) scale(1 1.1)" text-anchor="end" font-size="13.2">10<tspan font-size="10" dy="-5.8" dx="-0.3">4</tspan></text>
<text x="54" y="334" text-anchor="start" font-size="13" >R<tspan font-size="10" dy="3.8">c</tspan><tspan dy="-3.8"> = 1</tspan></text>
<text x="129.2" y="463" text-anchor="middle" font-size="13.4" >&#916; or t</text>
<g fill="none" stroke="#ff0000" stroke-width="0.5" stroke-opacity="0.42"><path d="M280.6 416.5 282.1 414.4 283.6 412.4 285.1 410.6 286.6 408.9 288.1 407.0 289.6 405.5 291.1 403.9 292.6 402.5 294.1 401.1 295.6 399.7 297.1 398.4 298.6 396.9 300.1 395.7 301.6 394.6 303.1 393.5 304.6 392.5 306.1 391.5 307.6 390.5 309.1 389.5 310.6 388.5 312.1 387.7 313.6 386.9 315.1 386.1 316.6 385.3 318.1 384.4 319.6 383.8 321.1 383.1 322.6 382.5 324.1 381.7 325.6 381.2 327.1 380.3 328.6 379.6 330.1 378.9 331.6 378.2 333.1 377.6 334.6 377.1 336.1 376.7 337.6 376.1 339.1 375.8 340.6 375.4 342.1 374.9 343.6 374.5 345.1 374.1 346.6 373.7 348.1 373.4 349.6 373.1 351.1 372.8 352.6 372.6 354.1 372.2 355.6 371.8 357.1 371.7 358.6 371.5 360.1 371.2 361.6 371.0 363.1 370.8 364.6 370.5 366.1 370.2 367.6 370.1 369.1 370.0 370.6 369.8 372.1 369.5 373.6 369.5 375.1 369.2 376.6 369.1 378.1 369.0 379.6 368.8 381.1 368.7 382.6 368.4 384.1 368.3 385.6 368.2 387.1 368.2 388.6 368.1 390.1 367.7 391.6 367.7 393.1 367.5 394.6 367.4 396.1 367.1 397.6 367.3 399.1 367.0 400.6 366.9 402.1 366.7 403.6 366.6 405.1 366.7 406.6 366.5 408.1 366.6 409.6 366.5 411.1 366.5 412.6 366.6 414.1 366.4 415.6 366.3 417.1 366.3 418.6 366.2 420.1 366.0 421.6 365.9 423.1 365.9 424.6 365.7 426.1 365.7 427.6 365.7 429.1 365.7 430.6 365.8 432.1 365.6 433.6 365.7 435.1 365.6 436.6 365.7 438.1 365.6 439.6 365.9"/><path d="M280.6 415.0 282.1 413.2 283.6 411.5 285.1 410.0 286.6 408.5 288.1 407.0 289.6 405.6 291.1 404.3 292.6 403.1 294.1 402.0 295.6 400.8 297.1 399.6 298.6 398.5 300.1 397.3 301.6 396.2 303.1 395.0 304.6 393.9 306.1 392.9 307.6 392.0 309.1 391.2 310.6 390.3 312.1 389.5 313.6 388.9 315.1 388.3 316.6 387.6 318.1 387.0 319.6 386.3 321.1 385.8 322.6 385.0 324.1 384.5 325.6 383.7 327.1 383.4 328.6 383.0 330.1 382.3 331.6 381.8 333.1 381.2 334.6 380.6 336.1 380.2 337.6 379.7 339.1 379.5 340.6 379.1 342.1 378.7 343.6 378.4 345.1 378.1 346.6 377.9 348.1 377.7 349.6 377.3 351.1 376.9 352.6 376.7 354.1 376.3 355.6 376.2 357.1 375.9 358.6 375.7 360.1 375.5 361.6 375.3 363.1 375.0 364.6 375.0 366.1 374.8 367.6 374.5 369.1 374.2 370.6 374.0 372.1 373.8 373.6 373.7 375.1 373.7 376.6 373.6 378.1 373.4 379.6 373.5 381.1 373.3 382.6 373.2 384.1 373.1 385.6 372.9 387.1 372.8 388.6 372.6 390.1 372.3 391.6 372.4 393.1 372.2 394.6 372.1 396.1 372.1 397.6 372.0 399.1 371.8 400.6 371.7 402.1 371.5 403.6 371.6 405.1 371.5 406.6 371.4 408.1 371.5 409.6 371.2 411.1 371.1 412.6 371.1 414.1 371.2 415.6 371.2 417.1 371.1 418.6 371.2 420.1 371.2 421.6 371.3 423.1 371.0 424.6 371.0 426.1 370.8 427.6 370.7 429.1 370.7 430.6 370.8 432.1 370.7 433.6 370.7 435.1 370.8 436.6 370.8 438.1 370.8 439.6 370.8"/><path d="M280.6 415.9 282.1 414.3 283.6 412.9 285.1 411.6 286.6 410.4 288.1 409.1 289.6 407.7 291.1 406.6 292.6 405.5 294.1 404.2 295.6 403.2 297.1 402.3 298.6 401.4 300.1 400.6 301.6 399.6 303.1 398.8 304.6 398.0 306.1 397.1 307.6 396.2 309.1 395.4 310.6 394.8 312.1 394.2 313.6 393.6 315.1 393.1 316.6 392.5 318.1 391.9 319.6 391.3 321.1 390.8 322.6 390.1 324.1 389.7 325.6 389.1 327.1 388.6 328.6 388.0 330.1 387.7 331.6 387.3 333.1 387.0 334.6 386.6 336.1 386.3 337.6 386.0 339.1 385.7 340.6 385.5 342.1 385.1 343.6 384.8 345.1 384.5 346.6 384.2 348.1 383.9 349.6 383.7 351.1 383.4 352.6 383.2 354.1 382.9 355.6 382.7 357.1 382.4 358.6 382.1 360.1 382.2 361.6 382.0 363.1 382.0 364.6 381.9 366.1 381.7 367.6 381.4 369.1 381.3 370.6 381.3 372.1 381.0 373.6 381.0 375.1 380.9 376.6 380.7 378.1 380.6 379.6 380.6 381.1 380.3 382.6 380.0 384.1 379.9 385.6 379.7 387.1 379.5 388.6 379.6 390.1 379.5 391.6 379.4 393.1 379.3 394.6 379.3 396.1 379.2 397.6 379.1 399.1 379.0 400.6 379.0 402.1 378.6 403.6 378.6 405.1 378.5 406.6 378.5 408.1 378.5 409.6 378.4 411.1 378.3 412.6 378.4 414.1 378.6 415.6 378.5 417.1 378.5 418.6 378.4 420.1 378.4 421.6 378.5 423.1 378.3 424.6 378.4 426.1 378.4 427.6 378.4 429.1 378.4 430.6 378.3 432.1 378.2 433.6 378.2 435.1 378.1 436.6 378.3 438.1 378.2 439.6 378.1"/><path d="M280.6 417.4 282.1 416.3 283.6 414.9 285.1 413.9 286.6 412.9 288.1 411.8 289.6 410.7 291.1 409.7 292.6 409.0 294.1 408.1 295.6 407.0 297.1 406.3 298.6 405.6 300.1 404.6 301.6 403.5 303.1 403.1 304.6 402.4 306.1 401.6 307.6 401.1 309.1 400.6 310.6 399.7 312.1 399.3 313.6 398.9 315.1 398.3 316.6 397.7 318.1 397.3 319.6 396.7 321.1 396.3 322.6 395.9 324.1 395.4 325.6 395.1 327.1 394.8 328.6 394.5 330.1 394.2 331.6 394.0 333.1 393.5 334.6 393.2 336.1 392.9 337.6 392.7 339.1 392.1 340.6 391.8 342.1 391.5 343.6 391.3 345.1 391.3 346.6 391.1 348.1 390.8 349.6 390.6 351.1 390.5 352.6 390.2 354.1 390.2 355.6 389.8 357.1 389.8 358.6 389.6 360.1 389.5 361.6 389.5 363.1 389.3 364.6 389.1 366.1 388.9 367.6 388.7 369.1 388.4 370.6 388.2 372.1 388.2 373.6 387.8 375.1 387.5 376.6 387.5 378.1 387.5 379.6 387.4 381.1 387.4 382.6 387.3 384.1 387.2 385.6 386.9 387.1 386.9 388.6 387.0 390.1 386.9 391.6 386.7 393.1 386.7 394.6 386.5 396.1 386.3 397.6 386.4 399.1 386.4 400.6 386.4 402.1 386.4 403.6 386.3 405.1 386.3 406.6 386.2 408.1 386.2 409.6 386.0 411.1 385.8 412.6 385.7 414.1 385.8 415.6 385.7 417.1 385.4 418.6 385.7 420.1 385.6 421.6 385.6 423.1 385.6 424.6 385.6 426.1 385.6 427.6 385.4 429.1 385.4 430.6 385.3 432.1 385.3 433.6 385.4 435.1 385.3 436.6 385.1 438.1 385.1 439.6 385.1"/><path d="M280.6 419.1 282.1 417.6 283.6 416.3 285.1 415.1 286.6 413.9 288.1 413.0 289.6 412.1 291.1 411.0 292.6 410.1 294.1 409.2 295.6 408.2 297.1 407.3 298.6 406.8 300.1 405.9 301.6 405.2 303.1 404.5 304.6 403.8 306.1 403.2 307.6 402.9 309.1 402.2 310.6 401.8 312.1 401.4 313.6 401.0 315.1 400.8 316.6 400.4 318.1 400.0 319.6 399.7 321.1 399.5 322.6 399.2 324.1 398.7 325.6 398.4 327.1 398.3 328.6 398.1 330.1 398.0 331.6 397.8 333.1 397.5 334.6 397.2 336.1 397.0 337.6 397.1 339.1 396.9 340.6 396.8 342.1 396.6 343.6 396.4 345.1 396.3 346.6 396.2 348.1 396.0 349.6 395.7 351.1 395.5 352.6 395.4 354.1 395.2 355.6 395.0 357.1 395.1 358.6 395.1 360.1 395.1 361.6 395.1 363.1 395.2 364.6 395.1 366.1 394.8 367.6 394.8 369.1 394.6 370.6 394.6 372.1 394.6 373.6 394.7 375.1 394.7 376.6 394.6 378.1 394.7 379.6 394.7 381.1 394.7 382.6 394.7 384.1 394.6 385.6 394.4 387.1 394.4 388.6 394.4 390.1 394.2 391.6 394.2 393.1 394.1 394.6 394.1 396.1 394.2 397.6 394.1 399.1 394.1 400.6 394.2 402.1 394.0 403.6 393.9 405.1 393.8 406.6 393.8 408.1 393.6 409.6 393.8 411.1 393.8 412.6 393.8 414.1 393.9 415.6 393.9 417.1 393.8 418.6 394.0 420.1 394.0 421.6 394.1 423.1 394.0 424.6 393.8 426.1 393.9 427.6 394.1 429.1 394.0 430.6 394.1 432.1 393.9 433.6 393.8 435.1 393.8 436.6 393.8 438.1 393.9 439.6 393.9"/><path d="M280.6 417.5 282.1 416.1 283.6 414.8 285.1 413.6 286.6 412.4 288.1 411.1 289.6 410.1 291.1 409.0 292.6 408.1 294.1 407.2 295.6 406.6 297.1 405.7 298.6 405.0 300.1 404.2 301.6 403.6 303.1 403.0 304.6 402.4 306.1 401.8 307.6 401.1 309.1 400.6 310.6 400.2 312.1 399.8 313.6 399.6 315.1 399.0 316.6 398.5 318.1 398.2 319.6 397.8 321.1 397.4 322.6 397.0 324.1 396.7 325.6 396.6 327.1 396.3 328.6 395.9 330.1 395.7 331.6 395.2 333.1 394.9 334.6 394.7 336.1 394.6 337.6 394.2 339.1 394.0 340.6 393.8 342.1 393.8 343.6 393.8 345.1 393.6 346.6 393.6 348.1 393.4 349.6 393.3 351.1 393.2 352.6 393.3 354.1 393.1 355.6 392.8 357.1 392.9 358.6 392.7 360.1 392.6 361.6 392.5 363.1 392.6 364.6 392.6 366.1 392.7 367.6 392.6 369.1 392.4 370.6 392.4 372.1 392.4 373.6 392.3 375.1 392.1 376.6 392.4 378.1 392.6 379.6 392.5 381.1 392.5 382.6 392.6 384.1 392.5 385.6 392.3 387.1 392.1 388.6 392.2 390.1 392.3 391.6 392.3 393.1 392.4 394.6 392.3 396.1 392.3 397.6 392.4 399.1 392.4 400.6 392.5 402.1 392.5 403.6 392.4 405.1 392.4 406.6 392.3 408.1 392.1 409.6 392.2 411.1 392.0 412.6 392.0 414.1 392.0 415.6 392.0 417.1 392.0 418.6 391.8 420.1 391.9 421.6 391.9 423.1 391.9 424.6 391.7 426.1 391.6 427.6 391.6 429.1 391.6 430.6 391.7 432.1 391.6 433.6 391.7 435.1 391.6 436.6 391.4 438.1 391.5 439.6 391.5"/><path d="M280.6 416.5 282.1 415.5 283.6 414.6 285.1 413.8 286.6 413.2 288.1 412.7 289.6 411.9 291.1 411.3 292.6 410.4 294.1 409.9 295.6 409.3 297.1 408.7 298.6 408.1 300.1 407.7 301.6 407.4 303.1 407.0 304.6 406.4 306.1 406.0 307.6 405.4 309.1 404.8 310.6 404.5 312.1 404.1 313.6 403.8 315.1 403.6 316.6 403.3 318.1 402.7 319.6 402.3 321.1 401.9 322.6 401.6 324.1 401.3 325.6 401.2 327.1 400.9 328.6 400.7 330.1 400.5 331.6 400.1 333.1 399.9 334.6 399.7 336.1 399.5 337.6 399.5 339.1 399.3 340.6 399.2 342.1 399.2 343.6 399.0 345.1 398.9 346.6 398.8 348.1 398.4 349.6 398.4 351.1 398.1 352.6 398.0 354.1 398.0 355.6 397.9 357.1 397.8 358.6 397.5 360.1 397.5 361.6 397.2 363.1 397.1 364.6 396.8 366.1 396.7 367.6 396.6 369.1 396.8 370.6 396.5 372.1 396.5 373.6 396.5 375.1 396.4 376.6 396.4 378.1 396.3 379.6 396.3 381.1 396.2 382.6 396.2 384.1 396.0 385.6 396.0 387.1 396.0 388.6 395.8 390.1 395.9 391.6 396.1 393.1 396.2 394.6 396.0 396.1 396.0 397.6 396.0 399.1 395.9 400.6 395.9 402.1 395.9 403.6 395.9 405.1 395.8 406.6 395.6 408.1 395.7 409.6 395.5 411.1 395.5 412.6 395.3 414.1 395.4 415.6 395.3 417.1 395.2 418.6 395.2 420.1 395.1 421.6 394.9 423.1 394.9 424.6 394.8 426.1 394.9 427.6 395.0 429.1 395.0 430.6 395.2 432.1 395.2 433.6 395.1 435.1 394.9 436.6 394.9 438.1 394.9 439.6 394.9"/><path d="M280.6 417.9 282.1 416.6 283.6 415.5 285.1 414.5 286.6 413.5 288.1 412.5 289.6 411.3 291.1 410.4 292.6 409.6 294.1 408.8 295.6 408.1 297.1 407.5 298.6 406.8 300.1 406.3 301.6 405.9 303.1 405.4 304.6 404.9 306.1 404.3 307.6 403.9 309.1 403.4 310.6 403.1 312.1 402.7 313.6 402.3 315.1 402.0 316.6 401.6 318.1 401.4 319.6 401.1 321.1 400.8 322.6 400.6 324.1 400.5 325.6 400.4 327.1 400.3 328.6 400.1 330.1 400.1 331.6 399.9 333.1 399.6 334.6 399.5 336.1 399.2 337.6 399.0 339.1 399.1 340.6 399.0 342.1 398.7 343.6 398.6 345.1 398.5 346.6 398.3 348.1 398.3 349.6 398.0 351.1 397.8 352.6 397.8 354.1 397.7 355.6 397.6 357.1 397.5 358.6 397.5 360.1 397.5 361.6 397.4 363.1 397.5 364.6 397.7 366.1 397.7 367.6 397.7 369.1 397.7 370.6 397.8 372.1 397.8 373.6 397.8 375.1 397.7 376.6 397.7 378.1 397.7 379.6 397.7 381.1 397.6 382.6 397.6 384.1 397.6 385.6 397.5 387.1 397.3 388.6 397.5 390.1 397.6 391.6 397.5 393.1 397.6 394.6 397.3 396.1 397.4 397.6 397.4 399.1 397.4 400.6 397.4 402.1 397.4 403.6 397.4 405.1 397.3 406.6 397.2 408.1 397.3 409.6 397.4 411.1 397.2 412.6 397.1 414.1 397.1 415.6 397.0 417.1 397.0 418.6 396.9 420.1 397.0 421.6 396.8 423.1 396.9 424.6 396.9 426.1 397.0 427.6 396.9 429.1 396.8 430.6 396.9 432.1 397.0 433.6 397.0 435.1 397.0 436.6 397.1 438.1 397.2 439.6 397.3"/><path d="M280.6 423.2 282.1 421.5 283.6 420.0 285.1 418.5 286.6 417.1 288.1 415.8 289.6 414.7 291.1 413.3 292.6 412.2 294.1 411.3 295.6 410.2 297.1 409.3 298.6 408.4 300.1 407.5 301.6 406.8 303.1 406.0 304.6 405.3 306.1 404.7 307.6 404.0 309.1 403.5 310.6 402.7 312.1 402.3 313.6 401.8 315.1 401.5 316.6 400.8 318.1 400.5 319.6 400.3 321.1 399.9 322.6 399.4 324.1 399.0 325.6 398.8 327.1 398.3 328.6 398.1 330.1 397.8 331.6 397.6 333.1 397.3 334.6 397.0 336.1 396.7 337.6 396.4 339.1 396.2 340.6 396.1 342.1 396.0 343.6 395.7 345.1 395.6 346.6 395.6 348.1 395.4 349.6 395.2 351.1 395.2 352.6 395.0 354.1 394.9 355.6 394.9 357.1 394.7 358.6 394.6 360.1 394.6 361.6 394.5 363.1 394.3 364.6 394.3 366.1 394.2 367.6 394.1 369.1 394.1 370.6 394.4 372.1 394.3 373.6 394.2 375.1 394.1 376.6 394.0 378.1 394.0 379.6 394.0 381.1 394.0 382.6 394.0 384.1 393.9 385.6 393.9 387.1 394.1 388.6 394.3 390.1 394.1 391.6 393.8 393.1 393.9 394.6 393.6 396.1 393.6 397.6 393.6 399.1 393.6 400.6 393.6 402.1 393.6 403.6 393.7 405.1 393.7 406.6 393.6 408.1 393.5 409.6 393.7 411.1 393.7 412.6 393.5 414.1 393.5 415.6 393.2 417.1 393.1 418.6 393.1 420.1 393.0 421.6 393.0 423.1 393.1 424.6 393.1 426.1 393.0 427.6 393.1 429.1 393.1 430.6 393.2 432.1 393.0 433.6 393.2 435.1 393.0 436.6 393.0 438.1 393.0 439.6 392.9"/><path d="M280.6 420.6 282.1 419.2 283.6 418.1 285.1 416.9 286.6 415.8 288.1 414.8 289.6 413.8 291.1 412.9 292.6 412.2 294.1 411.3 295.6 410.6 297.1 409.9 298.6 409.2 300.1 408.4 301.6 407.8 303.1 407.4 304.6 406.9 306.1 406.6 307.6 406.1 309.1 405.7 310.6 405.2 312.1 404.5 313.6 403.9 315.1 403.5 316.6 403.1 318.1 402.6 319.6 402.4 321.1 402.1 322.6 401.7 324.1 401.5 325.6 401.4 327.1 401.2 328.6 400.9 330.1 400.8 331.6 400.4 333.1 400.1 334.6 399.9 336.1 399.9 337.6 399.6 339.1 399.3 340.6 399.2 342.1 399.1 343.6 398.9 345.1 398.8 346.6 398.6 348.1 398.5 349.6 398.3 351.1 398.3 352.6 398.2 354.1 398.2 355.6 398.1 357.1 398.0 358.6 397.9 360.1 397.8 361.6 397.8 363.1 397.8 364.6 397.8 366.1 397.8 367.6 397.8 369.1 397.7 370.6 397.5 372.1 397.6 373.6 397.5 375.1 397.5 376.6 397.4 378.1 397.5 379.6 397.5 381.1 397.4 382.6 397.3 384.1 397.4 385.6 397.3 387.1 397.3 388.6 397.1 390.1 397.0 391.6 396.8 393.1 396.8 394.6 396.9 396.1 396.6 397.6 396.6 399.1 396.6 400.6 396.4 402.1 396.5 403.6 396.4 405.1 396.6 406.6 396.5 408.1 396.6 409.6 396.5 411.1 396.4 412.6 396.6 414.1 396.5 415.6 396.5 417.1 396.4 418.6 396.4 420.1 396.6 421.6 396.6 423.1 396.6 424.6 396.6 426.1 396.5 427.6 396.4 429.1 396.4 430.6 396.4 432.1 396.2 433.6 396.0 435.1 396.1 436.6 396.1 438.1 396.2 439.6 396.3"/><path d="M280.6 416.8 282.1 415.0 283.6 413.1 285.1 411.4 286.6 409.9 288.1 408.5 289.6 407.2 291.1 405.9 292.6 404.8 294.1 403.6 295.6 402.4 297.1 401.6 298.6 400.6 300.1 399.9 301.6 399.2 303.1 398.7 304.6 397.9 306.1 397.3 307.6 396.7 309.1 396.1 310.6 395.5 312.1 395.0 313.6 394.4 315.1 394.1 316.6 393.6 318.1 393.4 319.6 393.1 321.1 392.6 322.6 392.3 324.1 392.0 325.6 391.8 327.1 391.7 328.6 391.4 330.1 391.2 331.6 391.0 333.1 390.9 334.6 391.0 336.1 390.8 337.6 390.7 339.1 390.5 340.6 390.3 342.1 390.1 343.6 389.8 345.1 389.8 346.6 389.6 348.1 389.5 349.6 389.5 351.1 389.4 352.6 389.3 354.1 389.3 355.6 389.2 357.1 389.1 358.6 389.2 360.1 389.2 361.6 389.1 363.1 389.0 364.6 389.0 366.1 388.9 367.6 388.7 369.1 388.8 370.6 388.8 372.1 388.8 373.6 388.8 375.1 388.7 376.6 388.6 378.1 388.4 379.6 388.5 381.1 388.2 382.6 388.2 384.1 388.1 385.6 388.3 387.1 388.5 388.6 388.5 390.1 388.5 391.6 388.5 393.1 388.4 394.6 388.7 396.1 388.6 397.6 388.4 399.1 388.4 400.6 388.3 402.1 388.3 403.6 388.4 405.1 388.5 406.6 388.4 408.1 388.5 409.6 388.7 411.1 388.6 412.6 388.5 414.1 388.6 415.6 388.6 417.1 388.4 418.6 388.4 420.1 388.2 421.6 388.5 423.1 388.3 424.6 388.3 426.1 388.3 427.6 388.2 429.1 388.1 430.6 388.2 432.1 388.2 433.6 388.5 435.1 388.4 436.6 388.3 438.1 388.2 439.6 388.0"/><path d="M280.6 418.8 282.1 417.5 283.6 416.3 285.1 415.1 286.6 414.0 288.1 412.9 289.6 411.9 291.1 411.1 292.6 410.2 294.1 409.4 295.6 408.8 297.1 408.0 298.6 407.3 300.1 406.7 301.6 406.3 303.1 405.6 304.6 405.1 306.1 404.7 307.6 404.5 309.1 404.1 310.6 403.8 312.1 403.3 313.6 403.0 315.1 402.7 316.6 402.4 318.1 401.9 319.6 401.6 321.1 401.4 322.6 401.3 324.1 401.1 325.6 400.8 327.1 400.7 328.6 400.6 330.1 400.3 331.6 399.9 333.1 399.7 334.6 399.7 336.1 399.7 337.6 399.6 339.1 399.3 340.6 399.2 342.1 399.0 343.6 399.0 345.1 398.8 346.6 398.9 348.1 398.7 349.6 398.7 351.1 398.5 352.6 398.5 354.1 398.4 355.6 398.2 357.1 397.9 358.6 397.9 360.1 397.8 361.6 397.7 363.1 397.7 364.6 397.7 366.1 397.7 367.6 397.6 369.1 397.5 370.6 397.5 372.1 397.6 373.6 397.7 375.1 397.6 376.6 397.5 378.1 397.2 379.6 397.5 381.1 397.5 382.6 397.5 384.1 397.5 385.6 397.4 387.1 397.2 388.6 397.1 390.1 397.0 391.6 397.0 393.1 396.9 394.6 397.0 396.1 397.0 397.6 397.1 399.1 397.1 400.6 397.3 402.1 397.2 403.6 397.1 405.1 397.2 406.6 397.2 408.1 397.3 409.6 397.2 411.1 397.2 412.6 397.4 414.1 397.2 415.6 397.3 417.1 397.3 418.6 397.3 420.1 397.4 421.6 397.3 423.1 397.4 424.6 397.3 426.1 397.4 427.6 397.2 429.1 397.2 430.6 397.1 432.1 397.0 433.6 397.1 435.1 397.1 436.6 397.1 438.1 396.9 439.6 396.8"/><path d="M280.6 415.9 282.1 414.5 283.6 413.2 285.1 412.1 286.6 411.0 288.1 409.8 289.6 408.9 291.1 407.9 292.6 407.0 294.1 406.0 295.6 405.1 297.1 404.2 298.6 403.6 300.1 403.0 301.6 402.3 303.1 401.7 304.6 401.5 306.1 401.0 307.6 400.6 309.1 400.0 310.6 399.4 312.1 399.1 313.6 398.6 315.1 398.1 316.6 397.7 318.1 397.4 319.6 397.0 321.1 396.6 322.6 396.2 324.1 395.9 325.6 395.7 327.1 395.4 328.6 395.4 330.1 395.1 331.6 394.9 333.1 394.5 334.6 394.3 336.1 394.2 337.6 394.1 339.1 394.1 340.6 394.0 342.1 393.7 343.6 393.4 345.1 393.2 346.6 393.0 348.1 393.0 349.6 393.0 351.1 392.8 352.6 392.8 354.1 392.7 355.6 392.7 357.1 392.7 358.6 392.6 360.1 392.7 361.6 392.6 363.1 392.6 364.6 392.4 366.1 392.2 367.6 392.1 369.1 392.2 370.6 392.2 372.1 392.2 373.6 392.1 375.1 392.2 376.6 392.3 378.1 392.3 379.6 392.1 381.1 392.0 382.6 392.0 384.1 392.0 385.6 392.0 387.1 391.9 388.6 391.7 390.1 391.7 391.6 391.8 393.1 391.6 394.6 391.5 396.1 391.3 397.6 391.2 399.1 391.3 400.6 391.5 402.1 391.4 403.6 391.5 405.1 391.5 406.6 391.6 408.1 391.5 409.6 391.5 411.1 391.6 412.6 391.6 414.1 391.5 415.6 391.5 417.1 391.4 418.6 391.4 420.1 391.4 421.6 391.6 423.1 391.6 424.6 391.7 426.1 391.7 427.6 391.8 429.1 391.7 430.6 391.6 432.1 391.4 433.6 391.5 435.1 391.5 436.6 391.6 438.1 391.6 439.6 391.5"/><path d="M280.6 419.5 282.1 417.4 283.6 415.6 285.1 413.8 286.6 412.2 288.1 410.5 289.6 409.2 291.1 407.8 292.6 406.5 294.1 405.2 295.6 404.2 297.1 403.2 298.6 402.3 300.1 401.4 301.6 400.6 303.1 399.8 304.6 399.1 306.1 398.4 307.6 397.9 309.1 397.5 310.6 396.8 312.1 396.3 313.6 395.7 315.1 395.4 316.6 394.7 318.1 394.6 319.6 394.3 321.1 394.2 322.6 393.9 324.1 393.5 325.6 393.2 327.1 393.1 328.6 392.9 330.1 392.6 331.6 392.3 333.1 392.3 334.6 392.2 336.1 391.9 337.6 391.7 339.1 391.6 340.6 391.4 342.1 391.2 343.6 391.2 345.1 391.0 346.6 390.9 348.1 390.9 349.6 390.8 351.1 390.8 352.6 390.6 354.1 390.4 355.6 390.2 357.1 390.0 358.6 390.0 360.1 389.8 361.6 389.7 363.1 389.5 364.6 389.5 366.1 389.5 367.6 389.6 369.1 389.7 370.6 389.7 372.1 389.6 373.6 389.7 375.1 389.5 376.6 389.6 378.1 389.4 379.6 389.4 381.1 389.4 382.6 389.4 384.1 389.2 385.6 389.1 387.1 389.1 388.6 389.0 390.1 389.2 391.6 389.1 393.1 389.1 394.6 389.4 396.1 389.4 397.6 389.4 399.1 389.4 400.6 389.4 402.1 389.2 403.6 389.1 405.1 389.1 406.6 389.1 408.1 389.2 409.6 389.2 411.1 389.3 412.6 389.2 414.1 389.1 415.6 389.2 417.1 389.1 418.6 389.2 420.1 389.1 421.6 389.1 423.1 389.1 424.6 389.0 426.1 389.3 427.6 389.1 429.1 389.3 430.6 389.4 432.1 389.4 433.6 389.4 435.1 389.5 436.6 389.5 438.1 389.5 439.6 389.4"/><path d="M280.6 416.7 282.1 415.1 283.6 413.8 285.1 412.7 286.6 411.7 288.1 410.8 289.6 410.0 291.1 409.2 292.6 408.7 294.1 408.1 295.6 407.7 297.1 407.5 298.6 406.9 300.1 406.5 301.6 406.4 303.1 405.8 304.6 405.6 306.1 405.2 307.6 405.0 309.1 404.8 310.6 404.8 312.1 404.5 313.6 404.5 315.1 404.3 316.6 404.1 318.1 404.1 319.6 404.0 321.1 403.8 322.6 403.8 324.1 403.8 325.6 403.7 327.1 403.4 328.6 403.4 330.1 403.6 331.6 403.5 333.1 403.4 334.6 403.3 336.1 403.4 337.6 403.4 339.1 403.3 340.6 403.3 342.1 403.4 343.6 403.4 345.1 403.3 346.6 403.2 348.1 403.2 349.6 403.1 351.1 403.5 352.6 403.3 354.1 403.6 355.6 403.5 357.1 403.5 358.6 403.5 360.1 403.4 361.6 403.5 363.1 403.4 364.6 403.4 366.1 403.4 367.6 403.5 369.1 403.5 370.6 403.5 372.1 403.5 373.6 403.4 375.1 403.4 376.6 403.6 378.1 403.7 379.6 403.8 381.1 403.6 382.6 403.4 384.1 403.3 385.6 403.2 387.1 403.2 388.6 403.3 390.1 403.2 391.6 403.3 393.1 403.4 394.6 403.3 396.1 403.3 397.6 403.2 399.1 403.3 400.6 403.3 402.1 403.1 403.6 403.0 405.1 403.1 406.6 403.2 408.1 403.1 409.6 403.2 411.1 403.0 412.6 403.1 414.1 403.1 415.6 403.0 417.1 403.0 418.6 403.1 420.1 403.2 421.6 403.3 423.1 403.4 424.6 403.5 426.1 403.6 427.6 403.4 429.1 403.3 430.6 403.2 432.1 403.1 433.6 403.1 435.1 403.2 436.6 403.3 438.1 403.2 439.6 403.2"/><path d="M280.6 419.4 282.1 419.0 283.6 418.4 285.1 417.9 286.6 417.5 288.1 417.3 289.6 416.8 291.1 416.6 292.6 416.4 294.1 416.1 295.6 415.7 297.1 415.5 298.6 415.3 300.1 415.1 301.6 414.9 303.1 415.0 304.6 415.0 306.1 415.0 307.6 414.8 309.1 414.8 310.6 414.6 312.1 414.5 313.6 414.5 315.1 414.6 316.6 414.6 318.1 414.4 319.6 414.3 321.1 414.1 322.6 414.1 324.1 414.2 325.6 414.2 327.1 414.1 328.6 414.0 330.1 413.8 331.6 413.9 333.1 413.8 334.6 413.9 336.1 413.7 337.6 413.7 339.1 413.8 340.6 413.7 342.1 413.6 343.6 413.8 345.1 413.9 346.6 414.0 348.1 413.8 349.6 413.9 351.1 413.9 352.6 414.0 354.1 413.9 355.6 413.8 357.1 413.6 358.6 413.4 360.1 413.2 361.6 413.2 363.1 413.2 364.6 413.3 366.1 413.5 367.6 413.4 369.1 413.1 370.6 413.2 372.1 413.2 373.6 413.2 375.1 413.0 376.6 413.0 378.1 413.0 379.6 413.0 381.1 412.9 382.6 412.9 384.1 412.8 385.6 412.7 387.1 412.8 388.6 412.7 390.1 412.8 391.6 412.5 393.1 412.6 394.6 412.7 396.1 412.7 397.6 412.6 399.1 412.5 400.6 412.5 402.1 412.7 403.6 412.8 405.1 412.8 406.6 412.8 408.1 412.7 409.6 412.6 411.1 412.7 412.6 412.8 414.1 412.8 415.6 412.9 417.1 412.8 418.6 412.9 420.1 412.8 421.6 412.9 423.1 413.1 424.6 413.1 426.1 413.0 427.6 413.1 429.1 413.1 430.6 412.9 432.1 412.7 433.6 412.6 435.1 412.8 436.6 412.8 438.1 412.8 439.6 412.5"/><path d="M280.6 414.6 282.1 413.6 283.6 412.7 285.1 411.9 286.6 411.1 288.1 410.5 289.6 409.8 291.1 409.3 292.6 408.7 294.1 408.3 295.6 407.9 297.1 407.7 298.6 407.5 300.1 407.2 301.6 406.8 303.1 406.5 304.6 406.4 306.1 406.2 307.6 405.8 309.1 405.5 310.6 405.4 312.1 405.2 313.6 405.1 315.1 404.8 316.6 404.7 318.1 404.6 319.6 404.6 321.1 404.3 322.6 404.4 324.1 404.4 325.6 404.2 327.1 404.0 328.6 404.1 330.1 403.8 331.6 403.9 333.1 403.7 334.6 403.6 336.1 403.5 337.6 403.3 339.1 403.2 340.6 403.1 342.1 403.1 343.6 403.1 345.1 403.1 346.6 403.1 348.1 403.0 349.6 403.0 351.1 402.8 352.6 402.9 354.1 402.9 355.6 402.9 357.1 402.9 358.6 402.9 360.1 402.9 361.6 402.7 363.1 402.6 364.6 402.5 366.1 402.4 367.6 402.5 369.1 402.8 370.6 402.8 372.1 402.8 373.6 402.7 375.1 402.8 376.6 402.9 378.1 402.7 379.6 402.7 381.1 402.7 382.6 402.6 384.1 402.6 385.6 402.5 387.1 402.7 388.6 402.8 390.1 402.8 391.6 402.7 393.1 402.5 394.6 402.7 396.1 402.6 397.6 402.7 399.1 402.8 400.6 402.7 402.1 402.9 403.6 402.8 405.1 402.9 406.6 402.8 408.1 402.8 409.6 402.9 411.1 403.0 412.6 403.2 414.1 402.9 415.6 402.8 417.1 402.6 418.6 402.6 420.1 402.7 421.6 402.6 423.1 402.7 424.6 402.9 426.1 402.7 427.6 402.5 429.1 402.7 430.6 402.7 432.1 402.5 433.6 402.4 435.1 402.4 436.6 402.4 438.1 402.3 439.6 402.5"/><path d="M280.6 413.0 282.1 412.8 283.6 412.4 285.1 412.2 286.6 411.9 288.1 411.6 289.6 411.2 291.1 411.1 292.6 411.2 294.1 410.9 295.6 410.8 297.1 410.5 298.6 410.5 300.1 410.6 301.6 410.5 303.1 410.5 304.6 410.5 306.1 410.4 307.6 410.4 309.1 410.2 310.6 410.1 312.1 410.1 313.6 410.1 315.1 410.2 316.6 410.2 318.1 410.0 319.6 409.9 321.1 409.9 322.6 409.8 324.1 409.6 325.6 409.6 327.1 409.5 328.6 409.5 330.1 409.5 331.6 409.5 333.1 409.7 334.6 409.7 336.1 409.7 337.6 409.9 339.1 409.8 340.6 409.6 342.1 409.6 343.6 409.7 345.1 409.6 346.6 409.5 348.1 409.6 349.6 409.8 351.1 409.8 352.6 409.9 354.1 410.0 355.6 409.9 357.1 409.8 358.6 409.8 360.1 409.7 361.6 409.7 363.1 409.5 364.6 409.5 366.1 409.5 367.6 409.7 369.1 409.6 370.6 409.6 372.1 409.5 373.6 409.5 375.1 409.5 376.6 409.4 378.1 409.4 379.6 409.3 381.1 409.4 382.6 409.5 384.1 409.6 385.6 409.6 387.1 409.7 388.6 409.6 390.1 409.7 391.6 410.0 393.1 410.0 394.6 410.2 396.1 410.2 397.6 410.1 399.1 410.1 400.6 409.9 402.1 409.9 403.6 410.0 405.1 410.0 406.6 410.1 408.1 410.0 409.6 410.0 411.1 409.7 412.6 409.8 414.1 409.8 415.6 409.9 417.1 409.9 418.6 409.9 420.1 409.9 421.6 410.0 423.1 409.9 424.6 409.7 426.1 409.5 427.6 409.4 429.1 409.4 430.6 409.3 432.1 409.4 433.6 409.3 435.1 409.3 436.6 409.5 438.1 409.5 439.6 409.3"/><path d="M280.6 414.1 282.1 413.8 283.6 413.6 285.1 413.3 286.6 413.1 288.1 413.0 289.6 412.9 291.1 412.8 292.6 412.6 294.1 412.3 295.6 412.3 297.1 412.1 298.6 411.8 300.1 411.6 301.6 411.6 303.1 411.5 304.6 411.6 306.1 411.3 307.6 411.4 309.1 411.2 310.6 411.3 312.1 411.2 313.6 411.3 315.1 411.2 316.6 411.1 318.1 411.2 319.6 411.2 321.1 411.2 322.6 410.9 324.1 411.0 325.6 410.8 327.1 410.8 328.6 410.8 330.1 410.8 331.6 410.8 333.1 410.8 334.6 410.7 336.1 410.6 337.6 410.7 339.1 410.7 340.6 410.7 342.1 410.7 343.6 410.8 345.1 410.7 346.6 410.7 348.1 410.6 349.6 410.5 351.1 410.4 352.6 410.3 354.1 410.4 355.6 410.2 357.1 410.3 358.6 410.2 360.1 410.4 361.6 410.4 363.1 410.6 364.6 410.6 366.1 410.4 367.6 410.4 369.1 410.5 370.6 410.4 372.1 410.3 373.6 410.3 375.1 410.3 376.6 410.1 378.1 410.2 379.6 410.4 381.1 410.3 382.6 410.3 384.1 410.4 385.6 410.6 387.1 410.4 388.6 410.5 390.1 410.5 391.6 410.4 393.1 410.3 394.6 410.3 396.1 410.3 397.6 410.5 399.1 410.5 400.6 410.5 402.1 410.6 403.6 410.6 405.1 410.7 406.6 410.7 408.1 410.7 409.6 410.7 411.1 410.7 412.6 410.5 414.1 410.6 415.6 410.5 417.1 410.4 418.6 410.5 420.1 410.5 421.6 410.4 423.1 410.5 424.6 410.6 426.1 410.3 427.6 410.2 429.1 410.1 430.6 410.0 432.1 410.1 433.6 410.0 435.1 409.8 436.6 409.9 438.1 409.9 439.6 409.9"/><path d="M280.6 429.2 282.1 428.7 283.6 428.1 285.1 427.4 286.6 427.1 288.1 426.7 289.6 426.1 291.1 425.8 292.6 425.7 294.1 425.6 295.6 425.5 297.1 425.2 298.6 425.1 300.1 425.0 301.6 425.0 303.1 424.9 304.6 424.6 306.1 424.6 307.6 424.5 309.1 424.4 310.6 424.3 312.1 424.3 313.6 424.2 315.1 424.2 316.6 424.2 318.1 424.2 319.6 424.0 321.1 424.0 322.6 424.0 324.1 424.0 325.6 424.1 327.1 424.3 328.6 424.2 330.1 424.3 331.6 424.1 333.1 424.3 334.6 424.4 336.1 424.2 337.6 424.3 339.1 424.3 340.6 424.2 342.1 424.0 343.6 423.9 345.1 424.0 346.6 424.1 348.1 424.1 349.6 424.1 351.1 424.0 352.6 423.9 354.1 423.9 355.6 423.8 357.1 423.7 358.6 423.6 360.1 423.7 361.6 423.7 363.1 423.7 364.6 423.6 366.1 423.5 367.6 423.6 369.1 423.7 370.6 423.8 372.1 423.7 373.6 423.6 375.1 423.7 376.6 423.6 378.1 423.8 379.6 423.9 381.1 423.8 382.6 423.9 384.1 423.9 385.6 423.9 387.1 424.0 388.6 423.9 390.1 423.9 391.6 424.1 393.1 424.2 394.6 424.2 396.1 424.1 397.6 424.3 399.1 424.4 400.6 424.4 402.1 424.4 403.6 424.3 405.1 424.4 406.6 424.4 408.1 424.4 409.6 424.3 411.1 424.2 412.6 424.1 414.1 424.1 415.6 424.1 417.1 423.8 418.6 423.9 420.1 423.8 421.6 423.9 423.1 424.0 424.6 424.1 426.1 424.2 427.6 424.1 429.1 424.2 430.6 424.2 432.1 424.3 433.6 424.1 435.1 424.1 436.6 424.0 438.1 423.9 439.6 424.0"/><path d="M280.6 418.1 282.1 417.1 283.6 416.2 285.1 415.4 286.6 414.7 288.1 414.2 289.6 413.6 291.1 413.1 292.6 412.7 294.1 412.3 295.6 412.1 297.1 411.9 298.6 411.6 300.1 411.5 301.6 411.2 303.1 411.0 304.6 411.0 306.1 410.9 307.6 410.6 309.1 410.6 310.6 410.4 312.1 410.2 313.6 410.2 315.1 410.3 316.6 410.2 318.1 410.3 319.6 410.0 321.1 410.0 322.6 409.8 324.1 409.8 325.6 409.7 327.1 409.6 328.6 409.5 330.1 409.6 331.6 409.6 333.1 409.7 334.6 409.9 336.1 409.8 337.6 409.7 339.1 409.8 340.6 409.6 342.1 409.4 343.6 409.3 345.1 409.3 346.6 409.3 348.1 409.3 349.6 409.3 351.1 409.2 352.6 409.1 354.1 409.2 355.6 409.3 357.1 409.3 358.6 409.5 360.1 409.6 361.6 409.5 363.1 409.6 364.6 409.4 366.1 409.5 367.6 409.4 369.1 409.2 370.6 409.4 372.1 409.4 373.6 409.6 375.1 409.5 376.6 409.5 378.1 409.3 379.6 409.2 381.1 409.3 382.6 409.3 384.1 409.3 385.6 409.3 387.1 409.4 388.6 409.3 390.1 409.4 391.6 409.3 393.1 409.1 394.6 409.0 396.1 409.1 397.6 409.2 399.1 409.2 400.6 409.0 402.1 409.1 403.6 409.2 405.1 409.2 406.6 409.2 408.1 409.3 409.6 409.2 411.1 409.2 412.6 409.1 414.1 409.3 415.6 409.6 417.1 409.6 418.6 409.6 420.1 409.7 421.6 409.7 423.1 409.7 424.6 409.7 426.1 409.7 427.6 409.7 429.1 409.6 430.6 409.5 432.1 409.5 433.6 409.5 435.1 409.7 436.6 409.9 438.1 409.7 439.6 409.7"/><path d="M280.6 432.1 282.1 432.1 283.6 432.1 285.1 432.1 286.6 432.1 288.1 432.1 289.6 431.9 291.1 431.6 292.6 431.6 294.1 431.3 295.6 431.0 297.1 430.8 298.6 430.5 300.1 430.5 301.6 430.3 303.1 430.1 304.6 429.9 306.1 429.9 307.6 429.9 309.1 429.8 310.6 429.7 312.1 429.8 313.6 429.8 315.1 430.0 316.6 429.9 318.1 430.0 319.6 430.2 321.1 430.2 322.6 430.0 324.1 430.0 325.6 430.1 327.1 430.1 328.6 430.1 330.1 430.0 331.6 430.0 333.1 430.0 334.6 430.0 336.1 429.8 337.6 429.9 339.1 429.9 340.6 429.9 342.1 429.8 343.6 430.0 345.1 430.1 346.6 430.1 348.1 429.9 349.6 429.8 351.1 429.6 352.6 429.7 354.1 429.6 355.6 429.6 357.1 429.3 358.6 429.4 360.1 429.3 361.6 429.1 363.1 429.3 364.6 429.6 366.1 429.6 367.6 429.3 369.1 429.4 370.6 429.5 372.1 429.4 373.6 429.5 375.1 429.6 376.6 429.7 378.1 429.8 379.6 429.6 381.1 429.6 382.6 429.5 384.1 429.3 385.6 429.4 387.1 429.4 388.6 429.5 390.1 429.5 391.6 429.4 393.1 429.6 394.6 429.7 396.1 429.7 397.6 429.7 399.1 429.5 400.6 429.5 402.1 429.6 403.6 429.7 405.1 429.6 406.6 429.8 408.1 429.9 409.6 429.8 411.1 429.7 412.6 429.8 414.1 429.6 415.6 429.7 417.1 429.8 418.6 429.8 420.1 429.6 421.6 429.6 423.1 429.6 424.6 429.6 426.1 429.6 427.6 429.6 429.1 429.8 430.6 429.9 432.1 429.8 433.6 429.7 435.1 429.8 436.6 429.7 438.1 429.6 439.6 429.6"/><path d="M280.6 414.5 282.1 414.1 283.6 413.8 285.1 413.5 286.6 413.2 288.1 412.9 289.6 412.6 291.1 412.3 292.6 412.1 294.1 411.7 295.6 411.6 297.1 411.5 298.6 411.4 300.1 411.3 301.6 411.2 303.1 411.1 304.6 411.0 306.1 410.9 307.6 410.8 309.1 410.9 310.6 410.7 312.1 410.8 313.6 410.7 315.1 410.5 316.6 410.4 318.1 410.3 319.6 410.2 321.1 410.0 322.6 409.8 324.1 409.8 325.6 409.6 327.1 409.7 328.6 409.8 330.1 409.7 331.6 409.8 333.1 409.8 334.6 409.7 336.1 409.6 337.6 409.3 339.1 409.1 340.6 409.2 342.1 409.1 343.6 409.3 345.1 409.3 346.6 409.4 348.1 409.2 349.6 409.2 351.1 409.2 352.6 409.1 354.1 409.3 355.6 409.2 357.1 409.1 358.6 409.2 360.1 409.4 361.6 409.5 363.1 409.5 364.6 409.4 366.1 409.3 367.6 409.3 369.1 409.4 370.6 409.1 372.1 408.8 373.6 408.7 375.1 408.5 376.6 408.6 378.1 408.8 379.6 408.7 381.1 408.6 382.6 408.7 384.1 409.0 385.6 409.1 387.1 409.2 388.6 409.3 390.1 409.2 391.6 409.2 393.1 409.1 394.6 409.2 396.1 409.3 397.6 409.3 399.1 409.1 400.6 409.3 402.1 409.2 403.6 408.9 405.1 409.0 406.6 409.0 408.1 408.9 409.6 408.8 411.1 408.8 412.6 408.8 414.1 408.8 415.6 408.9 417.1 408.9 418.6 409.1 420.1 409.0 421.6 409.1 423.1 409.3 424.6 409.4 426.1 409.6 427.6 409.5 429.1 409.4 430.6 409.5 432.1 409.5 433.6 409.5 435.1 409.6 436.6 409.6 438.1 409.6 439.6 409.6"/><path d="M280.6 417.7 282.1 415.9 283.6 414.0 285.1 412.4 286.6 411.1 288.1 409.7 289.6 408.5 291.1 407.6 292.6 406.4 294.1 405.3 295.6 404.7 297.1 404.0 298.6 403.4 300.1 402.8 301.6 402.3 303.1 402.0 304.6 401.6 306.1 401.3 307.6 400.7 309.1 400.3 310.6 400.1 312.1 399.7 313.6 399.4 315.1 399.0 316.6 398.7 318.1 398.5 319.6 398.4 321.1 398.2 322.6 398.0 324.1 397.8 325.6 397.5 327.1 397.5 328.6 397.3 330.1 397.3 331.6 397.3 333.1 397.1 334.6 397.1 336.1 397.2 337.6 397.0 339.1 397.0 340.6 397.0 342.1 397.0 343.6 397.0 345.1 397.2 346.6 397.1 348.1 397.0 349.6 396.9 351.1 396.8 352.6 396.7 354.1 396.7 355.6 396.5 357.1 396.8 358.6 396.8 360.1 396.7 361.6 396.9 363.1 397.0 364.6 396.8 366.1 396.9 367.6 396.7 369.1 396.6 370.6 396.7 372.1 396.7 373.6 396.7 375.1 396.6 376.6 396.7 378.1 396.8 379.6 396.6 381.1 396.6 382.6 396.3 384.1 396.2 385.6 396.3 387.1 396.4 388.6 396.3 390.1 396.3 391.6 396.3 393.1 396.2 394.6 396.4 396.1 396.5 397.6 396.6 399.1 396.5 400.6 396.6 402.1 396.6 403.6 396.5 405.1 396.4 406.6 396.4 408.1 396.5 409.6 396.5 411.1 396.7 412.6 396.5 414.1 396.4 415.6 396.5 417.1 396.7 418.6 396.7 420.1 396.7 421.6 396.7 423.1 396.8 424.6 396.8 426.1 396.8 427.6 396.9 429.1 396.8 430.6 396.8 432.1 396.7 433.6 396.6 435.1 396.6 436.6 396.7 438.1 396.7 439.6 396.8"/><path d="M280.6 413.3 282.1 412.2 283.6 411.1 285.1 410.1 286.6 409.2 288.1 408.7 289.6 407.8 291.1 407.2 292.6 406.4 294.1 405.6 295.6 405.0 297.1 404.6 298.6 404.2 300.1 403.7 301.6 403.2 303.1 402.7 304.6 402.4 306.1 402.3 307.6 401.6 309.1 401.2 310.6 401.1 312.1 400.7 313.6 400.3 315.1 400.0 316.6 399.8 318.1 399.7 319.6 399.4 321.1 399.2 322.6 399.1 324.1 398.8 325.6 398.7 327.1 398.5 328.6 398.4 330.1 398.3 331.6 398.1 333.1 397.9 334.6 397.6 336.1 397.7 337.6 397.5 339.1 397.6 340.6 397.4 342.1 397.2 343.6 396.9 345.1 396.8 346.6 396.8 348.1 396.6 349.6 396.8 351.1 396.7 352.6 397.0 354.1 396.9 355.6 396.9 357.1 396.8 358.6 396.6 360.1 396.5 361.6 396.5 363.1 396.5 364.6 396.4 366.1 396.1 367.6 396.1 369.1 395.9 370.6 395.9 372.1 396.0 373.6 396.2 375.1 396.1 376.6 395.9 378.1 395.8 379.6 395.9 381.1 395.8 382.6 395.8 384.1 395.7 385.6 395.9 387.1 395.9 388.6 395.8 390.1 395.7 391.6 395.4 393.1 395.3 394.6 395.1 396.1 395.1 397.6 395.4 399.1 395.4 400.6 395.3 402.1 395.3 403.6 395.3 405.1 395.4 406.6 395.4 408.1 395.5 409.6 395.4 411.1 395.4 412.6 395.3 414.1 395.5 415.6 395.4 417.1 395.3 418.6 395.4 420.1 395.5 421.6 395.8 423.1 395.9 424.6 396.1 426.1 395.9 427.6 395.9 429.1 395.9 430.6 395.9 432.1 395.8 433.6 395.7 435.1 395.8 436.6 396.0 438.1 396.1 439.6 395.9"/><path d="M280.6 417.6 282.1 415.6 283.6 413.9 285.1 412.4 286.6 411.1 288.1 410.2 289.6 409.1 291.1 408.3 292.6 407.7 294.1 407.1 295.6 406.5 297.1 406.0 298.6 405.7 300.1 405.5 301.6 405.1 303.1 404.7 304.6 404.5 306.1 404.4 307.6 404.2 309.1 404.0 310.6 403.6 312.1 403.6 313.6 403.5 315.1 403.6 316.6 403.6 318.1 403.6 319.6 403.6 321.1 403.6 322.6 403.6 324.1 403.7 325.6 403.8 327.1 403.7 328.6 403.5 330.1 403.5 331.6 403.5 333.1 403.7 334.6 403.7 336.1 403.5 337.6 403.5 339.1 403.5 340.6 403.7 342.1 403.7 343.6 403.8 345.1 403.8 346.6 403.7 348.1 403.7 349.6 403.6 351.1 403.8 352.6 404.0 354.1 403.9 355.6 403.6 357.1 403.5 358.6 403.5 360.1 403.4 361.6 403.5 363.1 403.5 364.6 403.6 366.1 403.7 367.6 403.6 369.1 403.5 370.6 403.6 372.1 403.7 373.6 403.4 375.1 403.5 376.6 403.7 378.1 403.5 379.6 403.5 381.1 403.7 382.6 403.7 384.1 403.8 385.6 403.7 387.1 403.7 388.6 403.6 390.1 403.5 391.6 403.6 393.1 403.5 394.6 403.5 396.1 403.4 397.6 403.6 399.1 403.6 400.6 403.7 402.1 403.6 403.6 403.6 405.1 403.7 406.6 403.6 408.1 403.7 409.6 403.7 411.1 403.7 412.6 403.7 414.1 403.7 415.6 403.8 417.1 403.8 418.6 403.7 420.1 403.8 421.6 403.7 423.1 403.7 424.6 403.8 426.1 403.6 427.6 403.6 429.1 403.7 430.6 403.8 432.1 403.8 433.6 403.7 435.1 403.5 436.6 403.6 438.1 403.8 439.6 403.8"/><path d="M280.6 427.8 282.1 427.9 283.6 427.8 285.1 427.7 286.6 427.6 288.1 427.6 289.6 427.6 291.1 427.3 292.6 427.3 294.1 427.3 295.6 427.2 297.1 427.3 298.6 427.2 300.1 427.2 301.6 427.2 303.1 427.3 304.6 427.2 306.1 427.0 307.6 427.1 309.1 427.1 310.6 427.0 312.1 426.8 313.6 426.7 315.1 426.8 316.6 426.8 318.1 426.7 319.6 426.8 321.1 426.7 322.6 426.4 324.1 426.4 325.6 426.3 327.1 426.6 328.6 426.6 330.1 426.5 331.6 426.5 333.1 426.5 334.6 426.5 336.1 426.4 337.6 426.3 339.1 426.2 340.6 426.2 342.1 426.4 343.6 426.3 345.1 426.3 346.6 426.1 348.1 426.1 349.6 426.1 351.1 426.4 352.6 426.3 354.1 426.8 355.6 427.0 357.1 427.1 358.6 427.2 360.1 427.0 361.6 426.8 363.1 426.8 364.6 426.8 366.1 426.8 367.6 426.8 369.1 426.9 370.6 426.9 372.1 426.9 373.6 426.8 375.1 426.9 376.6 426.7 378.1 426.6 379.6 426.6 381.1 426.6 382.6 426.6 384.1 426.4 385.6 426.4 387.1 426.5 388.6 426.6 390.1 426.5 391.6 426.5 393.1 426.6 394.6 426.5 396.1 426.3 397.6 426.3 399.1 426.4 400.6 426.6 402.1 426.5 403.6 426.5 405.1 426.5 406.6 426.4 408.1 426.6 409.6 426.7 411.1 426.8 412.6 426.8 414.1 426.8 415.6 426.9 417.1 426.7 418.6 426.8 420.1 426.7 421.6 426.6 423.1 426.6 424.6 426.8 426.1 426.9 427.6 426.9 429.1 426.9 430.6 426.7 432.1 426.7 433.6 426.7 435.1 426.6 436.6 426.4 438.1 426.2 439.6 426.0"/><path d="M280.6 415.9 282.1 415.1 283.6 414.3 285.1 413.6 286.6 412.8 288.1 412.1 289.6 411.6 291.1 411.2 292.6 410.5 294.1 410.0 295.6 409.6 297.1 409.0 298.6 408.6 300.1 408.2 301.6 407.7 303.1 407.3 304.6 407.1 306.1 406.9 307.6 406.5 309.1 406.3 310.6 406.1 312.1 406.0 313.6 405.6 315.1 405.5 316.6 405.5 318.1 405.3 319.6 405.4 321.1 405.0 322.6 404.7 324.1 404.5 325.6 404.6 327.1 404.5 328.6 404.4 330.1 404.2 331.6 404.0 333.1 403.9 334.6 403.9 336.1 403.8 337.6 403.6 339.1 403.6 340.6 403.7 342.1 403.4 343.6 403.2 345.1 403.3 346.6 403.2 348.1 403.3 349.6 403.1 351.1 402.9 352.6 403.0 354.1 403.0 355.6 403.0 357.1 402.9 358.6 402.8 360.1 402.7 361.6 402.8 363.1 402.8 364.6 402.9 366.1 402.8 367.6 402.6 369.1 402.6 370.6 402.6 372.1 402.6 373.6 402.5 375.1 402.4 376.6 402.6 378.1 402.7 379.6 402.7 381.1 402.5 382.6 402.5 384.1 402.7 385.6 402.8 387.1 403.2 388.6 402.9 390.1 402.8 391.6 402.6 393.1 402.5 394.6 402.6 396.1 402.6 397.6 402.4 399.1 402.7 400.6 402.7 402.1 402.7 403.6 402.8 405.1 402.6 406.6 402.6 408.1 402.7 409.6 402.8 411.1 402.9 412.6 403.0 414.1 403.1 415.6 403.1 417.1 402.7 418.6 402.8 420.1 402.9 421.6 402.9 423.1 402.9 424.6 402.9 426.1 402.8 427.6 402.7 429.1 402.4 430.6 402.3 432.1 402.3 433.6 402.4 435.1 402.3 436.6 402.5 438.1 402.5 439.6 402.4"/><path d="M280.6 418.4 282.1 414.8 283.6 411.8 285.1 409.2 286.6 407.0 288.1 405.3 289.6 403.8 291.1 402.4 292.6 401.0 294.1 400.2 295.6 399.2 297.1 398.5 298.6 397.8 300.1 397.3 301.6 396.7 303.1 396.4 304.6 396.1 306.1 395.9 307.6 395.6 309.1 395.6 310.6 395.2 312.1 395.0 313.6 395.0 315.1 394.9 316.6 394.8 318.1 394.9 319.6 394.7 321.1 394.6 322.6 394.6 324.1 394.8 325.6 394.8 327.1 394.8 328.6 394.7 330.1 394.7 331.6 394.6 333.1 394.7 334.6 394.7 336.1 394.6 337.6 394.7 339.1 394.5 340.6 394.5 342.1 394.5 343.6 394.6 345.1 394.7 346.6 394.6 348.1 394.5 349.6 394.5 351.1 394.4 352.6 394.5 354.1 394.3 355.6 394.1 357.1 394.2 358.6 394.3 360.1 394.3 361.6 394.3 363.1 394.3 364.6 394.2 366.1 394.1 367.6 394.1 369.1 394.1 370.6 394.2 372.1 394.0 373.6 393.8 375.1 393.6 376.6 393.8 378.1 393.7 379.6 393.7 381.1 393.7 382.6 393.6 384.1 393.6 385.6 393.5 387.1 393.6 388.6 393.6 390.1 393.8 391.6 393.7 393.1 393.7 394.6 393.7 396.1 393.7 397.6 393.9 399.1 394.0 400.6 394.0 402.1 393.9 403.6 394.1 405.1 394.1 406.6 394.1 408.1 394.1 409.6 394.3 411.1 394.4 412.6 394.5 414.1 394.5 415.6 394.5 417.1 394.6 418.6 394.6 420.1 394.5 421.6 394.5 423.1 394.6 424.6 394.7 426.1 394.9 427.6 394.7 429.1 394.6 430.6 394.6 432.1 394.7 433.6 394.8 435.1 394.8 436.6 394.9 438.1 394.9 439.6 395.0"/><path d="M280.6 416.0 282.1 413.7 283.6 411.7 285.1 409.9 286.6 408.3 288.1 406.9 289.6 405.8 291.1 404.5 292.6 403.5 294.1 402.6 295.6 401.8 297.1 401.1 298.6 400.4 300.1 399.8 301.6 399.3 303.1 398.8 304.6 398.4 306.1 398.0 307.6 397.6 309.1 397.2 310.6 397.1 312.1 397.0 313.6 396.8 315.1 396.5 316.6 396.4 318.1 396.2 319.6 396.1 321.1 396.1 322.6 396.1 324.1 395.9 325.6 395.8 327.1 395.8 328.6 395.7 330.1 395.7 331.6 395.8 333.1 395.8 334.6 395.8 336.1 395.7 337.6 395.5 339.1 395.5 340.6 395.8 342.1 395.7 343.6 395.6 345.1 395.5 346.6 395.5 348.1 395.5 349.6 395.6 351.1 395.4 352.6 395.4 354.1 395.4 355.6 395.4 357.1 395.8 358.6 395.6 360.1 395.7 361.6 395.6 363.1 395.6 364.6 395.8 366.1 395.8 367.6 395.9 369.1 395.7 370.6 395.6 372.1 395.7 373.6 395.7 375.1 395.9 376.6 395.9 378.1 395.7 379.6 395.7 381.1 395.5 382.6 395.5 384.1 395.3 385.6 395.3 387.1 395.1 388.6 395.1 390.1 395.1 391.6 395.2 393.1 395.4 394.6 395.6 396.1 395.7 397.6 395.7 399.1 395.6 400.6 395.7 402.1 395.6 403.6 395.6 405.1 395.6 406.6 395.6 408.1 395.4 409.6 395.2 411.1 395.1 412.6 395.1 414.1 395.3 415.6 395.5 417.1 395.5 418.6 395.4 420.1 395.4 421.6 395.3 423.1 395.3 424.6 395.3 426.1 395.3 427.6 395.3 429.1 395.3 430.6 395.4 432.1 395.5 433.6 395.3 435.1 395.3 436.6 395.1 438.1 395.3 439.6 395.0"/><path d="M280.6 420.1 282.1 419.8 283.6 419.4 285.1 419.2 286.6 419.0 288.1 418.8 289.6 418.6 291.1 418.5 292.6 418.3 294.1 418.4 295.6 418.6 297.1 418.7 298.6 418.7 300.1 418.6 301.6 418.5 303.1 418.2 304.6 418.3 306.1 418.3 307.6 418.2 309.1 418.3 310.6 418.1 312.1 418.1 313.6 418.0 315.1 417.9 316.6 417.8 318.1 417.8 319.6 417.7 321.1 417.8 322.6 417.8 324.1 417.8 325.6 417.9 327.1 418.0 328.6 418.0 330.1 417.9 331.6 418.0 333.1 417.8 334.6 417.7 336.1 417.6 337.6 417.6 339.1 417.6 340.6 417.7 342.1 417.7 343.6 417.6 345.1 417.7 346.6 417.9 348.1 417.8 349.6 418.0 351.1 417.9 352.6 417.9 354.1 417.7 355.6 417.9 357.1 418.0 358.6 417.8 360.1 418.1 361.6 418.1 363.1 418.1 364.6 417.8 366.1 417.6 367.6 417.6 369.1 417.5 370.6 417.8 372.1 418.0 373.6 417.9 375.1 418.0 376.6 418.0 378.1 417.9 379.6 417.8 381.1 417.8 382.6 417.7 384.1 417.9 385.6 417.8 387.1 417.9 388.6 417.7 390.1 417.7 391.6 417.8 393.1 417.6 394.6 417.6 396.1 417.5 397.6 417.5 399.1 417.5 400.6 417.3 402.1 417.3 403.6 417.2 405.1 417.2 406.6 417.1 408.1 417.2 409.6 417.3 411.1 417.4 412.6 417.6 414.1 417.7 415.6 417.8 417.1 417.8 418.6 417.7 420.1 417.7 421.6 417.5 423.1 417.7 424.6 417.7 426.1 417.5 427.6 417.5 429.1 417.7 430.6 417.6 432.1 417.6 433.6 417.5 435.1 417.5 436.6 417.4 438.1 417.4 439.6 417.3"/><path d="M280.6 424.6 282.1 424.1 283.6 423.6 285.1 423.2 286.6 423.0 288.1 422.9 289.6 422.8 291.1 422.5 292.6 422.4 294.1 422.4 295.6 422.3 297.1 422.3 298.6 422.2 300.1 422.0 301.6 422.1 303.1 422.3 304.6 422.0 306.1 421.9 307.6 421.8 309.1 421.8 310.6 422.0 312.1 422.1 313.6 422.1 315.1 422.1 316.6 421.9 318.1 421.9 319.6 421.9 321.1 422.0 322.6 421.9 324.1 421.8 325.6 421.8 327.1 421.8 328.6 421.6 330.1 421.6 331.6 421.5 333.1 421.4 334.6 421.5 336.1 421.5 337.6 421.7 339.1 421.8 340.6 421.7 342.1 421.7 343.6 421.8 345.1 421.7 346.6 421.5 348.1 421.6 349.6 421.6 351.1 421.6 352.6 421.6 354.1 421.8 355.6 421.7 357.1 421.7 358.6 421.8 360.1 421.7 361.6 421.8 363.1 421.7 364.6 421.6 366.1 421.6 367.6 421.8 369.1 421.8 370.6 421.7 372.1 421.7 373.6 421.6 375.1 421.8 376.6 421.6 378.1 421.4 379.6 421.4 381.1 421.2 382.6 421.2 384.1 421.3 385.6 421.5 387.1 421.7 388.6 421.8 390.1 421.9 391.6 422.1 393.1 422.1 394.6 422.0 396.1 422.0 397.6 422.0 399.1 421.9 400.6 422.0 402.1 422.0 403.6 422.3 405.1 422.1 406.6 422.0 408.1 422.0 409.6 421.9 411.1 421.9 412.6 421.8 414.1 421.7 415.6 421.5 417.1 421.7 418.6 421.7 420.1 421.7 421.6 421.6 423.1 421.6 424.6 421.6 426.1 421.7 427.6 421.6 429.1 421.5 430.6 421.7 432.1 421.6 433.6 421.7 435.1 421.9 436.6 421.8 438.1 421.9 439.6 421.8"/><path d="M280.6 412.9 282.1 412.6 283.6 412.3 285.1 412.0 286.6 411.7 288.1 411.4 289.6 411.2 291.1 411.3 292.6 411.0 294.1 410.7 295.6 410.9 297.1 410.7 298.6 410.5 300.1 410.3 301.6 410.4 303.1 410.4 304.6 410.1 306.1 409.8 307.6 409.9 309.1 409.9 310.6 410.0 312.1 410.0 313.6 410.0 315.1 410.0 316.6 410.1 318.1 410.0 319.6 409.9 321.1 410.1 322.6 410.1 324.1 410.3 325.6 410.2 327.1 410.3 328.6 410.3 330.1 410.1 331.6 410.1 333.1 410.0 334.6 410.1 336.1 410.0 337.6 410.0 339.1 410.0 340.6 409.9 342.1 409.7 343.6 409.8 345.1 409.5 346.6 409.4 348.1 409.6 349.6 409.4 351.1 409.3 352.6 409.3 354.1 409.3 355.6 409.2 357.1 409.3 358.6 409.4 360.1 409.3 361.6 409.4 363.1 409.3 364.6 409.3 366.1 409.2 367.6 409.2 369.1 409.5 370.6 409.8 372.1 409.7 373.6 409.6 375.1 409.7 376.6 409.5 378.1 409.5 379.6 409.6 381.1 409.6 382.6 409.6 384.1 409.6 385.6 409.8 387.1 410.0 388.6 409.9 390.1 409.9 391.6 409.8 393.1 409.5 394.6 409.5 396.1 409.5 397.6 409.5 399.1 409.6 400.6 409.6 402.1 409.6 403.6 409.6 405.1 409.7 406.6 409.5 408.1 409.6 409.6 409.5 411.1 409.7 412.6 409.7 414.1 409.6 415.6 409.7 417.1 409.7 418.6 409.7 420.1 409.6 421.6 409.4 423.1 409.5 424.6 409.6 426.1 409.6 427.6 409.5 429.1 409.5 430.6 409.4 432.1 409.5 433.6 409.4 435.1 409.5 436.6 409.5 438.1 409.5 439.6 409.4"/><path d="M280.6 429.2 282.1 428.6 283.6 428.1 285.1 427.9 286.6 427.7 288.1 427.4 289.6 427.1 291.1 426.8 292.6 426.7 294.1 426.6 295.6 426.4 297.1 426.2 298.6 426.1 300.1 426.1 301.6 426.1 303.1 426.0 304.6 425.9 306.1 425.9 307.6 426.0 309.1 426.0 310.6 425.8 312.1 425.8 313.6 426.0 315.1 426.1 316.6 426.1 318.1 426.1 319.6 426.0 321.1 426.0 322.6 426.0 324.1 426.1 325.6 426.1 327.1 426.1 328.6 426.1 330.1 426.1 331.6 426.1 333.1 425.9 334.6 425.9 336.1 425.9 337.6 426.2 339.1 426.2 340.6 426.2 342.1 426.2 343.6 426.0 345.1 425.9 346.6 426.0 348.1 426.2 349.6 426.3 351.1 426.4 352.6 426.1 354.1 426.2 355.6 426.0 357.1 426.0 358.6 426.0 360.1 426.0 361.6 425.9 363.1 425.9 364.6 425.9 366.1 426.0 367.6 426.2 369.1 426.4 370.6 426.5 372.1 426.4 373.6 426.5 375.1 426.4 376.6 426.4 378.1 426.3 379.6 426.1 381.1 426.1 382.6 426.3 384.1 426.3 385.6 426.3 387.1 426.5 388.6 426.4 390.1 426.3 391.6 426.4 393.1 426.2 394.6 426.1 396.1 426.0 397.6 426.0 399.1 425.9 400.6 426.0 402.1 425.9 403.6 426.0 405.1 425.8 406.6 425.9 408.1 426.2 409.6 426.1 411.1 425.9 412.6 425.9 414.1 426.0 415.6 426.3 417.1 426.0 418.6 426.0 420.1 426.0 421.6 426.0 423.1 426.1 424.6 426.2 426.1 426.2 427.6 426.0 429.1 425.9 430.6 425.8 432.1 425.6 433.6 425.7 435.1 426.0 436.6 426.0 438.1 426.1 439.6 426.1"/><path d="M280.6 432.1 282.1 432.1 283.6 432.1 285.1 432.1 286.6 432.1 288.1 432.1 289.6 432.1 291.1 432.1 292.6 432.1 294.1 431.7 295.6 431.6 297.1 431.5 298.6 431.4 300.1 431.4 301.6 431.5 303.1 431.4 304.6 431.3 306.1 431.3 307.6 431.3 309.1 431.3 310.6 431.4 312.1 431.3 313.6 431.2 315.1 431.2 316.6 431.0 318.1 431.1 319.6 431.0 321.1 431.1 322.6 431.1 324.1 431.0 325.6 431.0 327.1 431.0 328.6 431.1 330.1 431.3 331.6 431.1 333.1 431.0 334.6 431.0 336.1 430.9 337.6 431.1 339.1 430.7 340.6 430.9 342.1 430.8 343.6 430.8 345.1 430.7 346.6 430.7 348.1 430.8 349.6 430.8 351.1 430.9 352.6 430.8 354.1 430.8 355.6 430.8 357.1 430.9 358.6 431.0 360.1 431.0 361.6 431.1 363.1 431.2 364.6 431.2 366.1 431.1 367.6 431.1 369.1 431.0 370.6 431.0 372.1 431.0 373.6 431.2 375.1 431.2 376.6 431.2 378.1 431.4 379.6 431.5 381.1 431.5 382.6 431.5 384.1 431.6 385.6 431.5 387.1 431.5 388.6 431.4 390.1 431.6 391.6 431.6 393.1 431.5 394.6 431.4 396.1 431.4 397.6 431.4 399.1 431.4 400.6 431.5 402.1 431.5 403.6 431.3 405.1 431.2 406.6 431.1 408.1 431.1 409.6 431.2 411.1 431.1 412.6 431.0 414.1 431.1 415.6 430.9 417.1 430.8 418.6 430.8 420.1 430.8 421.6 431.0 423.1 430.9 424.6 430.9 426.1 431.1 427.6 431.1 429.1 431.0 430.6 431.1 432.1 431.3 433.6 431.2 435.1 431.3 436.6 431.2 438.1 431.2 439.6 431.0"/><path d="M280.6 425.7 282.1 425.3 283.6 425.0 285.1 424.8 286.6 424.5 288.1 424.4 289.6 424.1 291.1 423.9 292.6 424.0 294.1 423.9 295.6 423.6 297.1 423.6 298.6 423.5 300.1 423.3 301.6 423.1 303.1 423.1 304.6 423.0 306.1 422.9 307.6 422.6 309.1 422.4 310.6 422.4 312.1 422.4 313.6 422.2 315.1 422.0 316.6 421.9 318.1 421.7 319.6 421.7 321.1 421.7 322.6 421.7 324.1 421.5 325.6 421.5 327.1 421.3 328.6 421.3 330.1 421.2 331.6 421.0 333.1 421.1 334.6 421.1 336.1 421.0 337.6 421.1 339.1 421.0 340.6 421.0 342.1 421.1 343.6 421.2 345.1 421.2 346.6 421.2 348.1 421.3 349.6 421.2 351.1 421.1 352.6 421.0 354.1 421.1 355.6 421.0 357.1 421.1 358.6 421.2 360.1 421.3 361.6 421.4 363.1 421.5 364.6 421.4 366.1 421.4 367.6 421.3 369.1 421.5 370.6 421.4 372.1 421.6 373.6 421.6 375.1 421.6 376.6 421.4 378.1 421.5 379.6 421.3 381.1 421.3 382.6 421.3 384.1 421.3 385.6 421.2 387.1 421.2 388.6 421.0 390.1 421.1 391.6 421.1 393.1 421.2 394.6 421.2 396.1 421.4 397.6 421.3 399.1 421.4 400.6 421.5 402.1 421.5 403.6 421.4 405.1 421.4 406.6 421.3 408.1 421.2 409.6 421.2 411.1 421.2 412.6 421.0 414.1 420.9 415.6 420.8 417.1 420.8 418.6 420.8 420.1 420.9 421.6 420.9 423.1 421.2 424.6 421.2 426.1 421.0 427.6 421.0 429.1 421.0 430.6 421.1 432.1 421.1 433.6 421.0 435.1 421.0 436.6 421.1 438.1 420.9 439.6 420.8"/><path d="M280.6 430.4 282.1 429.7 283.6 429.1 285.1 428.4 286.6 428.0 288.1 427.6 289.6 427.2 291.1 426.7 292.6 426.5 294.1 426.2 295.6 425.8 297.1 425.4 298.6 425.0 300.1 424.9 301.6 424.5 303.1 424.3 304.6 424.2 306.1 424.1 307.6 424.1 309.1 423.9 310.6 424.0 312.1 423.9 313.6 424.0 315.1 423.9 316.6 424.0 318.1 424.1 319.6 423.8 321.1 423.5 322.6 423.6 324.1 423.6 325.6 423.6 327.1 423.6 328.6 423.6 330.1 423.6 331.6 423.6 333.1 423.4 334.6 423.3 336.1 423.0 337.6 423.1 339.1 423.0 340.6 422.8 342.1 422.9 343.6 422.8 345.1 422.9 346.6 422.8 348.1 422.7 349.6 422.9 351.1 422.9 352.6 422.9 354.1 422.9 355.6 422.6 357.1 422.9 358.6 423.0 360.1 422.7 361.6 422.9 363.1 422.8 364.6 422.9 366.1 422.9 367.6 422.8 369.1 422.8 370.6 423.0 372.1 423.0 373.6 423.0 375.1 423.0 376.6 423.2 378.1 423.2 379.6 423.1 381.1 422.9 382.6 422.9 384.1 423.0 385.6 423.2 387.1 423.3 388.6 423.3 390.1 423.3 391.6 423.1 393.1 423.1 394.6 423.3 396.1 423.4 397.6 423.2 399.1 423.4 400.6 423.7 402.1 423.8 403.6 423.6 405.1 423.5 406.6 423.6 408.1 423.6 409.6 423.7 411.1 423.3 412.6 423.2 414.1 423.2 415.6 423.3 417.1 423.2 418.6 423.4 420.1 423.4 421.6 423.2 423.1 423.1 424.6 423.1 426.1 423.0 427.6 423.0 429.1 423.0 430.6 422.9 432.1 422.7 433.6 422.6 435.1 422.8 436.6 422.9 438.1 423.0 439.6 423.0"/><path d="M280.6 416.5 282.1 415.9 283.6 415.0 285.1 414.4 286.6 413.7 288.1 413.0 289.6 412.3 291.1 411.9 292.6 411.6 294.1 411.2 295.6 410.6 297.1 410.2 298.6 409.8 300.1 409.5 301.6 409.3 303.1 409.1 304.6 408.7 306.1 408.5 307.6 408.3 309.1 408.2 310.6 407.9 312.1 407.5 313.6 407.4 315.1 407.2 316.6 407.0 318.1 406.8 319.6 406.7 321.1 406.4 322.6 406.4 324.1 406.1 325.6 406.0 327.1 406.1 328.6 406.1 330.1 406.0 331.6 405.9 333.1 405.8 334.6 405.7 336.1 405.5 337.6 405.6 339.1 405.5 340.6 405.5 342.1 405.4 343.6 405.2 345.1 405.0 346.6 405.0 348.1 405.1 349.6 405.3 351.1 405.2 352.6 405.0 354.1 405.1 355.6 405.2 357.1 405.1 358.6 404.8 360.1 404.9 361.6 404.7 363.1 404.6 364.6 404.7 366.1 404.6 367.6 404.6 369.1 404.6 370.6 404.6 372.1 404.9 373.6 404.8 375.1 404.7 376.6 404.5 378.1 404.5 379.6 404.4 381.1 404.4 382.6 404.6 384.1 404.5 385.6 404.6 387.1 404.6 388.6 404.7 390.1 404.6 391.6 404.6 393.1 404.6 394.6 404.5 396.1 404.5 397.6 404.3 399.1 404.3 400.6 404.2 402.1 404.2 403.6 404.1 405.1 404.1 406.6 404.1 408.1 404.1 409.6 404.1 411.1 404.3 412.6 404.3 414.1 404.3 415.6 404.5 417.1 404.5 418.6 404.7 420.1 404.6 421.6 404.6 423.1 404.7 424.6 404.9 426.1 404.9 427.6 405.1 429.1 405.1 430.6 405.0 432.1 405.0 433.6 404.9 435.1 404.9 436.6 404.8 438.1 404.8 439.6 404.9"/><path d="M280.6 418.4 282.1 416.6 283.6 415.0 285.1 413.4 286.6 412.1 288.1 410.9 289.6 409.6 291.1 408.4 292.6 407.4 294.1 406.4 295.6 405.6 297.1 405.1 298.6 404.2 300.1 403.6 301.6 403.3 303.1 402.5 304.6 402.1 306.1 401.6 307.6 401.2 309.1 401.0 310.6 400.6 312.1 400.3 313.6 400.1 315.1 399.7 316.6 399.6 318.1 399.4 319.6 399.2 321.1 399.0 322.6 398.9 324.1 398.8 325.6 398.6 327.1 398.5 328.6 398.5 330.1 398.2 331.6 398.0 333.1 397.7 334.6 397.6 336.1 397.4 337.6 397.4 339.1 397.3 340.6 397.1 342.1 397.2 343.6 397.2 345.1 397.1 346.6 397.3 348.1 397.4 349.6 397.2 351.1 397.2 352.6 397.1 354.1 397.1 355.6 397.1 357.1 397.0 358.6 397.0 360.1 397.0 361.6 397.0 363.1 396.9 364.6 396.9 366.1 396.9 367.6 397.1 369.1 397.1 370.6 397.0 372.1 396.9 373.6 396.9 375.1 396.8 376.6 396.7 378.1 396.9 379.6 396.7 381.1 396.8 382.6 396.7 384.1 396.8 385.6 396.7 387.1 396.8 388.6 396.9 390.1 396.9 391.6 396.7 393.1 396.6 394.6 396.5 396.1 396.5 397.6 396.6 399.1 396.6 400.6 396.7 402.1 396.7 403.6 396.6 405.1 396.4 406.6 396.4 408.1 396.4 409.6 396.3 411.1 396.3 412.6 396.4 414.1 396.3 415.6 396.5 417.1 396.4 418.6 396.5 420.1 396.5 421.6 396.4 423.1 396.4 424.6 396.5 426.1 396.4 427.6 396.4 429.1 396.5 430.6 396.4 432.1 396.2 433.6 396.5 435.1 396.4 436.6 396.4 438.1 396.5 439.6 396.5"/><path d="M280.6 421.5 282.1 421.1 283.6 420.6 285.1 420.2 286.6 419.6 288.1 419.3 289.6 418.9 291.1 418.8 292.6 418.5 294.1 418.4 295.6 418.2 297.1 417.9 298.6 417.7 300.1 417.4 301.6 417.3 303.1 417.2 304.6 417.3 306.1 417.3 307.6 417.2 309.1 417.2 310.6 417.1 312.1 416.8 313.6 416.6 315.1 416.5 316.6 416.4 318.1 416.4 319.6 416.6 321.1 416.6 322.6 416.6 324.1 416.5 325.6 416.6 327.1 416.6 328.6 416.7 330.1 416.8 331.6 417.1 333.1 417.0 334.6 417.0 336.1 417.0 337.6 416.8 339.1 416.6 340.6 416.6 342.1 416.8 343.6 416.7 345.1 416.6 346.6 416.7 348.1 416.7 349.6 416.8 351.1 416.9 352.6 416.9 354.1 416.8 355.6 416.8 357.1 416.8 358.6 416.8 360.1 416.8 361.6 416.9 363.1 416.8 364.6 416.7 366.1 416.6 367.6 416.6 369.1 416.6 370.6 416.7 372.1 416.9 373.6 416.8 375.1 416.8 376.6 416.8 378.1 416.8 379.6 416.8 381.1 416.7 382.6 416.6 384.1 416.7 385.6 416.9 387.1 416.9 388.6 416.8 390.1 416.7 391.6 416.5 393.1 416.5 394.6 416.5 396.1 416.6 397.6 416.6 399.1 416.6 400.6 416.5 402.1 416.5 403.6 416.8 405.1 416.9 406.6 417.0 408.1 416.8 409.6 417.1 411.1 417.1 412.6 417.2 414.1 417.3 415.6 417.3 417.1 417.2 418.6 417.2 420.1 417.1 421.6 417.1 423.1 417.0 424.6 417.0 426.1 417.0 427.6 417.1 429.1 417.2 430.6 417.0 432.1 416.9 433.6 417.0 435.1 417.0 436.6 417.1 438.1 416.9 439.6 417.0"/><path d="M280.6 416.4 282.1 414.5 283.6 412.8 285.1 411.4 286.6 410.2 288.1 409.1 289.6 407.9 291.1 407.1 292.6 406.4 294.1 405.6 295.6 404.9 297.1 404.3 298.6 403.7 300.1 403.0 301.6 402.4 303.1 401.9 304.6 401.4 306.1 401.1 307.6 400.8 309.1 400.2 310.6 400.0 312.1 399.6 313.6 399.5 315.1 399.2 316.6 398.9 318.1 398.8 319.6 398.6 321.1 398.5 322.6 398.5 324.1 398.3 325.6 398.3 327.1 398.3 328.6 398.2 330.1 398.3 331.6 398.3 333.1 398.3 334.6 398.2 336.1 398.1 337.6 398.2 339.1 398.0 340.6 397.9 342.1 397.9 343.6 397.6 345.1 397.6 346.6 397.7 348.1 397.7 349.6 397.7 351.1 397.5 352.6 397.4 354.1 397.4 355.6 397.5 357.1 397.6 358.6 397.7 360.1 397.8 361.6 397.8 363.1 398.0 364.6 398.1 366.1 398.1 367.6 398.1 369.1 397.9 370.6 397.7 372.1 397.7 373.6 397.6 375.1 397.8 376.6 397.7 378.1 397.7 379.6 397.6 381.1 397.5 382.6 397.4 384.1 397.6 385.6 397.6 387.1 397.5 388.6 397.5 390.1 397.5 391.6 397.5 393.1 397.7 394.6 397.6 396.1 397.6 397.6 397.6 399.1 397.4 400.6 397.4 402.1 397.4 403.6 397.2 405.1 397.3 406.6 397.4 408.1 397.7 409.6 397.7 411.1 397.5 412.6 397.6 414.1 397.6 415.6 397.5 417.1 397.5 418.6 397.6 420.1 397.5 421.6 397.7 423.1 397.5 424.6 397.6 426.1 397.5 427.6 397.5 429.1 397.7 430.6 397.6 432.1 397.6 433.6 397.7 435.1 397.6 436.6 397.6 438.1 397.6 439.6 397.7"/><path d="M280.6 418.9 282.1 417.8 283.6 417.0 285.1 416.2 286.6 415.4 288.1 414.6 289.6 414.1 291.1 413.6 292.6 413.2 294.1 412.5 295.6 412.1 297.1 411.5 298.6 411.2 300.1 410.9 301.6 410.5 303.1 410.3 304.6 410.0 306.1 409.9 307.6 409.7 309.1 409.5 310.6 409.3 312.1 409.2 313.6 409.0 315.1 408.8 316.6 408.6 318.1 408.6 319.6 408.4 321.1 408.2 322.6 407.9 324.1 407.7 325.6 407.5 327.1 407.5 328.6 407.2 330.1 407.3 331.6 407.4 333.1 407.3 334.6 407.2 336.1 407.0 337.6 407.1 339.1 407.2 340.6 407.1 342.1 407.2 343.6 407.2 345.1 407.1 346.6 406.9 348.1 406.8 349.6 406.8 351.1 406.9 352.6 407.0 354.1 406.9 355.6 406.9 357.1 406.9 358.6 406.8 360.1 406.7 361.6 406.7 363.1 406.7 364.6 406.6 366.1 406.6 367.6 406.6 369.1 406.4 370.6 406.5 372.1 406.6 373.6 406.6 375.1 406.7 376.6 406.7 378.1 406.7 379.6 406.7 381.1 406.6 382.6 406.7 384.1 406.8 385.6 406.7 387.1 406.8 388.6 406.7 390.1 406.8 391.6 406.8 393.1 406.8 394.6 407.1 396.1 407.1 397.6 407.2 399.1 407.4 400.6 407.4 402.1 407.4 403.6 407.3 405.1 407.2 406.6 407.2 408.1 407.4 409.6 407.3 411.1 407.3 412.6 407.2 414.1 407.2 415.6 407.2 417.1 407.2 418.6 407.2 420.1 407.3 421.6 407.3 423.1 407.1 424.6 407.1 426.1 407.0 427.6 406.9 429.1 407.0 430.6 406.8 432.1 406.8 433.6 406.8 435.1 406.7 436.6 407.0 438.1 407.3 439.6 407.5"/><path d="M280.6 418.3 282.1 417.2 283.6 416.0 285.1 414.9 286.6 414.0 288.1 413.3 289.6 412.5 291.1 412.0 292.6 411.4 294.1 410.7 295.6 410.1 297.1 409.5 298.6 408.9 300.1 408.4 301.6 408.0 303.1 407.8 304.6 407.2 306.1 406.8 307.6 406.4 309.1 406.1 310.6 405.9 312.1 405.4 313.6 404.9 315.1 404.5 316.6 404.2 318.1 404.0 319.6 403.7 321.1 403.5 322.6 403.2 324.1 403.1 325.6 402.9 327.1 402.6 328.6 402.5 330.1 402.4 331.6 402.3 333.1 402.0 334.6 401.9 336.1 401.7 337.6 401.8 339.1 401.7 340.6 401.6 342.1 401.7 343.6 401.7 345.1 401.5 346.6 401.3 348.1 401.2 349.6 401.2 351.1 401.2 352.6 401.4 354.1 401.2 355.6 401.2 357.1 401.2 358.6 401.2 360.1 401.4 361.6 401.5 363.1 401.4 364.6 401.4 366.1 401.4 367.6 401.4 369.1 401.4 370.6 401.3 372.1 401.3 373.6 401.2 375.1 401.0 376.6 400.9 378.1 401.0 379.6 401.0 381.1 400.7 382.6 400.8 384.1 400.9 385.6 400.8 387.1 400.8 388.6 400.5 390.1 400.7 391.6 400.7 393.1 400.7 394.6 400.5 396.1 400.3 397.6 400.2 399.1 400.3 400.6 400.1 402.1 400.1 403.6 400.5 405.1 400.5 406.6 400.4 408.1 400.4 409.6 400.4 411.1 400.4 412.6 400.3 414.1 400.2 415.6 400.3 417.1 400.2 418.6 400.2 420.1 400.2 421.6 400.2 423.1 400.3 424.6 400.2 426.1 400.2 427.6 400.2 429.1 400.3 430.6 400.4 432.1 400.2 433.6 400.0 435.1 400.0 436.6 400.3 438.1 400.4 439.6 400.3"/><path d="M280.6 413.4 282.1 412.7 283.6 412.3 285.1 411.9 286.6 411.6 288.1 411.4 289.6 411.1 291.1 410.8 292.6 410.5 294.1 410.5 295.6 410.1 297.1 409.8 298.6 409.7 300.1 409.6 301.6 409.5 303.1 409.5 304.6 409.5 306.1 409.4 307.6 409.4 309.1 409.2 310.6 409.2 312.1 409.2 313.6 409.0 315.1 408.8 316.6 408.7 318.1 408.6 319.6 408.6 321.1 408.3 322.6 408.4 324.1 408.3 325.6 408.2 327.1 408.1 328.6 408.1 330.1 408.1 331.6 407.9 333.1 407.8 334.6 407.8 336.1 407.8 337.6 407.7 339.1 407.7 340.6 407.8 342.1 407.7 343.6 407.6 345.1 407.7 346.6 407.8 348.1 407.8 349.6 407.9 351.1 408.1 352.6 407.9 354.1 407.9 355.6 407.9 357.1 407.9 358.6 407.9 360.1 408.0 361.6 408.0 363.1 408.1 364.6 407.9 366.1 407.8 367.6 407.7 369.1 407.8 370.6 407.9 372.1 407.9 373.6 407.9 375.1 407.8 376.6 407.7 378.1 407.5 379.6 407.8 381.1 407.7 382.6 407.7 384.1 407.8 385.6 407.8 387.1 407.8 388.6 407.8 390.1 407.6 391.6 407.8 393.1 407.9 394.6 407.9 396.1 407.8 397.6 407.7 399.1 407.8 400.6 407.8 402.1 407.8 403.6 408.0 405.1 408.0 406.6 408.1 408.1 408.2 409.6 408.2 411.1 408.2 412.6 408.1 414.1 408.1 415.6 408.1 417.1 407.9 418.6 407.9 420.1 407.8 421.6 407.6 423.1 407.4 424.6 407.5 426.1 407.4 427.6 407.4 429.1 407.4 430.6 407.4 432.1 407.4 433.6 407.5 435.1 407.4 436.6 407.3 438.1 407.4 439.6 407.3"/><path d="M280.6 419.8 282.1 418.8 283.6 417.8 285.1 417.1 286.6 416.1 288.1 415.7 289.6 415.0 291.1 414.5 292.6 414.2 294.1 413.8 295.6 413.6 297.1 413.2 298.6 413.0 300.1 412.9 301.6 412.8 303.1 412.7 304.6 412.7 306.1 412.5 307.6 412.5 309.1 412.5 310.6 412.5 312.1 412.4 313.6 412.5 315.1 412.4 316.6 412.5 318.1 412.7 319.6 412.6 321.1 412.4 322.6 412.5 324.1 412.5 325.6 412.7 327.1 412.7 328.6 412.6 330.1 412.7 331.6 412.5 333.1 412.5 334.6 412.3 336.1 412.5 337.6 412.4 339.1 412.4 340.6 412.2 342.1 412.2 343.6 412.2 345.1 412.2 346.6 412.1 348.1 412.1 349.6 412.0 351.1 411.9 352.6 412.0 354.1 412.1 355.6 412.2 357.1 412.2 358.6 412.2 360.1 412.2 361.6 412.4 363.1 412.4 364.6 412.4 366.1 412.5 367.6 412.5 369.1 412.6 370.6 412.5 372.1 412.3 373.6 412.2 375.1 412.2 376.6 411.9 378.1 411.8 379.6 411.8 381.1 412.0 382.6 412.0 384.1 411.8 385.6 412.0 387.1 412.1 388.6 412.0 390.1 412.0 391.6 412.0 393.1 412.2 394.6 412.1 396.1 412.1 397.6 412.0 399.1 412.0 400.6 411.7 402.1 411.8 403.6 411.8 405.1 411.9 406.6 412.0 408.1 412.1 409.6 412.2 411.1 411.9 412.6 412.1 414.1 412.1 415.6 412.0 417.1 411.9 418.6 411.8 420.1 411.9 421.6 412.0 423.1 412.2 424.6 412.2 426.1 412.0 427.6 411.9 429.1 412.0 430.6 411.9 432.1 412.1 433.6 412.1 435.1 412.1 436.6 411.9 438.1 411.9 439.6 412.0"/><path d="M280.6 417.3 282.1 415.2 283.6 413.1 285.1 411.5 286.6 410.0 288.1 408.5 289.6 407.3 291.1 406.2 292.6 405.1 294.1 404.2 295.6 403.5 297.1 403.0 298.6 402.3 300.1 401.9 301.6 401.3 303.1 400.8 304.6 400.5 306.1 400.1 307.6 399.8 309.1 399.5 310.6 399.2 312.1 399.0 313.6 399.1 315.1 398.8 316.6 398.8 318.1 398.8 319.6 398.5 321.1 398.4 322.6 398.4 324.1 398.4 325.6 398.3 327.1 398.3 328.6 398.3 330.1 398.2 331.6 398.2 333.1 398.2 334.6 398.1 336.1 398.2 337.6 398.1 339.1 398.1 340.6 398.1 342.1 398.2 343.6 398.0 345.1 398.0 346.6 397.9 348.1 397.8 349.6 397.7 351.1 397.8 352.6 397.6 354.1 397.6 355.6 397.5 357.1 397.8 358.6 397.9 360.1 397.7 361.6 397.8 363.1 397.8 364.6 397.7 366.1 397.6 367.6 397.4 369.1 397.5 370.6 397.6 372.1 397.6 373.6 397.9 375.1 397.8 376.6 397.7 378.1 397.9 379.6 397.9 381.1 398.1 382.6 398.0 384.1 397.9 385.6 398.0 387.1 397.9 388.6 398.0 390.1 398.1 391.6 398.1 393.1 398.1 394.6 398.0 396.1 397.9 397.6 397.8 399.1 397.8 400.6 397.8 402.1 397.7 403.6 397.8 405.1 397.7 406.6 397.8 408.1 397.8 409.6 397.9 411.1 398.0 412.6 398.1 414.1 398.0 415.6 398.0 417.1 398.1 418.6 398.0 420.1 397.8 421.6 397.9 423.1 398.0 424.6 398.0 426.1 397.9 427.6 398.1 429.1 398.0 430.6 398.1 432.1 398.2 433.6 398.1 435.1 397.7 436.6 397.7 438.1 397.8 439.6 397.9"/><path d="M280.6 429.6 282.1 429.3 283.6 429.2 285.1 429.2 286.6 429.2 288.1 428.9 289.6 428.9 291.1 428.6 292.6 428.7 294.1 428.4 295.6 428.3 297.1 428.3 298.6 427.9 300.1 427.6 301.6 427.5 303.1 427.4 304.6 427.3 306.1 427.1 307.6 427.0 309.1 426.8 310.6 426.8 312.1 426.6 313.6 426.7 315.1 426.7 316.6 426.6 318.1 426.6 319.6 426.5 321.1 426.4 322.6 426.6 324.1 426.8 325.6 426.8 327.1 426.8 328.6 427.0 330.1 426.8 331.6 426.7 333.1 426.8 334.6 426.7 336.1 426.8 337.6 426.7 339.1 426.6 340.6 426.5 342.1 426.5 343.6 426.5 345.1 426.5 346.6 426.5 348.1 426.4 349.6 426.2 351.1 426.2 352.6 426.1 354.1 426.3 355.6 426.1 357.1 426.1 358.6 426.0 360.1 426.1 361.6 426.0 363.1 425.9 364.6 425.8 366.1 425.8 367.6 425.8 369.1 425.7 370.6 425.7 372.1 425.7 373.6 425.8 375.1 425.9 376.6 426.2 378.1 426.2 379.6 426.2 381.1 426.3 382.6 426.4 384.1 426.4 385.6 426.3 387.1 426.4 388.6 426.3 390.1 426.3 391.6 426.3 393.1 426.3 394.6 426.2 396.1 426.2 397.6 426.5 399.1 426.5 400.6 426.5 402.1 426.5 403.6 426.4 405.1 426.5 406.6 426.7 408.1 426.7 409.6 426.6 411.1 426.5 412.6 426.3 414.1 426.3 415.6 426.2 417.1 426.3 418.6 426.4 420.1 426.5 421.6 426.6 423.1 426.6 424.6 426.6 426.1 426.4 427.6 426.3 429.1 426.3 430.6 426.3 432.1 426.4 433.6 426.5 435.1 426.5 436.6 426.5 438.1 426.6 439.6 426.5"/><path d="M280.6 425.7 282.1 425.5 283.6 425.5 285.1 425.4 286.6 425.1 288.1 425.1 289.6 425.0 291.1 424.9 292.6 424.9 294.1 425.0 295.6 424.9 297.1 424.8 298.6 424.6 300.1 424.7 301.6 424.7 303.1 424.8 304.6 424.7 306.1 424.5 307.6 424.4 309.1 424.7 310.6 424.7 312.1 424.8 313.6 424.7 315.1 424.6 316.6 424.6 318.1 424.7 319.6 424.8 321.1 424.8 322.6 425.0 324.1 425.0 325.6 424.9 327.1 424.8 328.6 424.8 330.1 424.8 331.6 424.9 333.1 424.9 334.6 424.8 336.1 424.9 337.6 424.7 339.1 424.7 340.6 424.6 342.1 424.6 343.6 424.8 345.1 424.9 346.6 425.0 348.1 424.8 349.6 424.8 351.1 425.0 352.6 424.9 354.1 424.9 355.6 425.0 357.1 425.0 358.6 425.0 360.1 424.8 361.6 424.8 363.1 424.7 364.6 424.7 366.1 424.9 367.6 425.1 369.1 425.0 370.6 424.7 372.1 424.7 373.6 424.9 375.1 424.9 376.6 424.9 378.1 425.0 379.6 424.8 381.1 424.9 382.6 424.9 384.1 424.9 385.6 425.0 387.1 424.9 388.6 424.7 390.1 424.8 391.6 424.6 393.1 424.4 394.6 424.4 396.1 424.5 397.6 424.7 399.1 424.8 400.6 424.7 402.1 424.8 403.6 424.6 405.1 424.6 406.6 424.7 408.1 424.7 409.6 424.6 411.1 424.8 412.6 424.7 414.1 424.7 415.6 424.7 417.1 424.7 418.6 424.7 420.1 424.5 421.6 424.5 423.1 424.6 424.6 424.5 426.1 424.5 427.6 424.5 429.1 424.5 430.6 424.7 432.1 424.8 433.6 424.7 435.1 424.6 436.6 424.6 438.1 424.6 439.6 424.7"/><path d="M280.6 432.1 282.1 432.1 283.6 431.9 285.1 431.5 286.6 431.3 288.1 431.3 289.6 431.1 291.1 431.1 292.6 431.0 294.1 430.7 295.6 430.7 297.1 430.7 298.6 430.7 300.1 430.7 301.6 430.6 303.1 430.4 304.6 430.4 306.1 430.5 307.6 430.5 309.1 430.6 310.6 430.5 312.1 430.4 313.6 430.3 315.1 430.3 316.6 430.5 318.1 430.5 319.6 430.7 321.1 430.7 322.6 430.5 324.1 430.6 325.6 430.8 327.1 430.6 328.6 430.4 330.1 430.4 331.6 430.5 333.1 430.5 334.6 430.6 336.1 430.6 337.6 430.5 339.1 430.5 340.6 430.6 342.1 430.4 343.6 430.5 345.1 430.6 346.6 430.5 348.1 430.5 349.6 430.6 351.1 430.6 352.6 430.5 354.1 430.6 355.6 430.6 357.1 430.4 358.6 430.5 360.1 430.7 361.6 430.5 363.1 430.3 364.6 430.0 366.1 430.1 367.6 430.1 369.1 429.9 370.6 430.2 372.1 430.3 373.6 430.3 375.1 430.3 376.6 430.5 378.1 430.7 379.6 430.8 381.1 430.8 382.6 431.0 384.1 430.8 385.6 430.7 387.1 430.7 388.6 430.6 390.1 430.6 391.6 430.5 393.1 430.5 394.6 430.3 396.1 430.2 397.6 430.1 399.1 429.9 400.6 430.0 402.1 430.1 403.6 429.9 405.1 430.0 406.6 430.0 408.1 429.8 409.6 429.9 411.1 429.9 412.6 429.9 414.1 429.9 415.6 429.8 417.1 429.9 418.6 430.0 420.1 429.9 421.6 430.0 423.1 430.2 424.6 430.2 426.1 430.5 427.6 430.4 429.1 430.4 430.6 430.6 432.1 430.8 433.6 430.8 435.1 430.7 436.6 430.7 438.1 430.9 439.6 430.8"/><path d="M280.6 422.4 282.1 421.9 283.6 421.4 285.1 420.9 286.6 420.6 288.1 420.2 289.6 419.8 291.1 419.4 292.6 419.2 294.1 419.0 295.6 418.6 297.1 418.4 298.6 418.2 300.1 418.1 301.6 418.0 303.1 417.9 304.6 418.0 306.1 417.8 307.6 417.9 309.1 417.8 310.6 417.7 312.1 417.7 313.6 417.6 315.1 417.5 316.6 417.5 318.1 417.4 319.6 417.4 321.1 417.3 322.6 417.4 324.1 417.3 325.6 417.4 327.1 417.1 328.6 417.1 330.1 416.9 331.6 417.0 333.1 417.2 334.6 417.2 336.1 417.3 337.6 417.4 339.1 417.3 340.6 417.2 342.1 417.4 343.6 417.4 345.1 417.3 346.6 417.1 348.1 417.1 349.6 417.1 351.1 417.0 352.6 416.9 354.1 416.9 355.6 416.9 357.1 416.8 358.6 416.9 360.1 417.1 361.6 417.0 363.1 416.9 364.6 416.9 366.1 416.9 367.6 416.9 369.1 416.8 370.6 416.9 372.1 416.8 373.6 417.0 375.1 416.8 376.6 416.9 378.1 416.9 379.6 416.8 381.1 416.8 382.6 416.9 384.1 416.9 385.6 416.9 387.1 416.9 388.6 416.7 390.1 416.9 391.6 416.8 393.1 416.9 394.6 416.9 396.1 416.9 397.6 417.0 399.1 417.0 400.6 416.9 402.1 416.8 403.6 416.9 405.1 416.8 406.6 416.9 408.1 416.9 409.6 416.9 411.1 416.9 412.6 416.8 414.1 416.9 415.6 416.7 417.1 416.6 418.6 416.7 420.1 416.6 421.6 416.8 423.1 416.6 424.6 416.7 426.1 416.7 427.6 416.7 429.1 416.6 430.6 416.7 432.1 416.6 433.6 416.6 435.1 416.7 436.6 416.8 438.1 416.8 439.6 416.9"/><path d="M280.6 413.0 282.1 411.9 283.6 410.6 285.1 409.6 286.6 408.7 288.1 407.8 289.6 406.9 291.1 405.9 292.6 405.2 294.1 404.3 295.6 403.7 297.1 403.3 298.6 402.7 300.1 402.1 301.6 401.4 303.1 400.9 304.6 400.6 306.1 400.1 307.6 399.8 309.1 399.3 310.6 398.9 312.1 398.7 313.6 398.4 315.1 397.9 316.6 397.6 318.1 397.4 319.6 397.2 321.1 397.2 322.6 396.9 324.1 396.8 325.6 396.6 327.1 396.4 328.6 396.0 330.1 396.1 331.6 395.9 333.1 395.8 334.6 395.9 336.1 395.7 337.6 395.7 339.1 395.7 340.6 395.6 342.1 395.5 343.6 395.6 345.1 395.7 346.6 395.5 348.1 395.5 349.6 395.5 351.1 395.5 352.6 395.6 354.1 395.5 355.6 395.4 357.1 395.3 358.6 395.2 360.1 394.9 361.6 395.0 363.1 395.2 364.6 395.1 366.1 395.1 367.6 395.4 369.1 395.4 370.6 395.3 372.1 395.4 373.6 395.4 375.1 395.5 376.6 395.3 378.1 395.2 379.6 395.2 381.1 395.3 382.6 395.4 384.1 395.5 385.6 395.3 387.1 395.3 388.6 395.2 390.1 395.1 391.6 395.3 393.1 395.4 394.6 395.3 396.1 395.1 397.6 395.1 399.1 395.2 400.6 395.5 402.1 395.5 403.6 395.3 405.1 395.1 406.6 395.2 408.1 395.3 409.6 395.2 411.1 395.1 412.6 395.1 414.1 395.2 415.6 395.1 417.1 395.0 418.6 395.1 420.1 395.3 421.6 395.2 423.1 395.2 424.6 395.1 426.1 395.1 427.6 395.2 429.1 395.2 430.6 395.3 432.1 395.2 433.6 395.0 435.1 395.0 436.6 395.3 438.1 395.4 439.6 395.3"/><path d="M280.6 414.7 282.1 413.6 283.6 412.8 285.1 411.8 286.6 411.1 288.1 410.4 289.6 409.8 291.1 409.3 292.6 408.8 294.1 408.4 295.6 408.1 297.1 407.8 298.6 407.5 300.1 407.3 301.6 406.9 303.1 406.7 304.6 406.6 306.1 406.6 307.6 406.5 309.1 406.6 310.6 406.2 312.1 406.1 313.6 406.0 315.1 405.7 316.6 405.7 318.1 405.5 319.6 405.4 321.1 405.4 322.6 405.3 324.1 405.1 325.6 405.1 327.1 404.9 328.6 404.9 330.1 404.7 331.6 404.6 333.1 404.4 334.6 404.6 336.1 404.3 337.6 404.6 339.1 404.6 340.6 404.7 342.1 404.6 343.6 404.5 345.1 404.3 346.6 404.3 348.1 404.2 349.6 404.3 351.1 404.2 352.6 404.2 354.1 404.1 355.6 404.1 357.1 404.1 358.6 404.2 360.1 404.2 361.6 404.2 363.1 404.2 364.6 404.5 366.1 404.4 367.6 404.3 369.1 404.1 370.6 404.0 372.1 404.0 373.6 403.9 375.1 404.0 376.6 404.2 378.1 404.2 379.6 404.1 381.1 404.0 382.6 403.9 384.1 404.0 385.6 404.0 387.1 403.9 388.6 403.9 390.1 403.7 391.6 403.9 393.1 403.7 394.6 403.7 396.1 403.7 397.6 403.8 399.1 403.7 400.6 403.8 402.1 403.8 403.6 403.9 405.1 403.9 406.6 404.1 408.1 404.0 409.6 404.1 411.1 404.1 412.6 404.0 414.1 404.0 415.6 404.0 417.1 404.2 418.6 404.1 420.1 404.2 421.6 404.3 423.1 404.5 424.6 404.6 426.1 404.6 427.6 404.5 429.1 404.5 430.6 404.3 432.1 404.3 433.6 404.2 435.1 404.2 436.6 404.1 438.1 404.2 439.6 404.3"/><path d="M280.6 418.5 282.1 418.5 283.6 418.3 285.1 418.2 286.6 418.1 288.1 418.0 289.6 417.9 291.1 417.6 292.6 417.6 294.1 417.5 295.6 417.5 297.1 417.5 298.6 417.7 300.1 417.8 301.6 417.7 303.1 418.0 304.6 418.0 306.1 418.0 307.6 417.8 309.1 417.8 310.6 417.6 312.1 417.7 313.6 417.9 315.1 418.2 316.6 418.2 318.1 418.2 319.6 418.2 321.1 418.0 322.6 418.0 324.1 418.1 325.6 417.9 327.1 418.0 328.6 417.9 330.1 418.0 331.6 418.0 333.1 418.0 334.6 418.1 336.1 418.3 337.6 418.1 339.1 418.1 340.6 418.0 342.1 417.9 343.6 417.8 345.1 417.8 346.6 417.8 348.1 417.8 349.6 417.9 351.1 417.7 352.6 417.6 354.1 417.8 355.6 417.7 357.1 417.6 358.6 417.6 360.1 417.6 361.6 417.6 363.1 417.6 364.6 417.5 366.1 417.5 367.6 417.6 369.1 417.5 370.6 417.6 372.1 417.7 373.6 417.6 375.1 417.7 376.6 417.7 378.1 417.7 379.6 417.8 381.1 417.8 382.6 417.9 384.1 417.9 385.6 417.7 387.1 417.6 388.6 417.7 390.1 417.6 391.6 417.7 393.1 417.6 394.6 417.6 396.1 417.6 397.6 417.7 399.1 417.9 400.6 417.9 402.1 417.8 403.6 417.7 405.1 417.7 406.6 417.8 408.1 417.7 409.6 417.7 411.1 417.8 412.6 417.8 414.1 417.7 415.6 417.8 417.1 417.7 418.6 417.7 420.1 417.7 421.6 417.7 423.1 417.4 424.6 417.4 426.1 417.3 427.6 417.4 429.1 417.4 430.6 417.4 432.1 417.3 433.6 417.4 435.1 417.5 436.6 417.6 438.1 417.6 439.6 417.5"/><path d="M280.6 422.5 282.1 421.5 283.6 421.0 285.1 420.4 286.6 420.0 288.1 419.5 289.6 419.2 291.1 418.9 292.6 418.6 294.1 418.3 295.6 418.1 297.1 417.9 298.6 417.7 300.1 417.5 301.6 417.2 303.1 417.0 304.6 416.9 306.1 416.5 307.6 416.4 309.1 416.3 310.6 416.2 312.1 416.2 313.6 415.9 315.1 416.0 316.6 415.9 318.1 415.8 319.6 415.9 321.1 415.8 322.6 415.7 324.1 415.7 325.6 415.6 327.1 415.7 328.6 415.8 330.1 415.6 331.6 415.7 333.1 415.7 334.6 415.6 336.1 415.7 337.6 415.7 339.1 415.9 340.6 415.9 342.1 415.8 343.6 415.8 345.1 415.9 346.6 415.9 348.1 415.9 349.6 416.1 351.1 416.1 352.6 415.9 354.1 416.0 355.6 416.2 357.1 415.9 358.6 415.9 360.1 415.7 361.6 415.7 363.1 415.6 364.6 415.5 366.1 415.7 367.6 416.0 369.1 416.0 370.6 416.0 372.1 416.2 373.6 415.9 375.1 416.1 376.6 415.9 378.1 416.0 379.6 416.0 381.1 416.1 382.6 416.1 384.1 416.2 385.6 416.1 387.1 416.0 388.6 416.2 390.1 416.3 391.6 416.1 393.1 416.1 394.6 416.1 396.1 416.1 397.6 416.1 399.1 416.0 400.6 416.1 402.1 415.9 403.6 416.0 405.1 416.0 406.6 416.0 408.1 415.9 409.6 416.0 411.1 415.9 412.6 415.9 414.1 415.9 415.6 415.7 417.1 415.9 418.6 415.9 420.1 415.8 421.6 415.7 423.1 415.7 424.6 415.7 426.1 415.7 427.6 415.6 429.1 415.6 430.6 415.6 432.1 415.6 433.6 415.7 435.1 415.7 436.6 415.6 438.1 415.6 439.6 415.6"/><path d="M280.6 428.5 282.1 428.0 283.6 427.8 285.1 427.8 286.6 427.6 288.1 427.3 289.6 427.5 291.1 427.2 292.6 427.1 294.1 427.3 295.6 427.2 297.1 427.1 298.6 427.1 300.1 427.2 301.6 427.2 303.1 427.1 304.6 427.1 306.1 427.2 307.6 427.1 309.1 427.0 310.6 426.9 312.1 427.2 313.6 427.2 315.1 427.0 316.6 426.8 318.1 426.8 319.6 426.7 321.1 426.9 322.6 426.8 324.1 426.7 325.6 426.6 327.1 426.3 328.6 426.4 330.1 426.2 331.6 426.5 333.1 426.5 334.6 426.4 336.1 426.5 337.6 426.6 339.1 426.7 340.6 426.5 342.1 426.6 343.6 426.7 345.1 426.6 346.6 426.4 348.1 426.3 349.6 426.2 351.1 426.1 352.6 426.1 354.1 426.1 355.6 426.1 357.1 426.3 358.6 426.3 360.1 426.3 361.6 426.2 363.1 426.5 364.6 426.4 366.1 426.3 367.6 426.6 369.1 426.5 370.6 426.3 372.1 426.3 373.6 426.2 375.1 426.4 376.6 426.2 378.1 426.4 379.6 426.6 381.1 426.6 382.6 426.6 384.1 426.7 385.6 426.7 387.1 426.7 388.6 426.6 390.1 426.6 391.6 426.6 393.1 426.5 394.6 426.4 396.1 426.3 397.6 426.3 399.1 426.3 400.6 426.4 402.1 426.5 403.6 426.6 405.1 426.5 406.6 426.5 408.1 426.7 409.6 426.6 411.1 426.7 412.6 426.7 414.1 426.8 415.6 426.9 417.1 426.8 418.6 426.8 420.1 426.8 421.6 426.8 423.1 426.8 424.6 426.8 426.1 426.8 427.6 426.9 429.1 426.9 430.6 426.9 432.1 426.7 433.6 426.6 435.1 426.5 436.6 426.4 438.1 426.2 439.6 426.1"/><path d="M280.6 418.7 282.1 418.6 283.6 418.4 285.1 418.3 286.6 418.0 288.1 417.7 289.6 417.6 291.1 417.6 292.6 417.5 294.1 417.2 295.6 417.1 297.1 416.9 298.6 417.0 300.1 417.0 301.6 417.1 303.1 417.0 304.6 417.0 306.1 417.0 307.6 417.0 309.1 417.0 310.6 416.8 312.1 416.8 313.6 416.8 315.1 416.5 316.6 416.4 318.1 416.2 319.6 416.3 321.1 416.3 322.6 416.3 324.1 416.4 325.6 416.4 327.1 416.4 328.6 416.4 330.1 416.4 331.6 416.4 333.1 416.4 334.6 416.4 336.1 416.5 337.6 416.6 339.1 416.4 340.6 416.6 342.1 416.5 343.6 416.6 345.1 416.6 346.6 416.6 348.1 416.7 349.6 416.8 351.1 416.7 352.6 416.5 354.1 416.5 355.6 416.5 357.1 416.5 358.6 416.5 360.1 416.6 361.6 416.5 363.1 416.5 364.6 416.5 366.1 416.4 367.6 416.4 369.1 416.3 370.6 416.2 372.1 416.5 373.6 416.5 375.1 416.5 376.6 416.4 378.1 416.5 379.6 416.5 381.1 416.7 382.6 416.9 384.1 416.9 385.6 416.9 387.1 416.8 388.6 416.7 390.1 416.6 391.6 416.5 393.1 416.5 394.6 416.6 396.1 416.5 397.6 416.3 399.1 416.6 400.6 416.6 402.1 416.6 403.6 416.7 405.1 416.9 406.6 416.8 408.1 416.7 409.6 416.7 411.1 416.8 412.6 416.7 414.1 416.8 415.6 416.8 417.1 416.9 418.6 417.0 420.1 417.0 421.6 416.9 423.1 416.9 424.6 416.8 426.1 416.8 427.6 416.7 429.1 416.8 430.6 416.7 432.1 416.8 433.6 416.6 435.1 416.6 436.6 416.7 438.1 416.7 439.6 416.7"/><path d="M280.6 421.1 282.1 420.1 283.6 419.2 285.1 418.4 286.6 417.8 288.1 417.4 289.6 417.1 291.1 416.6 292.6 416.4 294.1 416.2 295.6 416.0 297.1 415.8 298.6 415.8 300.1 415.8 301.6 415.8 303.1 415.8 304.6 415.8 306.1 415.8 307.6 415.7 309.1 415.6 310.6 415.6 312.1 415.5 313.6 415.2 315.1 415.4 316.6 415.3 318.1 415.1 319.6 415.2 321.1 415.2 322.6 415.2 324.1 415.3 325.6 415.3 327.1 415.3 328.6 415.3 330.1 415.3 331.6 415.3 333.1 415.4 334.6 415.3 336.1 415.4 337.6 415.3 339.1 415.5 340.6 415.4 342.1 415.6 343.6 415.7 345.1 415.7 346.6 415.7 348.1 415.8 349.6 415.9 351.1 415.8 352.6 415.5 354.1 415.4 355.6 415.6 357.1 415.7 358.6 415.6 360.1 415.4 361.6 415.5 363.1 415.9 364.6 416.0 366.1 416.2 367.6 416.2 369.1 415.9 370.6 415.9 372.1 416.0 373.6 415.8 375.1 415.9 376.6 415.7 378.1 415.5 379.6 415.6 381.1 415.5 382.6 415.6 384.1 415.5 385.6 415.7 387.1 415.7 388.6 415.6 390.1 415.7 391.6 415.7 393.1 415.5 394.6 415.5 396.1 415.6 397.6 415.7 399.1 415.7 400.6 415.8 402.1 415.8 403.6 416.0 405.1 415.9 406.6 415.8 408.1 415.8 409.6 415.9 411.1 415.8 412.6 415.7 414.1 415.7 415.6 415.7 417.1 415.9 418.6 415.9 420.1 416.0 421.6 415.8 423.1 415.6 424.6 415.6 426.1 415.7 427.6 415.9 429.1 416.0 430.6 416.0 432.1 415.9 433.6 415.9 435.1 415.8 436.6 415.6 438.1 415.5 439.6 415.5"/><path d="M280.6 427.4 282.1 427.3 283.6 427.2 285.1 427.2 286.6 427.2 288.1 427.1 289.6 426.8 291.1 426.8 292.6 426.7 294.1 426.5 295.6 426.7 297.1 426.7 298.6 426.9 300.1 426.8 301.6 426.9 303.1 426.9 304.6 426.9 306.1 427.0 307.6 427.0 309.1 427.0 310.6 427.1 312.1 427.1 313.6 427.3 315.1 427.2 316.6 427.2 318.1 426.9 319.6 426.9 321.1 427.0 322.6 427.0 324.1 427.0 325.6 427.2 327.1 427.2 328.6 427.1 330.1 427.1 331.6 427.0 333.1 426.9 334.6 427.0 336.1 427.3 337.6 427.2 339.1 427.1 340.6 427.2 342.1 427.3 343.6 427.3 345.1 427.3 346.6 427.1 348.1 427.0 349.6 427.1 351.1 427.2 352.6 427.1 354.1 427.2 355.6 427.1 357.1 426.9 358.6 426.9 360.1 426.9 361.6 426.9 363.1 426.9 364.6 426.9 366.1 427.0 367.6 427.1 369.1 427.0 370.6 427.0 372.1 427.0 373.6 427.0 375.1 427.1 376.6 427.3 378.1 427.3 379.6 427.5 381.1 427.3 382.6 427.2 384.1 427.2 385.6 427.1 387.1 427.1 388.6 426.9 390.1 426.8 391.6 426.8 393.1 426.9 394.6 426.9 396.1 427.0 397.6 426.9 399.1 426.8 400.6 426.9 402.1 426.8 403.6 426.7 405.1 426.7 406.6 426.6 408.1 426.7 409.6 426.8 411.1 427.0 412.6 427.0 414.1 426.9 415.6 427.0 417.1 427.1 418.6 426.8 420.1 426.8 421.6 427.0 423.1 426.9 424.6 426.8 426.1 426.9 427.6 426.7 429.1 426.6 430.6 426.6 432.1 426.7 433.6 426.6 435.1 426.8 436.6 426.7 438.1 426.8 439.6 427.0"/><path d="M280.6 432.1 282.1 431.1 283.6 430.1 285.1 429.0 286.6 428.5 288.1 427.9 289.6 427.4 291.1 426.9 292.6 426.6 294.1 426.2 295.6 426.0 297.1 425.8 298.6 425.7 300.1 425.7 301.6 425.4 303.1 425.1 304.6 425.0 306.1 425.0 307.6 425.1 309.1 424.9 310.6 424.9 312.1 424.9 313.6 424.9 315.1 424.8 316.6 424.7 318.1 424.6 319.6 424.7 321.1 424.7 322.6 424.7 324.1 424.6 325.6 424.5 327.1 424.5 328.6 424.8 330.1 424.8 331.6 424.9 333.1 424.9 334.6 425.0 336.1 424.9 337.6 425.0 339.1 425.1 340.6 425.0 342.1 425.0 343.6 424.9 345.1 425.1 346.6 425.2 348.1 425.2 349.6 425.3 351.1 425.4 352.6 425.4 354.1 425.5 355.6 425.2 357.1 425.1 358.6 424.9 360.1 424.9 361.6 424.7 363.1 424.6 364.6 424.8 366.1 424.8 367.6 424.6 369.1 424.7 370.6 424.8 372.1 425.0 373.6 424.9 375.1 424.9 376.6 424.7 378.1 424.8 379.6 424.8 381.1 424.8 382.6 424.9 384.1 424.8 385.6 424.8 387.1 424.9 388.6 424.9 390.1 425.0 391.6 425.1 393.1 425.3 394.6 425.2 396.1 425.1 397.6 425.1 399.1 425.1 400.6 425.0 402.1 425.0 403.6 424.9 405.1 424.9 406.6 424.9 408.1 424.6 409.6 424.6 411.1 424.5 412.6 424.5 414.1 424.6 415.6 424.7 417.1 424.8 418.6 424.9 420.1 424.8 421.6 424.8 423.1 425.0 424.6 425.0 426.1 424.9 427.6 424.9 429.1 424.9 430.6 424.9 432.1 424.9 433.6 425.1 435.1 425.1 436.6 425.2 438.1 425.2 439.6 425.2"/><path d="M280.6 422.1 282.1 421.7 283.6 421.3 285.1 421.1 286.6 420.7 288.1 420.6 289.6 420.4 291.1 420.2 292.6 420.0 294.1 419.9 295.6 419.7 297.1 419.6 298.6 419.4 300.1 419.2 301.6 419.3 303.1 419.4 304.6 419.3 306.1 419.1 307.6 419.0 309.1 419.0 310.6 419.0 312.1 418.8 313.6 418.6 315.1 418.9 316.6 418.8 318.1 418.8 319.6 418.8 321.1 418.8 322.6 418.7 324.1 418.5 325.6 418.5 327.1 418.5 328.6 418.8 330.1 418.6 331.6 418.5 333.1 418.7 334.6 418.7 336.1 418.7 337.6 418.5 339.1 418.5 340.6 418.4 342.1 418.3 343.6 418.2 345.1 418.1 346.6 418.2 348.1 418.0 349.6 418.3 351.1 418.2 352.6 418.1 354.1 418.0 355.6 417.9 357.1 418.0 358.6 418.0 360.1 417.8 361.6 417.8 363.1 417.8 364.6 417.6 366.1 417.7 367.6 417.6 369.1 417.7 370.6 417.6 372.1 417.6 373.6 417.6 375.1 417.6 376.6 417.7 378.1 417.8 379.6 417.9 381.1 417.9 382.6 417.9 384.1 417.9 385.6 417.8 387.1 417.8 388.6 418.1 390.1 418.1 391.6 418.2 393.1 418.1 394.6 418.1 396.1 418.0 397.6 417.9 399.1 417.8 400.6 417.9 402.1 417.9 403.6 417.8 405.1 417.9 406.6 417.8 408.1 417.9 409.6 417.9 411.1 418.0 412.6 417.9 414.1 417.8 415.6 417.7 417.1 417.9 418.6 418.0 420.1 418.0 421.6 418.0 423.1 418.0 424.6 417.7 426.1 417.6 427.6 417.7 429.1 417.7 430.6 417.5 432.1 417.5 433.6 417.6 435.1 417.4 436.6 417.5 438.1 417.7 439.6 417.7"/><path d="M280.6 414.2 282.1 414.0 283.6 414.0 285.1 414.0 286.6 414.0 288.1 414.2 289.6 414.2 291.1 414.1 292.6 414.1 294.1 413.9 295.6 413.8 297.1 413.8 298.6 413.7 300.1 413.8 301.6 413.6 303.1 413.5 304.6 413.7 306.1 413.9 307.6 413.8 309.1 413.7 310.6 413.6 312.1 413.6 313.6 413.6 315.1 413.6 316.6 413.8 318.1 413.7 319.6 413.8 321.1 413.8 322.6 413.6 324.1 413.5 325.6 413.3 327.1 413.2 328.6 413.1 330.1 413.2 331.6 413.1 333.1 412.9 334.6 412.9 336.1 413.0 337.6 412.9 339.1 413.1 340.6 413.0 342.1 413.0 343.6 412.9 345.1 413.0 346.6 413.0 348.1 413.1 349.6 413.1 351.1 413.3 352.6 413.2 354.1 413.3 355.6 413.3 357.1 413.5 358.6 413.5 360.1 413.4 361.6 413.4 363.1 413.2 364.6 413.2 366.1 413.3 367.6 413.4 369.1 413.4 370.6 413.4 372.1 413.5 373.6 413.6 375.1 413.5 376.6 413.6 378.1 413.7 379.6 413.7 381.1 413.6 382.6 413.5 384.1 413.7 385.6 413.5 387.1 413.8 388.6 413.5 390.1 413.5 391.6 413.5 393.1 413.5 394.6 413.2 396.1 413.3 397.6 413.3 399.1 413.5 400.6 413.4 402.1 413.2 403.6 413.1 405.1 413.1 406.6 413.1 408.1 413.0 409.6 413.2 411.1 413.1 412.6 413.1 414.1 413.0 415.6 412.9 417.1 412.9 418.6 413.0 420.1 413.1 421.6 413.1 423.1 413.2 424.6 413.3 426.1 413.4 427.6 413.5 429.1 413.6 430.6 413.5 432.1 413.4 433.6 413.4 435.1 413.6 436.6 413.5 438.1 413.4 439.6 413.5"/><path d="M280.6 415.4 282.1 415.0 283.6 414.7 285.1 414.3 286.6 413.9 288.1 413.7 289.6 413.4 291.1 413.0 292.6 412.9 294.1 412.7 295.6 412.7 297.1 412.7 298.6 412.6 300.1 412.5 301.6 412.4 303.1 412.4 304.6 412.4 306.1 412.4 307.6 412.3 309.1 412.3 310.6 412.2 312.1 412.2 313.6 412.3 315.1 412.4 316.6 412.4 318.1 412.3 319.6 412.2 321.1 412.1 322.6 412.1 324.1 412.0 325.6 412.1 327.1 412.2 328.6 412.1 330.1 412.2 331.6 412.2 333.1 412.3 334.6 412.1 336.1 412.1 337.6 412.1 339.1 412.1 340.6 412.1 342.1 412.2 343.6 412.2 345.1 412.1 346.6 412.1 348.1 412.4 349.6 412.4 351.1 412.5 352.6 412.7 354.1 412.5 355.6 412.6 357.1 412.6 358.6 412.5 360.1 412.7 361.6 412.7 363.1 412.6 364.6 412.6 366.1 412.5 367.6 412.5 369.1 412.6 370.6 412.5 372.1 412.4 373.6 412.4 375.1 412.7 376.6 412.7 378.1 412.6 379.6 412.6 381.1 412.4 382.6 412.3 384.1 412.2 385.6 412.2 387.1 412.0 388.6 412.1 390.1 412.1 391.6 412.0 393.1 412.1 394.6 412.2 396.1 412.0 397.6 412.3 399.1 412.4 400.6 412.2 402.1 412.3 403.6 412.5 405.1 412.5 406.6 412.5 408.1 412.5 409.6 412.7 411.1 412.8 412.6 412.6 414.1 412.7 415.6 412.6 417.1 412.5 418.6 412.6 420.1 412.6 421.6 412.6 423.1 412.6 424.6 412.5 426.1 412.8 427.6 412.6 429.1 412.5 430.6 412.5 432.1 412.5 433.6 412.3 435.1 412.3 436.6 412.3 438.1 412.4 439.6 412.3"/><path d="M280.6 427.9 282.1 427.2 283.6 426.3 285.1 425.7 286.6 425.3 288.1 424.7 289.6 424.4 291.1 424.0 292.6 423.7 294.1 423.5 295.6 423.2 297.1 423.0 298.6 422.9 300.1 422.9 301.6 422.9 303.1 422.9 304.6 422.6 306.1 422.5 307.6 422.4 309.1 422.3 310.6 422.5 312.1 422.4 313.6 422.5 315.1 422.5 316.6 422.5 318.1 422.4 319.6 422.4 321.1 422.5 322.6 422.5 324.1 422.4 325.6 422.4 327.1 422.5 328.6 422.4 330.1 422.5 331.6 422.5 333.1 422.5 334.6 422.5 336.1 422.4 337.6 422.5 339.1 422.5 340.6 422.5 342.1 422.3 343.6 422.4 345.1 422.7 346.6 422.7 348.1 422.6 349.6 422.5 351.1 422.4 352.6 422.4 354.1 422.5 355.6 422.5 357.1 422.4 358.6 422.4 360.1 422.4 361.6 422.5 363.1 422.5 364.6 422.5 366.1 422.5 367.6 422.6 369.1 422.7 370.6 422.8 372.1 422.7 373.6 422.7 375.1 422.7 376.6 422.6 378.1 422.8 379.6 422.6 381.1 422.4 382.6 422.3 384.1 422.2 385.6 422.4 387.1 422.3 388.6 422.4 390.1 422.2 391.6 422.4 393.1 422.5 394.6 422.6 396.1 422.7 397.6 422.6 399.1 422.7 400.6 422.5 402.1 422.5 403.6 422.4 405.1 422.5 406.6 422.4 408.1 422.5 409.6 422.3 411.1 422.4 412.6 422.2 414.1 422.1 415.6 422.1 417.1 422.2 418.6 422.4 420.1 422.4 421.6 422.3 423.1 422.3 424.6 422.4 426.1 422.4 427.6 422.4 429.1 422.3 430.6 422.3 432.1 422.3 433.6 422.3 435.1 422.2 436.6 422.2 438.1 422.3 439.6 422.4"/><path d="M280.6 431.7 282.1 431.2 283.6 430.5 285.1 430.0 286.6 429.7 288.1 429.4 289.6 429.2 291.1 429.0 292.6 428.6 294.1 428.4 295.6 428.1 297.1 428.0 298.6 427.7 300.1 427.5 301.6 427.4 303.1 427.2 304.6 427.0 306.1 427.1 307.6 427.0 309.1 426.9 310.6 426.9 312.1 426.7 313.6 426.5 315.1 426.4 316.6 426.3 318.1 425.9 319.6 425.9 321.1 425.7 322.6 425.5 324.1 425.3 325.6 425.3 327.1 425.4 328.6 425.6 330.1 425.5 331.6 425.5 333.1 425.6 334.6 425.6 336.1 425.4 337.6 425.6 339.1 425.6 340.6 425.6 342.1 425.4 343.6 425.3 345.1 425.4 346.6 425.6 348.1 425.3 349.6 425.5 351.1 425.4 352.6 425.3 354.1 425.2 355.6 425.1 357.1 425.1 358.6 424.9 360.1 424.8 361.6 424.9 363.1 424.6 364.6 424.7 366.1 424.8 367.6 424.7 369.1 424.7 370.6 424.7 372.1 424.8 373.6 424.7 375.1 424.8 376.6 424.9 378.1 424.8 379.6 424.9 381.1 424.8 382.6 424.9 384.1 424.7 385.6 424.8 387.1 424.8 388.6 424.9 390.1 425.0 391.6 424.8 393.1 424.7 394.6 424.8 396.1 424.7 397.6 424.6 399.1 424.5 400.6 424.5 402.1 424.5 403.6 424.8 405.1 424.8 406.6 424.9 408.1 424.8 409.6 424.7 411.1 424.6 412.6 424.6 414.1 424.4 415.6 424.4 417.1 424.4 418.6 424.2 420.1 424.2 421.6 424.3 423.1 424.4 424.6 424.6 426.1 424.6 427.6 424.7 429.1 424.7 430.6 424.7 432.1 424.8 433.6 424.8 435.1 424.7 436.6 424.7 438.1 424.6 439.6 424.7"/><path d="M280.6 419.5 282.1 418.3 283.6 417.4 285.1 416.7 286.6 416.2 288.1 415.5 289.6 415.0 291.1 414.7 292.6 414.2 294.1 414.0 295.6 413.7 297.1 413.3 298.6 413.2 300.1 413.0 301.6 412.7 303.1 412.6 304.6 412.4 306.1 412.3 307.6 412.3 309.1 412.4 310.6 412.3 312.1 412.3 313.6 412.2 315.1 412.2 316.6 412.2 318.1 412.3 319.6 412.2 321.1 412.2 322.6 412.2 324.1 412.3 325.6 412.3 327.1 412.3 328.6 412.4 330.1 412.1 331.6 412.2 333.1 412.3 334.6 412.2 336.1 412.1 337.6 412.1 339.1 412.0 340.6 412.2 342.1 412.1 343.6 412.2 345.1 412.3 346.6 412.3 348.1 412.3 349.6 412.2 351.1 412.2 352.6 412.3 354.1 412.3 355.6 412.5 357.1 412.6 358.6 412.5 360.1 412.5 361.6 412.7 363.1 412.5 364.6 412.3 366.1 412.3 367.6 412.3 369.1 412.2 370.6 412.2 372.1 412.2 373.6 412.1 375.1 412.2 376.6 412.0 378.1 412.2 379.6 412.1 381.1 412.2 382.6 412.2 384.1 412.2 385.6 412.3 387.1 412.1 388.6 412.1 390.1 412.0 391.6 412.0 393.1 411.9 394.6 411.7 396.1 411.7 397.6 411.4 399.1 411.5 400.6 411.5 402.1 411.6 403.6 411.6 405.1 411.7 406.6 411.5 408.1 411.6 409.6 411.5 411.1 411.5 412.6 411.7 414.1 411.6 415.6 411.6 417.1 411.7 418.6 411.7 420.1 411.9 421.6 411.9 423.1 411.9 424.6 411.8 426.1 411.7 427.6 411.8 429.1 411.8 430.6 412.0 432.1 412.0 433.6 411.9 435.1 412.1 436.6 412.0 438.1 412.0 439.6 412.1"/><path d="M280.6 415.5 282.1 415.4 283.6 415.1 285.1 415.1 286.6 414.8 288.1 414.7 289.6 414.6 291.1 414.6 292.6 414.7 294.1 414.7 295.6 414.8 297.1 414.5 298.6 414.3 300.1 414.2 301.6 414.3 303.1 414.3 304.6 414.2 306.1 414.0 307.6 414.0 309.1 414.0 310.6 414.0 312.1 414.0 313.6 414.0 315.1 414.2 316.6 414.1 318.1 414.2 319.6 414.0 321.1 414.0 322.6 413.9 324.1 414.0 325.6 414.0 327.1 414.1 328.6 414.3 330.1 414.3 331.6 414.4 333.1 414.6 334.6 414.6 336.1 414.5 337.6 414.5 339.1 414.2 340.6 414.4 342.1 414.3 343.6 414.3 345.1 414.6 346.6 414.5 348.1 414.3 349.6 414.3 351.1 414.4 352.6 414.4 354.1 414.5 355.6 414.5 357.1 414.5 358.6 414.3 360.1 414.3 361.6 414.3 363.1 414.3 364.6 414.3 366.1 414.3 367.6 414.3 369.1 414.2 370.6 414.2 372.1 414.0 373.6 413.9 375.1 414.0 376.6 414.1 378.1 414.3 379.6 414.4 381.1 414.2 382.6 414.2 384.1 414.2 385.6 414.2 387.1 414.4 388.6 414.4 390.1 414.3 391.6 414.3 393.1 414.3 394.6 414.2 396.1 414.3 397.6 414.3 399.1 414.2 400.6 414.3 402.1 414.3 403.6 414.0 405.1 414.0 406.6 414.1 408.1 414.2 409.6 414.1 411.1 414.2 412.6 414.4 414.1 414.2 415.6 414.2 417.1 414.1 418.6 414.3 420.1 414.4 421.6 414.4 423.1 414.3 424.6 414.3 426.1 414.3 427.6 414.4 429.1 414.2 430.6 414.2 432.1 414.3 433.6 414.4 435.1 414.4 436.6 414.6 438.1 414.8 439.6 414.8"/><path d="M280.6 417.4 282.1 416.7 283.6 416.1 285.1 415.6 286.6 415.0 288.1 414.6 289.6 414.3 291.1 414.0 292.6 413.6 294.1 413.4 295.6 413.1 297.1 412.9 298.6 412.7 300.1 412.5 301.6 412.5 303.1 412.5 304.6 412.4 306.1 412.2 307.6 412.2 309.1 412.2 310.6 412.1 312.1 412.2 313.6 412.0 315.1 412.0 316.6 412.1 318.1 412.2 319.6 412.3 321.1 412.3 322.6 412.5 324.1 412.5 325.6 412.5 327.1 412.4 328.6 412.4 330.1 412.5 331.6 412.5 333.1 412.4 334.6 412.3 336.1 412.2 337.6 412.2 339.1 412.3 340.6 412.5 342.1 412.5 343.6 412.4 345.1 412.3 346.6 412.4 348.1 412.3 349.6 412.1 351.1 412.1 352.6 412.2 354.1 412.0 355.6 412.0 357.1 412.0 358.6 411.7 360.1 411.5 361.6 411.3 363.1 411.4 364.6 411.5 366.1 411.5 367.6 411.6 369.1 411.6 370.6 411.5 372.1 411.4 373.6 411.6 375.1 411.5 376.6 411.5 378.1 411.6 379.6 411.6 381.1 411.3 382.6 411.3 384.1 411.4 385.6 411.5 387.1 411.5 388.6 411.5 390.1 411.6 391.6 411.5 393.1 411.5 394.6 411.6 396.1 411.7 397.6 411.7 399.1 411.7 400.6 411.6 402.1 411.6 403.6 411.8 405.1 411.7 406.6 411.8 408.1 411.8 409.6 411.8 411.1 411.7 412.6 411.7 414.1 411.8 415.6 411.8 417.1 411.9 418.6 411.9 420.1 411.8 421.6 412.0 423.1 411.9 424.6 411.8 426.1 411.8 427.6 411.9 429.1 411.6 430.6 411.7 432.1 411.8 433.6 411.7 435.1 411.8 436.6 411.8 438.1 411.8 439.6 411.8"/><path d="M280.6 429.8 282.1 429.3 283.6 428.9 285.1 428.7 286.6 428.5 288.1 428.1 289.6 428.1 291.1 427.9 292.6 427.8 294.1 427.7 295.6 427.5 297.1 427.5 298.6 427.4 300.1 427.2 301.6 427.2 303.1 426.8 304.6 426.7 306.1 426.7 307.6 426.4 309.1 426.2 310.6 426.1 312.1 426.3 313.6 426.2 315.1 426.0 316.6 426.1 318.1 426.1 319.6 426.3 321.1 426.5 322.6 426.6 324.1 426.7 325.6 426.7 327.1 426.9 328.6 427.1 330.1 427.3 331.6 427.1 333.1 427.1 334.6 427.1 336.1 427.1 337.6 427.0 339.1 426.9 340.6 427.0 342.1 427.1 343.6 427.0 345.1 427.1 346.6 427.2 348.1 427.1 349.6 427.1 351.1 427.2 352.6 427.2 354.1 427.2 355.6 427.2 357.1 427.0 358.6 426.9 360.1 426.9 361.6 426.8 363.1 426.8 364.6 426.8 366.1 426.7 367.6 426.8 369.1 426.6 370.6 426.7 372.1 426.6 373.6 426.6 375.1 426.5 376.6 426.4 378.1 426.6 379.6 426.7 381.1 426.8 382.6 426.8 384.1 426.8 385.6 426.8 387.1 427.0 388.6 427.2 390.1 427.1 391.6 427.1 393.1 427.0 394.6 427.0 396.1 427.0 397.6 427.0 399.1 427.0 400.6 427.0 402.1 427.0 403.6 426.9 405.1 426.6 406.6 426.5 408.1 426.5 409.6 426.6 411.1 426.7 412.6 426.7 414.1 426.6 415.6 426.5 417.1 426.7 418.6 426.7 420.1 426.6 421.6 426.5 423.1 426.5 424.6 426.6 426.1 426.5 427.6 426.5 429.1 426.6 430.6 426.4 432.1 426.5 433.6 426.5 435.1 426.5 436.6 426.5 438.1 426.5 439.6 426.3"/><path d="M280.6 430.9 282.1 430.4 283.6 429.9 285.1 429.3 286.6 428.8 288.1 428.4 289.6 428.1 291.1 427.6 292.6 427.2 294.1 426.9 295.6 426.6 297.1 426.4 298.6 426.2 300.1 426.1 301.6 426.0 303.1 425.9 304.6 425.7 306.1 425.6 307.6 425.4 309.1 425.3 310.6 425.4 312.1 425.2 313.6 425.2 315.1 425.2 316.6 425.1 318.1 425.0 319.6 424.9 321.1 425.0 322.6 424.9 324.1 424.8 325.6 424.8 327.1 424.9 328.6 424.8 330.1 424.7 331.6 424.7 333.1 424.5 334.6 424.5 336.1 424.6 337.6 424.5 339.1 424.6 340.6 424.7 342.1 424.7 343.6 424.4 345.1 424.3 346.6 424.5 348.1 424.5 349.6 424.5 351.1 424.4 352.6 424.3 354.1 424.2 355.6 424.2 357.1 424.1 358.6 424.2 360.1 424.0 361.6 424.0 363.1 424.2 364.6 424.3 366.1 424.4 367.6 424.3 369.1 424.2 370.6 424.2 372.1 424.2 373.6 424.2 375.1 424.1 376.6 424.1 378.1 424.2 379.6 424.1 381.1 424.2 382.6 424.1 384.1 424.1 385.6 424.1 387.1 424.1 388.6 423.9 390.1 423.8 391.6 423.8 393.1 423.8 394.6 423.5 396.1 423.6 397.6 423.8 399.1 423.8 400.6 423.9 402.1 424.1 403.6 424.1 405.1 424.2 406.6 424.1 408.1 424.0 409.6 424.1 411.1 423.9 412.6 423.6 414.1 423.6 415.6 423.7 417.1 423.8 418.6 423.9 420.1 424.0 421.6 424.0 423.1 424.0 424.6 424.0 426.1 424.2 427.6 424.0 429.1 423.9 430.6 423.9 432.1 423.9 433.6 423.9 435.1 423.8 436.6 423.8 438.1 423.7 439.6 423.8"/><path d="M280.6 430.1 282.1 429.4 283.6 428.8 285.1 428.5 286.6 428.0 288.1 427.7 289.6 427.4 291.1 427.2 292.6 426.8 294.1 426.5 295.6 426.3 297.1 426.3 298.6 426.2 300.1 425.8 301.6 425.7 303.1 425.5 304.6 425.2 306.1 425.0 307.6 425.1 309.1 425.1 310.6 424.8 312.1 424.6 313.6 424.6 315.1 424.4 316.6 424.2 318.1 424.1 319.6 424.2 321.1 424.3 322.6 424.4 324.1 424.3 325.6 424.4 327.1 424.5 328.6 424.3 330.1 424.3 331.6 424.2 333.1 424.2 334.6 424.1 336.1 423.9 337.6 424.0 339.1 424.0 340.6 424.2 342.1 424.1 343.6 424.2 345.1 424.1 346.6 424.1 348.1 424.1 349.6 424.3 351.1 424.2 352.6 424.3 354.1 424.3 355.6 424.2 357.1 424.2 358.6 424.3 360.1 424.2 361.6 423.9 363.1 424.0 364.6 424.1 366.1 423.9 367.6 423.9 369.1 424.1 370.6 423.9 372.1 424.1 373.6 424.0 375.1 424.0 376.6 423.9 378.1 423.9 379.6 423.8 381.1 423.8 382.6 423.8 384.1 423.8 385.6 423.6 387.1 423.5 388.6 423.6 390.1 423.7 391.6 423.7 393.1 423.5 394.6 423.6 396.1 423.6 397.6 423.9 399.1 423.8 400.6 423.9 402.1 423.8 403.6 423.8 405.1 423.8 406.6 423.7 408.1 423.6 409.6 423.8 411.1 423.8 412.6 423.7 414.1 423.7 415.6 423.6 417.1 423.7 418.6 423.8 420.1 424.0 421.6 423.9 423.1 423.9 424.6 423.9 426.1 423.9 427.6 423.9 429.1 423.9 430.6 423.8 432.1 423.8 433.6 423.9 435.1 424.0 436.6 423.8 438.1 423.8 439.6 424.0"/><path d="M280.6 415.6 282.1 415.4 283.6 415.5 285.1 415.4 286.6 415.4 288.1 415.2 289.6 415.1 291.1 415.0 292.6 414.9 294.1 415.1 295.6 415.0 297.1 414.9 298.6 415.0 300.1 415.0 301.6 414.9 303.1 414.8 304.6 414.8 306.1 414.9 307.6 414.8 309.1 414.9 310.6 414.8 312.1 414.8 313.6 414.9 315.1 414.8 316.6 414.9 318.1 414.8 319.6 414.7 321.1 414.6 322.6 414.4 324.1 414.4 325.6 414.6 327.1 414.9 328.6 414.8 330.1 414.9 331.6 414.8 333.1 414.9 334.6 415.0 336.1 415.0 337.6 414.9 339.1 414.9 340.6 414.9 342.1 414.8 343.6 414.8 345.1 414.9 346.6 414.9 348.1 414.8 349.6 414.7 351.1 414.7 352.6 414.8 354.1 414.9 355.6 414.8 357.1 414.8 358.6 414.8 360.1 414.8 361.6 414.7 363.1 414.7 364.6 414.8 366.1 414.8 367.6 414.9 369.1 414.9 370.6 414.8 372.1 414.8 373.6 414.8 375.1 414.9 376.6 414.9 378.1 414.9 379.6 414.8 381.1 414.8 382.6 414.8 384.1 414.8 385.6 414.8 387.1 414.9 388.6 414.9 390.1 414.9 391.6 415.0 393.1 415.0 394.6 414.9 396.1 415.0 397.6 415.0 399.1 415.0 400.6 415.1 402.1 415.0 403.6 414.9 405.1 415.0 406.6 415.0 408.1 415.0 409.6 415.1 411.1 415.0 412.6 415.0 414.1 414.8 415.6 415.0 417.1 415.1 418.6 415.1 420.1 415.1 421.6 415.1 423.1 415.1 424.6 415.1 426.1 415.2 427.6 414.9 429.1 414.8 430.6 414.8 432.1 414.9 433.6 414.8 435.1 414.7 436.6 414.6 438.1 414.6 439.6 414.6"/><path d="M280.6 414.5 282.1 414.6 283.6 414.6 285.1 414.3 286.6 414.4 288.1 414.2 289.6 414.3 291.1 414.1 292.6 414.1 294.1 414.2 295.6 414.0 297.1 414.1 298.6 414.2 300.1 414.0 301.6 413.6 303.1 413.6 304.6 413.6 306.1 413.7 307.6 413.5 309.1 413.8 310.6 413.7 312.1 413.8 313.6 413.9 315.1 414.0 316.6 414.1 318.1 413.9 319.6 413.9 321.1 414.0 322.6 414.0 324.1 414.0 325.6 414.1 327.1 414.1 328.6 414.1 330.1 414.0 331.6 414.1 333.1 414.1 334.6 414.1 336.1 414.1 337.6 414.2 339.1 414.3 340.6 414.3 342.1 414.4 343.6 414.4 345.1 414.3 346.6 414.1 348.1 413.8 349.6 413.8 351.1 413.8 352.6 413.9 354.1 414.0 355.6 413.9 357.1 413.9 358.6 414.1 360.1 414.0 361.6 413.9 363.1 414.0 364.6 414.1 366.1 414.1 367.6 413.9 369.1 413.8 370.6 413.9 372.1 413.9 373.6 414.1 375.1 414.3 376.6 414.1 378.1 414.2 379.6 414.6 381.1 414.3 382.6 414.1 384.1 414.1 385.6 414.1 387.1 414.3 388.6 414.4 390.1 414.3 391.6 414.4 393.1 414.4 394.6 414.5 396.1 414.4 397.6 414.3 399.1 414.3 400.6 414.4 402.1 414.3 403.6 414.2 405.1 414.4 406.6 414.3 408.1 414.3 409.6 414.2 411.1 414.4 412.6 414.3 414.1 414.2 415.6 414.1 417.1 414.1 418.6 414.1 420.1 414.3 421.6 414.2 423.1 414.3 424.6 414.3 426.1 414.0 427.6 414.2 429.1 414.2 430.6 414.1 432.1 414.2 433.6 414.0 435.1 414.1 436.6 414.0 438.1 414.1 439.6 414.1"/><path d="M280.6 418.1 282.1 417.9 283.6 417.7 285.1 417.4 286.6 417.3 288.1 417.1 289.6 417.0 291.1 416.8 292.6 416.8 294.1 416.6 295.6 416.4 297.1 416.3 298.6 416.1 300.1 416.0 301.6 416.0 303.1 416.0 304.6 416.0 306.1 415.9 307.6 416.0 309.1 415.9 310.6 415.9 312.1 415.9 313.6 415.9 315.1 415.7 316.6 415.6 318.1 415.4 319.6 415.3 321.1 415.4 322.6 415.6 324.1 415.6 325.6 415.5 327.1 415.7 328.6 415.8 330.1 415.9 331.6 415.9 333.1 415.9 334.6 415.9 336.1 416.0 337.6 416.0 339.1 416.1 340.6 416.1 342.1 416.1 343.6 416.2 345.1 416.2 346.6 416.4 348.1 416.2 349.6 416.0 351.1 415.9 352.6 415.9 354.1 416.0 355.6 416.1 357.1 415.9 358.6 415.8 360.1 415.9 361.6 415.8 363.1 415.7 364.6 415.6 366.1 415.8 367.6 415.9 369.1 415.9 370.6 415.9 372.1 416.0 373.6 416.0 375.1 415.9 376.6 415.8 378.1 415.9 379.6 415.6 381.1 415.6 382.6 415.7 384.1 415.7 385.6 415.8 387.1 415.7 388.6 415.8 390.1 415.8 391.6 415.8 393.1 415.8 394.6 415.6 396.1 415.7 397.6 415.8 399.1 415.9 400.6 416.0 402.1 415.9 403.6 415.9 405.1 415.8 406.6 415.7 408.1 415.7 409.6 415.7 411.1 415.6 412.6 415.6 414.1 415.6 415.6 415.6 417.1 415.5 418.6 415.6 420.1 415.6 421.6 415.7 423.1 415.7 424.6 415.6 426.1 415.6 427.6 415.8 429.1 415.8 430.6 415.8 432.1 415.8 433.6 415.7 435.1 415.7 436.6 415.9 438.1 416.0 439.6 415.9"/><path d="M280.6 423.7 282.1 423.5 283.6 423.2 285.1 422.8 286.6 422.5 288.1 422.2 289.6 422.0 291.1 422.0 292.6 421.8 294.1 421.4 295.6 421.4 297.1 421.4 298.6 421.1 300.1 421.1 301.6 420.9 303.1 420.6 304.6 420.4 306.1 420.3 307.6 420.2 309.1 420.1 310.6 420.1 312.1 419.9 313.6 419.7 315.1 419.7 316.6 419.7 318.1 419.5 319.6 419.6 321.1 419.8 322.6 419.8 324.1 419.6 325.6 419.6 327.1 419.6 328.6 419.3 330.1 419.3 331.6 419.4 333.1 419.6 334.6 419.7 336.1 419.6 337.6 419.6 339.1 419.4 340.6 419.5 342.1 419.3 343.6 419.2 345.1 419.4 346.6 419.6 348.1 419.7 349.6 419.8 351.1 419.6 352.6 419.6 354.1 419.6 355.6 419.6 357.1 419.7 358.6 419.5 360.1 419.4 361.6 419.4 363.1 419.3 364.6 419.1 366.1 419.1 367.6 418.9 369.1 419.1 370.6 419.2 372.1 419.2 373.6 419.3 375.1 419.4 376.6 419.2 378.1 419.3 379.6 419.3 381.1 419.4 382.6 419.4 384.1 419.5 385.6 419.6 387.1 419.5 388.6 419.5 390.1 419.7 391.6 419.9 393.1 419.8 394.6 419.7 396.1 419.6 397.6 419.6 399.1 419.7 400.6 419.5 402.1 419.5 403.6 419.4 405.1 419.3 406.6 419.2 408.1 419.3 409.6 419.6 411.1 419.5 412.6 419.4 414.1 419.3 415.6 419.1 417.1 419.0 418.6 418.9 420.1 418.8 421.6 418.7 423.1 418.8 424.6 418.8 426.1 418.7 427.6 418.7 429.1 418.8 430.6 419.1 432.1 419.0 433.6 419.0 435.1 419.1 436.6 419.1 438.1 419.0 439.6 419.1"/><path d="M280.6 413.8 282.1 413.7 283.6 413.5 285.1 413.1 286.6 413.1 288.1 413.1 289.6 413.2 291.1 413.0 292.6 413.1 294.1 413.2 295.6 413.2 297.1 413.2 298.6 413.3 300.1 413.2 301.6 413.3 303.1 413.2 304.6 413.1 306.1 413.1 307.6 413.0 309.1 412.9 310.6 412.9 312.1 412.8 313.6 412.9 315.1 412.9 316.6 413.0 318.1 412.9 319.6 412.9 321.1 412.9 322.6 412.8 324.1 412.8 325.6 413.0 327.1 412.9 328.6 412.7 330.1 412.6 331.6 412.5 333.1 412.5 334.6 412.5 336.1 412.5 337.6 412.6 339.1 412.5 340.6 412.4 342.1 412.5 343.6 412.5 345.1 412.5 346.6 412.3 348.1 412.4 349.6 412.5 351.1 412.4 352.6 412.4 354.1 412.3 355.6 412.2 357.1 412.2 358.6 412.1 360.1 412.0 361.6 412.1 363.1 412.3 364.6 412.2 366.1 412.4 367.6 412.3 369.1 412.3 370.6 412.3 372.1 412.4 373.6 412.4 375.1 412.3 376.6 412.3 378.1 412.4 379.6 412.4 381.1 412.6 382.6 412.8 384.1 413.1 385.6 413.0 387.1 412.8 388.6 412.8 390.1 412.8 391.6 412.8 393.1 412.8 394.6 412.6 396.1 412.6 397.6 412.6 399.1 412.6 400.6 412.5 402.1 412.6 403.6 412.5 405.1 412.6 406.6 412.7 408.1 412.7 409.6 412.7 411.1 412.5 412.6 412.6 414.1 412.8 415.6 412.7 417.1 412.6 418.6 412.6 420.1 412.5 421.6 412.6 423.1 412.5 424.6 412.3 426.1 412.4 427.6 412.5 429.1 412.4 430.6 412.3 432.1 412.3 433.6 412.1 435.1 412.1 436.6 412.3 438.1 412.4 439.6 412.4"/><path d="M280.6 418.6 282.1 418.1 283.6 417.6 285.1 417.2 286.6 416.8 288.1 416.6 289.6 416.5 291.1 416.1 292.6 415.9 294.1 415.9 295.6 415.6 297.1 415.3 298.6 415.2 300.1 415.0 301.6 414.9 303.1 414.8 304.6 414.9 306.1 415.0 307.6 414.9 309.1 414.7 310.6 414.7 312.1 414.6 313.6 414.8 315.1 414.8 316.6 414.6 318.1 414.6 319.6 414.4 321.1 414.4 322.6 414.4 324.1 414.5 325.6 414.6 327.1 414.5 328.6 414.5 330.1 414.4 331.6 414.3 333.1 414.2 334.6 414.4 336.1 414.6 337.6 414.6 339.1 414.4 340.6 414.4 342.1 414.5 343.6 414.4 345.1 414.4 346.6 414.5 348.1 414.4 349.6 414.5 351.1 414.5 352.6 414.4 354.1 414.5 355.6 414.4 357.1 414.3 358.6 414.5 360.1 414.5 361.6 414.5 363.1 414.6 364.6 414.5 366.1 414.3 367.6 414.3 369.1 414.3 370.6 414.4 372.1 414.3 373.6 414.3 375.1 414.3 376.6 414.1 378.1 414.1 379.6 414.2 381.1 414.2 382.6 414.0 384.1 414.0 385.6 414.0 387.1 414.0 388.6 414.1 390.1 414.1 391.6 414.1 393.1 414.1 394.6 414.1 396.1 414.0 397.6 414.2 399.1 414.2 400.6 414.1 402.1 414.1 403.6 414.0 405.1 413.8 406.6 413.8 408.1 414.0 409.6 414.0 411.1 414.1 412.6 414.3 414.1 414.2 415.6 414.2 417.1 414.2 418.6 414.1 420.1 414.4 421.6 414.3 423.1 414.3 424.6 414.0 426.1 414.1 427.6 414.1 429.1 414.0 430.6 414.4 432.1 414.2 433.6 414.3 435.1 414.4 436.6 414.5 438.1 414.3 439.6 414.5"/><path d="M280.6 422.0 282.1 421.7 283.6 421.7 285.1 421.4 286.6 421.2 288.1 421.1 289.6 420.9 291.1 420.8 292.6 421.0 294.1 421.0 295.6 421.0 297.1 421.2 298.6 421.0 300.1 420.8 301.6 420.7 303.1 420.5 304.6 420.6 306.1 420.6 307.6 420.5 309.1 420.5 310.6 420.5 312.1 420.5 313.6 420.5 315.1 420.5 316.6 420.4 318.1 420.5 319.6 420.5 321.1 420.5 322.6 420.6 324.1 420.7 325.6 420.7 327.1 420.8 328.6 420.9 330.1 420.8 331.6 420.7 333.1 420.7 334.6 420.6 336.1 420.7 337.6 420.8 339.1 421.0 340.6 421.0 342.1 421.0 343.6 420.8 345.1 420.6 346.6 420.5 348.1 420.4 349.6 420.6 351.1 420.6 352.6 420.7 354.1 420.6 355.6 420.9 357.1 420.8 358.6 420.9 360.1 420.8 361.6 421.1 363.1 421.2 364.6 421.3 366.1 421.1 367.6 421.1 369.1 421.0 370.6 420.9 372.1 420.8 373.6 420.8 375.1 420.7 376.6 420.6 378.1 420.8 379.6 420.8 381.1 420.7 382.6 420.6 384.1 420.5 385.6 420.6 387.1 420.5 388.6 420.6 390.1 420.3 391.6 420.5 393.1 420.3 394.6 420.3 396.1 420.4 397.6 420.4 399.1 420.4 400.6 420.5 402.1 420.5 403.6 420.6 405.1 420.6 406.6 420.7 408.1 420.7 409.6 420.6 411.1 420.5 412.6 420.5 414.1 420.4 415.6 420.5 417.1 420.5 418.6 420.4 420.1 420.4 421.6 420.4 423.1 420.4 424.6 420.5 426.1 420.6 427.6 420.6 429.1 420.6 430.6 420.7 432.1 420.8 433.6 420.7 435.1 420.7 436.6 420.8 438.1 421.0 439.6 420.9"/><path d="M280.6 423.1 282.1 422.8 283.6 422.6 285.1 422.5 286.6 422.1 288.1 421.8 289.6 421.8 291.1 421.5 292.6 421.5 294.1 421.5 295.6 421.5 297.1 421.4 298.6 421.4 300.1 421.2 301.6 421.1 303.1 420.7 304.6 420.7 306.1 420.6 307.6 420.5 309.1 420.5 310.6 420.3 312.1 420.2 313.6 420.1 315.1 420.0 316.6 420.0 318.1 420.0 319.6 420.1 321.1 420.1 322.6 420.0 324.1 419.9 325.6 419.8 327.1 419.9 328.6 419.7 330.1 419.7 331.6 419.9 333.1 420.0 334.6 420.2 336.1 420.1 337.6 420.2 339.1 420.2 340.6 420.1 342.1 420.2 343.6 420.3 345.1 420.2 346.6 420.4 348.1 420.2 349.6 420.2 351.1 420.4 352.6 420.2 354.1 420.3 355.6 420.5 357.1 420.5 358.6 420.6 360.1 420.3 361.6 420.1 363.1 420.0 364.6 420.1 366.1 420.1 367.6 420.1 369.1 420.3 370.6 420.3 372.1 420.3 373.6 420.0 375.1 420.2 376.6 420.0 378.1 419.9 379.6 419.8 381.1 419.8 382.6 420.0 384.1 419.8 385.6 419.9 387.1 420.0 388.6 419.9 390.1 420.0 391.6 420.1 393.1 420.2 394.6 420.1 396.1 420.0 397.6 419.9 399.1 419.9 400.6 419.8 402.1 419.7 403.6 419.6 405.1 419.6 406.6 419.6 408.1 419.8 409.6 419.4 411.1 419.3 412.6 419.3 414.1 419.4 415.6 419.5 417.1 419.7 418.6 419.8 420.1 419.8 421.6 419.8 423.1 420.0 424.6 420.1 426.1 420.0 427.6 419.9 429.1 419.9 430.6 419.9 432.1 420.0 433.6 420.2 435.1 420.0 436.6 420.2 438.1 420.3 439.6 420.2"/><path d="M280.6 425.1 282.1 424.8 283.6 424.6 285.1 424.2 286.6 424.0 288.1 423.7 289.6 423.4 291.1 423.1 292.6 423.0 294.1 422.6 295.6 422.5 297.1 422.4 298.6 422.2 300.1 421.7 301.6 421.7 303.1 421.7 304.6 421.6 306.1 421.4 307.6 421.3 309.1 421.1 310.6 421.1 312.1 421.1 313.6 421.1 315.1 421.2 316.6 421.2 318.1 421.1 319.6 421.0 321.1 420.9 322.6 420.8 324.1 420.6 325.6 420.7 327.1 420.8 328.6 420.9 330.1 420.7 331.6 420.7 333.1 420.7 334.6 420.7 336.1 420.7 337.6 420.7 339.1 420.7 340.6 420.5 342.1 420.4 343.6 420.5 345.1 420.5 346.6 420.2 348.1 420.1 349.6 420.0 351.1 420.0 352.6 420.2 354.1 420.2 355.6 420.2 357.1 420.0 358.6 420.2 360.1 420.2 361.6 420.3 363.1 420.1 364.6 420.1 366.1 420.2 367.6 420.4 369.1 420.4 370.6 420.5 372.1 420.5 373.6 420.4 375.1 420.4 376.6 420.4 378.1 420.4 379.6 420.6 381.1 420.7 382.6 420.6 384.1 420.5 385.6 420.3 387.1 420.5 388.6 420.5 390.1 420.5 391.6 420.6 393.1 420.5 394.6 420.6 396.1 420.5 397.6 420.6 399.1 420.6 400.6 420.5 402.1 420.5 403.6 420.3 405.1 420.3 406.6 420.0 408.1 420.2 409.6 420.2 411.1 420.1 412.6 420.1 414.1 420.1 415.6 420.1 417.1 420.1 418.6 419.9 420.1 419.7 421.6 419.7 423.1 419.9 424.6 419.9 426.1 419.9 427.6 420.0 429.1 420.0 430.6 420.2 432.1 420.0 433.6 420.2 435.1 420.2 436.6 420.2 438.1 420.0 439.6 420.1"/><path d="M280.6 419.9 282.1 419.2 283.6 418.6 285.1 418.2 286.6 418.1 288.1 417.7 289.6 417.5 291.1 417.2 292.6 417.0 294.1 416.9 295.6 416.7 297.1 416.5 298.6 416.4 300.1 416.4 301.6 416.3 303.1 416.3 304.6 416.2 306.1 416.2 307.6 416.0 309.1 415.9 310.6 415.9 312.1 415.8 313.6 415.8 315.1 415.8 316.6 415.9 318.1 416.0 319.6 416.0 321.1 415.8 322.6 415.9 324.1 416.1 325.6 416.0 327.1 416.0 328.6 416.0 330.1 415.9 331.6 415.9 333.1 416.1 334.6 416.2 336.1 416.3 337.6 416.3 339.1 416.1 340.6 416.1 342.1 416.1 343.6 416.2 345.1 416.2 346.6 416.3 348.1 416.3 349.6 416.1 351.1 416.4 352.6 416.4 354.1 416.6 355.6 416.7 357.1 416.6 358.6 416.4 360.1 416.3 361.6 416.4 363.1 416.4 364.6 416.3 366.1 416.1 367.6 416.1 369.1 416.1 370.6 416.1 372.1 416.0 373.6 416.1 375.1 416.4 376.6 416.2 378.1 416.1 379.6 416.0 381.1 416.2 382.6 416.2 384.1 416.2 385.6 416.1 387.1 416.1 388.6 416.0 390.1 416.0 391.6 415.9 393.1 415.9 394.6 416.0 396.1 416.0 397.6 415.8 399.1 416.0 400.6 416.2 402.1 416.1 403.6 416.1 405.1 416.1 406.6 416.2 408.1 416.2 409.6 416.1 411.1 416.1 412.6 416.2 414.1 416.3 415.6 416.2 417.1 416.1 418.6 416.1 420.1 416.1 421.6 416.3 423.1 416.2 424.6 416.3 426.1 416.3 427.6 416.4 429.1 416.3 430.6 416.4 432.1 416.4 433.6 416.2 435.1 416.1 436.6 416.3 438.1 416.3 439.6 416.2"/><path d="M280.6 431.6 282.1 431.7 283.6 431.6 285.1 431.6 286.6 431.6 288.1 431.6 289.6 431.6 291.1 431.6 292.6 431.5 294.1 431.4 295.6 431.4 297.1 431.5 298.6 431.5 300.1 431.5 301.6 431.6 303.1 431.9 304.6 431.9 306.1 431.8 307.6 431.8 309.1 431.6 310.6 431.7 312.1 431.7 313.6 431.8 315.1 431.9 316.6 431.8 318.1 431.9 319.6 431.8 321.1 431.9 322.6 431.8 324.1 431.8 325.6 431.8 327.1 431.7 328.6 431.8 330.1 432.0 331.6 431.8 333.1 431.7 334.6 431.7 336.1 431.6 337.6 431.6 339.1 431.6 340.6 431.6 342.1 431.6 343.6 431.8 345.1 431.7 346.6 431.9 348.1 432.1 349.6 432.1 351.1 432.0 352.6 431.9 354.1 431.8 355.6 431.9 357.1 431.7 358.6 431.7 360.1 431.7 361.6 431.6 363.1 431.7 364.6 431.5 366.1 431.5 367.6 431.6 369.1 431.5 370.6 431.6 372.1 431.5 373.6 431.6 375.1 431.5 376.6 431.4 378.1 431.4 379.6 431.3 381.1 431.3 382.6 431.3 384.1 431.1 385.6 431.1 387.1 431.1 388.6 431.2 390.1 431.3 391.6 431.4 393.1 431.5 394.6 431.5 396.1 431.6 397.6 431.6 399.1 431.5 400.6 431.5 402.1 431.4 403.6 431.4 405.1 431.3 406.6 431.1 408.1 431.0 409.6 431.1 411.1 431.2 412.6 431.3 414.1 431.2 415.6 431.4 417.1 431.4 418.6 431.5 420.1 431.5 421.6 431.5 423.1 431.5 424.6 431.5 426.1 431.4 427.6 431.3 429.1 431.5 430.6 431.4 432.1 431.5 433.6 431.4 435.1 431.7 436.6 431.6 438.1 431.8 439.6 431.8"/></g>
<g fill="none" stroke="#ff0000" stroke-width="0.5" stroke-opacity="0.4"><path d="M280.6 410.3 282.1 409.0 283.6 407.8 285.1 406.5 286.6 405.2 288.1 403.9 289.6 402.6 291.1 401.4 292.6 400.1 294.1 398.9 295.6 397.6 297.1 396.4 298.6 395.3 300.1 394.1 301.6 393.0 303.1 391.9 304.6 390.8 306.1 389.8 307.6 388.7 309.1 387.6 310.6 386.6 312.1 385.5 313.6 384.5 315.1 383.5 316.6 382.5 318.1 381.5 319.6 380.4 321.1 379.4 322.6 378.4 324.1 377.4 325.6 376.4 327.1 375.4 328.6 374.4 330.1 373.4 331.6 372.4 333.1 371.4 334.6 370.5 336.1 369.5 337.6 368.5 339.1 367.5 340.6 366.6 342.1 365.6 343.6 364.6 345.1 363.7 346.6 362.7 348.1 361.8 349.6 360.8 351.1 359.9 352.6 358.9 354.1 357.9 355.6 357.0 357.1 356.0 358.6 355.1 360.1 354.1 361.6 353.2 363.1 352.3 364.6 351.4 366.1 350.4 367.6 349.5 369.1 348.5 370.6 347.5 372.1 346.5 373.6 345.8 375.1 344.9 376.6 343.8 378.1 342.9 379.6 342.4 381.1 341.8 382.6 340.8 384.1 340.6 385.6 339.7 387.1 338.6 388.6 337.9 390.1 337.5 391.6 337.3 393.1 336.9 394.6 335.9 396.1 334.9 397.6 333.6 399.1 333.0 400.6 332.2 402.1 331.8 403.6 330.6 405.1 329.9 406.6 329.0 408.1 328.0 409.6 327.1 411.1 326.5 412.6 325.7 414.1 326.4 415.6 326.6 417.1 325.6 418.6 326.2 420.1 326.5 421.6 327.9 423.1 327.4 424.6 327.0 426.1 326.2 427.6 326.3 429.1 326.8 430.6 326.8 432.1 326.3 433.6 326.8 435.1 326.5 436.6 326.5 438.1 324.8 439.6 324.8"/><path d="M280.6 410.3 282.1 409.0 283.6 407.8 285.1 406.5 286.6 405.2 288.1 403.9 289.6 402.6 291.1 401.4 292.6 400.1 294.1 398.9 295.6 397.6 297.1 396.4 298.6 395.3 300.1 394.1 301.6 393.0 303.1 391.9 304.6 390.8 306.1 389.8 307.6 388.7 309.1 387.6 310.6 386.6 312.1 385.5 313.6 384.5 315.1 383.5 316.6 382.5 318.1 381.5 319.6 380.4 321.1 379.4 322.6 378.4 324.1 377.4 325.6 376.4 327.1 375.4 328.6 374.4 330.1 373.4 331.6 372.4 333.1 371.4 334.6 370.5 336.1 369.5 337.6 368.5 339.1 367.5 340.6 366.6 342.1 365.6 343.6 364.6 345.1 363.7 346.6 362.7 348.1 361.8 349.6 360.8 351.1 359.9 352.6 358.9 354.1 357.9 355.6 357.0 357.1 356.0 358.6 355.1 360.1 354.1 361.6 353.3 363.1 352.4 364.6 351.5 366.1 350.7 367.6 349.7 369.1 348.9 370.6 348.0 372.1 347.0 373.6 346.3 375.1 345.4 376.6 344.6 378.1 344.1 379.6 343.4 381.1 342.5 382.6 341.7 384.1 341.1 385.6 340.6 387.1 339.8 388.6 338.9 390.1 338.0 391.6 337.1 393.1 336.1 394.6 335.6 396.1 334.9 397.6 334.5 399.1 333.6 400.6 332.7 402.1 332.3 403.6 331.7 405.1 332.1 406.6 331.1 408.1 331.0 409.6 330.7 411.1 329.5 412.6 330.0 414.1 330.1 415.6 328.2 417.1 328.9 418.6 329.7 420.1 328.8 421.6 330.3 423.1 330.2 424.6 328.8 426.1 329.3 427.6 328.7 429.1 327.2 430.6 324.8 432.1 325.5 433.6 324.9 435.1 326.0 436.6 326.6 438.1 325.8 439.6 325.1"/><path d="M280.6 410.3 282.1 409.0 283.6 407.8 285.1 406.5 286.6 405.2 288.1 403.9 289.6 402.6 291.1 401.4 292.6 400.1 294.1 398.9 295.6 397.6 297.1 396.4 298.6 395.3 300.1 394.1 301.6 393.0 303.1 391.9 304.6 390.8 306.1 389.8 307.6 388.7 309.1 387.6 310.6 386.6 312.1 385.5 313.6 384.5 315.1 383.5 316.6 382.5 318.1 381.5 319.6 380.4 321.1 379.4 322.6 378.4 324.1 377.4 325.6 376.4 327.1 375.4 328.6 374.4 330.1 373.4 331.6 372.4 333.1 371.4 334.6 370.5 336.1 369.5 337.6 368.5 339.1 367.5 340.6 366.6 342.1 365.6 343.6 364.6 345.1 363.7 346.6 362.7 348.1 361.8 349.6 360.8 351.1 359.9 352.6 358.9 354.1 357.9 355.6 357.0 357.1 356.0 358.6 355.1 360.1 354.1 361.6 353.3 363.1 352.5 364.6 351.7 366.1 350.8 367.6 350.0 369.1 349.1 370.6 348.2 372.1 347.3 373.6 346.5 375.1 345.7 376.6 345.1 378.1 344.4 379.6 343.9 381.1 343.1 382.6 342.4 384.1 341.8 385.6 341.3 387.1 340.6 388.6 339.8 390.1 339.0 391.6 338.0 393.1 337.9 394.6 337.6 396.1 337.2 397.6 336.7 399.1 335.8 400.6 335.1 402.1 335.0 403.6 334.1 405.1 333.2 406.6 333.8 408.1 334.4 409.6 334.1 411.1 334.0 412.6 333.7 414.1 334.4 415.6 333.6 417.1 333.3 418.6 333.3 420.1 334.2 421.6 333.4 423.1 333.2 424.6 332.3 426.1 331.4 427.6 330.6 429.1 330.6 430.6 331.6 432.1 330.6 433.6 329.7 435.1 329.2 436.6 329.6 438.1 330.4 439.6 328.4"/><path d="M280.6 410.3 282.1 409.0 283.6 407.8 285.1 406.5 286.6 405.2 288.1 403.9 289.6 402.6 291.1 401.4 292.6 400.1 294.1 398.9 295.6 397.6 297.1 396.4 298.6 395.3 300.1 394.1 301.6 393.0 303.1 391.9 304.6 390.8 306.1 389.8 307.6 388.7 309.1 387.6 310.6 386.6 312.1 385.5 313.6 384.5 315.1 383.5 316.6 382.5 318.1 381.5 319.6 380.4 321.1 379.4 322.6 378.4 324.1 377.4 325.6 376.4 327.1 375.4 328.6 374.4 330.1 373.4 331.6 372.4 333.1 371.4 334.6 370.5 336.1 369.5 337.6 368.5 339.1 367.5 340.6 366.6 342.1 365.6 343.6 364.6 345.1 363.7 346.6 362.7 348.1 361.8 349.6 360.8 351.1 359.9 352.6 358.9 354.1 357.9 355.6 357.0 357.1 356.0 358.6 355.1 360.1 354.1 361.6 353.4 363.1 352.6 364.6 351.8 366.1 351.0 367.6 350.2 369.1 349.3 370.6 348.5 372.1 347.8 373.6 347.0 375.1 346.0 376.6 345.2 378.1 344.5 379.6 343.9 381.1 343.3 382.6 343.1 384.1 342.6 385.6 341.9 387.1 341.3 388.6 339.9 390.1 339.1 391.6 338.4 393.1 338.0 394.6 337.7 396.1 337.4 397.6 337.3 399.1 336.5 400.6 336.3 402.1 335.8 403.6 335.4 405.1 335.2 406.6 334.6 408.1 334.5 409.6 334.2 411.1 334.7 412.6 334.4 414.1 334.4 415.6 336.2 417.1 336.3 418.6 336.2 420.1 336.6 421.6 335.1 423.1 335.4 424.6 335.8 426.1 335.8 427.6 336.3 429.1 336.7 430.6 337.4 432.1 335.9 433.6 335.9 435.1 334.7 436.6 335.8 438.1 335.3 439.6 332.9"/></g>
<path d="M280.6 410.3 282.1 409.05 283.6 407.78 285.1 406.5 286.6 405.21 288.1 403.92 289.6 402.64 291.1 401.36 292.6 400.1 294.1 398.85 295.6 397.63 297.1 396.43 298.6 395.26 300.1 394.13 301.6 393.02 303.1 391.92 304.6 390.83 306.1 389.76 307.6 388.69 309.1 387.63 310.6 386.59 312.1 385.55 313.6 384.51 315.1 383.49 316.6 382.47 318.1 381.45 319.6 380.44 321.1 379.44 322.6 378.43 324.1 377.43 325.6 376.43 327.1 375.43 328.6 374.43 330.1 373.43 331.6 372.44 333.1 371.45 334.6 370.46 336.1 369.48 337.6 368.5 339.1 367.53 340.6 366.56 342.1 365.59 343.6 364.63 345.1 363.67 346.6 362.71 348.1 361.76 349.6 360.8 351.1 359.85 352.6 358.9 354.1 357.95 355.6 356.99 357.1 356.04 358.6 355.09 360.1 354.14 361.6 353.17 363.1 352.21 364.6 351.23 366.1 350.24 367.6 349.27 369.1 348.29 370.6 347.32 372.1 346.32 373.6 345.43 375.1 344.52 376.6 343.58 378.1 342.75 379.6 341.92 381.1 341.1 382.6 340.36 384.1 339.7 385.6 338.92 387.1 338.24 388.6 337.61 390.1 336.69 391.6 335.86 393.1 335.19 394.6 334.24 396.1 333.5 397.6 333 399.1 332.45 400.6 331.85 402.1 330.88 403.6 330.65 405.1 330.1 406.6 329.62 408.1 329.15 409.6 328.31 411.1 327.62 412.6 327.06 414.1 327.26 415.6 326.78 417.1 326.47 418.6 326.17 420.1 326.07 421.6 325.93 423.1 325.73 424.6 325.09 426.1 323.94 427.6 323.96 429.1 323.97 430.6 324.27 432.1 324.03 433.6 323.58 435.1 323.49 436.6 322.58 438.1 321.93 439.6 321.33" fill="none" stroke="#ff0000" stroke-width="0.9" stroke-linejoin="round" stroke-opacity="0.7"/>
<path d="M374.7 329.2H434" stroke="#111" stroke-width="0.9" stroke-dasharray="3.1 6.2"/>
<path d="M281 421.3 282.5 420.62 284 419.94 285.5 419.25 287 418.57 288.5 417.88 290 417.19 291.5 416.5 293 415.82 294.5 415.13 296 414.46 297.5 413.79 299 413.12 300.5 412.47 302 411.82 303.5 411.19 305 410.57 306.5 409.95 308 409.35 309.5 408.75 311 408.16 312.5 407.58 314 406.99 315.5 406.41 317 405.83 318.5 405.25 320 404.67 321.5 404.09 323 403.5 324.5 402.9 326 402.3 327.5 401.69 329 401.07 330.5 400.44 332 399.81 333.5 399.17 335 398.53 336.5 397.89 338 397.25 339.5 396.6 341 395.94 342.5 395.29 344 394.62 345.5 393.96 347 393.28 348.5 392.61 350 391.92 351.5 391.23 353 390.54 354.5 389.84 356 389.13 357.5 388.41 359 387.69 360.5 386.96 362 386.22 363.5 385.48 365 384.73 366.5 383.98 368 383.23 369.5 382.47 371 381.7 372.5 380.93 374 380.16 375.5 379.39 377 378.61 378.5 377.84 380 377.06 381.5 376.25 383 375.38 384.5 374.48 386 373.57 387.5 372.7 389 371.89 390.5 371.17 392 370.54 393.5 369.98 395 369.45 396.5 368.94 398 368.43 399.5 367.89 401 367.29 402.5 366.61 404 365.88 405.5 365.14 407 364.46 408.5 363.89 410 363.49 411.5 363.32 413 363.34 414.5 363.46 416 363.6 417.5 363.82 419 364.17 420.5 364.53 422 364.82 423.5 364.95 425 364.8 426.5 364.36 428 363.72 429.5 362.99 431 362.31 432.5 361.78 434 361.92 435.5 362.29 437 361.76" fill="none" stroke="#0000ff" stroke-width="1.3" stroke-linejoin="round" />
<path d="M270.2 426.8 271.7 425.86 273.2 424.9 274.7 423.93 276.2 422.97 277.7 422.04 279.2 421.16 280.7 420.35 282.2 419.6 283.7 418.86 285.2 418.14 286.7 417.42 288.2 416.72 289.7 416.03 291.2 415.35 292.7 414.68 294.2 414.02 295.7 413.37 297.2 412.72 298.7 412.09 300.2 411.46 301.7 410.83 303.2 410.22 304.7 409.62 306.2 409.05 307.7 408.5 309.2 407.96 310.7 407.44 312.2 406.93 313.7 406.42 315.2 405.91 316.7 405.4 318.2 404.88 319.7 404.35 321.2 403.81 322.7 403.25 324.2 402.66 325.7 402.05 327.2 401.41 328.7 400.73 330.2 400.01 331.7 399.25 333.2 398.45 334.7 397.61 336.2 396.74 337.7 395.85 339.2 394.94 340.7 394.01 342.2 393.07 343.7 392.13 345.2 391.19 346.7 390.25 348.2 389.33 349.7 388.42 351.2 387.53 352.7 386.67 354.2 385.83 355.7 385.02 357.2 384.22 358.7 383.43 360.2 382.65 361.7 381.88 363.2 381.12 364.7 380.36 366.2 379.59 367.7 378.83 369.2 378.06 370.7 377.27 372.2 376.48 373.7 375.68 375.2 374.86 376.7 374.01 378.2 373.15 379.7 372.26 381.2 371.31 382.7 370.18 384.2 368.91 385.7 367.58 387.2 366.25 388.7 364.99 390.2 363.86 391.7 362.79 393.2 361.71 394.7 360.65 396.2 359.6 397.7 358.57 399.2 357.58 400.7 356.63 402.2 355.72 403.7 354.88 405.2 354.1 406.7 354.24 408.2 355.2 409.7 355.07 411.2 354.85 412.7 354.55 414.2 354.22 415.7 353.9 417.2 353.61 418.7 353.39 420.2 353.29 421.7 353.45 423.2 353.78 424.7 354.09 426.2 354.2 427.7 354.05 429.2 353.74 430.7 353.37 432.2 352.98 433.7 352.66 435.2 352.46 436.7 352.31 438.2 352.21 439.7 352.11" fill="none" stroke="#00ff00" stroke-width="1.3" stroke-linejoin="round" />
<rect x="270.2" y="315.4" width="171.3" height="116.2" fill="none" stroke="#686868" stroke-width="1.25"/>
<path d="M270.2 431.6v-1.6M270.2 315.4v1.6" stroke="#686868" stroke-width="0.8"/>
<path d="M340.9 431.6v-1.6M340.9 315.4v1.6" stroke="#686868" stroke-width="0.8"/>
<path d="M411.6 431.6v-1.6M411.6 315.4v1.6" stroke="#686868" stroke-width="0.8"/>
<path d="M270.2 424h1.6M441.5 424h-1.6" stroke="#686868" stroke-width="0.8"/>
<path d="M270.2 373.5h1.6M441.5 373.5h-1.6" stroke="#686868" stroke-width="0.8"/>
<path d="M270.2 323h1.6M441.5 323h-1.6" stroke="#686868" stroke-width="0.8"/>
<text transform="translate(270.5 451.3) scale(1 1.1)" text-anchor="middle" font-size="13.2">10<tspan font-size="10" dy="-5.8" dx="-0.3">0</tspan></text>
<text transform="translate(341.2 451.3) scale(1 1.1)" text-anchor="middle" font-size="13.2">10<tspan font-size="10" dy="-5.8" dx="-0.3">2</tspan></text>
<text transform="translate(411.9 451.3) scale(1 1.1)" text-anchor="middle" font-size="13.2">10<tspan font-size="10" dy="-5.8" dx="-0.3">4</tspan></text>
<text transform="translate(261.8 429.3) scale(1 1.1)" text-anchor="end" font-size="13.2">10<tspan font-size="10" dy="-5.8" dx="-0.3">0</tspan></text>
<text transform="translate(261.8 378.8) scale(1 1.1)" text-anchor="end" font-size="13.2">10<tspan font-size="10" dy="-5.8" dx="-0.3">2</tspan></text>
<text transform="translate(261.8 328.3) scale(1 1.1)" text-anchor="end" font-size="13.2">10<tspan font-size="10" dy="-5.8" dx="-0.3">4</tspan></text>
<text x="281.3" y="332.8" text-anchor="start" font-size="13" >R<tspan font-size="10" dy="3.8">c</tspan><tspan dy="-3.8"> = 1</tspan></text>
<text x="356.3" y="463" text-anchor="middle" font-size="13.4" >&#916; or t</text>
<text x="40.3" y="7.6" font-size="11" font-weight="bold">(A)</text>
<text x="265.3" y="9.6" font-size="11" font-weight="bold">(B)</text>
<text x="30.1" y="159" font-size="11" font-weight="bold">(C)</text>
<text x="257.1" y="159.4" font-size="11" font-weight="bold">(D)</text>
<text x="40.5" y="310.5" font-size="11" font-weight="bold">(E)</text>
<text x="267" y="311" font-size="11" font-weight="bold">(F)</text>
<text x="131" y="7.6" text-anchor="middle" font-size="10.5" font-weight="bold">In&#8722;Out</text>
<text x="366" y="7.6" text-anchor="middle" font-size="10.5" font-weight="bold">Out&#8722;In</text>
<text x="127" y="160" text-anchor="middle" font-size="13" >t</text>
<text x="354" y="162" text-anchor="middle" font-size="13" >t</text>
<text x="125" y="309.7" text-anchor="middle" font-size="13" >t</text>
<text x="350.2" y="311.5" text-anchor="middle" font-size="13" >t</text>
<text transform="translate(9.6 71.2) rotate(-90)" text-anchor="middle" font-size="13.6">MSD</text>
<text transform="translate(236.4 72) rotate(-90)" text-anchor="middle" font-size="13.6">MSD</text>
<text transform="translate(12.0 220.2) rotate(-90)" text-anchor="middle" font-size="13.8">&#946;(t)</text>
<text transform="translate(238.4 221.6) rotate(-90)" text-anchor="middle" font-size="13.8">&#946;(t)</text>
<text transform="translate(13.8 380) rotate(-90)" text-anchor="middle" font-size="13"><tspan fill="#ff0000" stroke="#ff0000">&#948;<tspan font-size="9.5" dy="-5.8">2</tspan><tspan dy="5.8">(&#916;), </tspan></tspan><tspan fill="#0000ff" stroke="#0000ff">&lt;&#948;<tspan font-size="9.5" dy="-5.8">2</tspan><tspan dy="5.8">(&#916;)&gt;, </tspan></tspan><tspan fill="#00ff00" stroke="#00ff00">&lt;r<tspan font-size="9.5" dy="-5.8">2</tspan><tspan dy="5.8">(t)&gt;</tspan></tspan></text>
<text transform="translate(240.6 377.2) rotate(-90)" text-anchor="middle" font-size="13"><tspan fill="#ff0000" stroke="#ff0000">&#948;<tspan font-size="9.5" dy="-5.8">2</tspan><tspan dy="5.8">(&#916;), </tspan></tspan><tspan fill="#0000ff" stroke="#0000ff">&lt;&#948;<tspan font-size="9.5" dy="-5.8">2</tspan><tspan dy="5.8">(&#916;)&gt;, </tspan></tspan><tspan fill="#00ff00" stroke="#00ff00">&lt;r<tspan font-size="9.5" dy="-5.8">2</tspan><tspan dy="5.8">(t)&gt;</tspan></tspan></text>
</svg></body></html>
